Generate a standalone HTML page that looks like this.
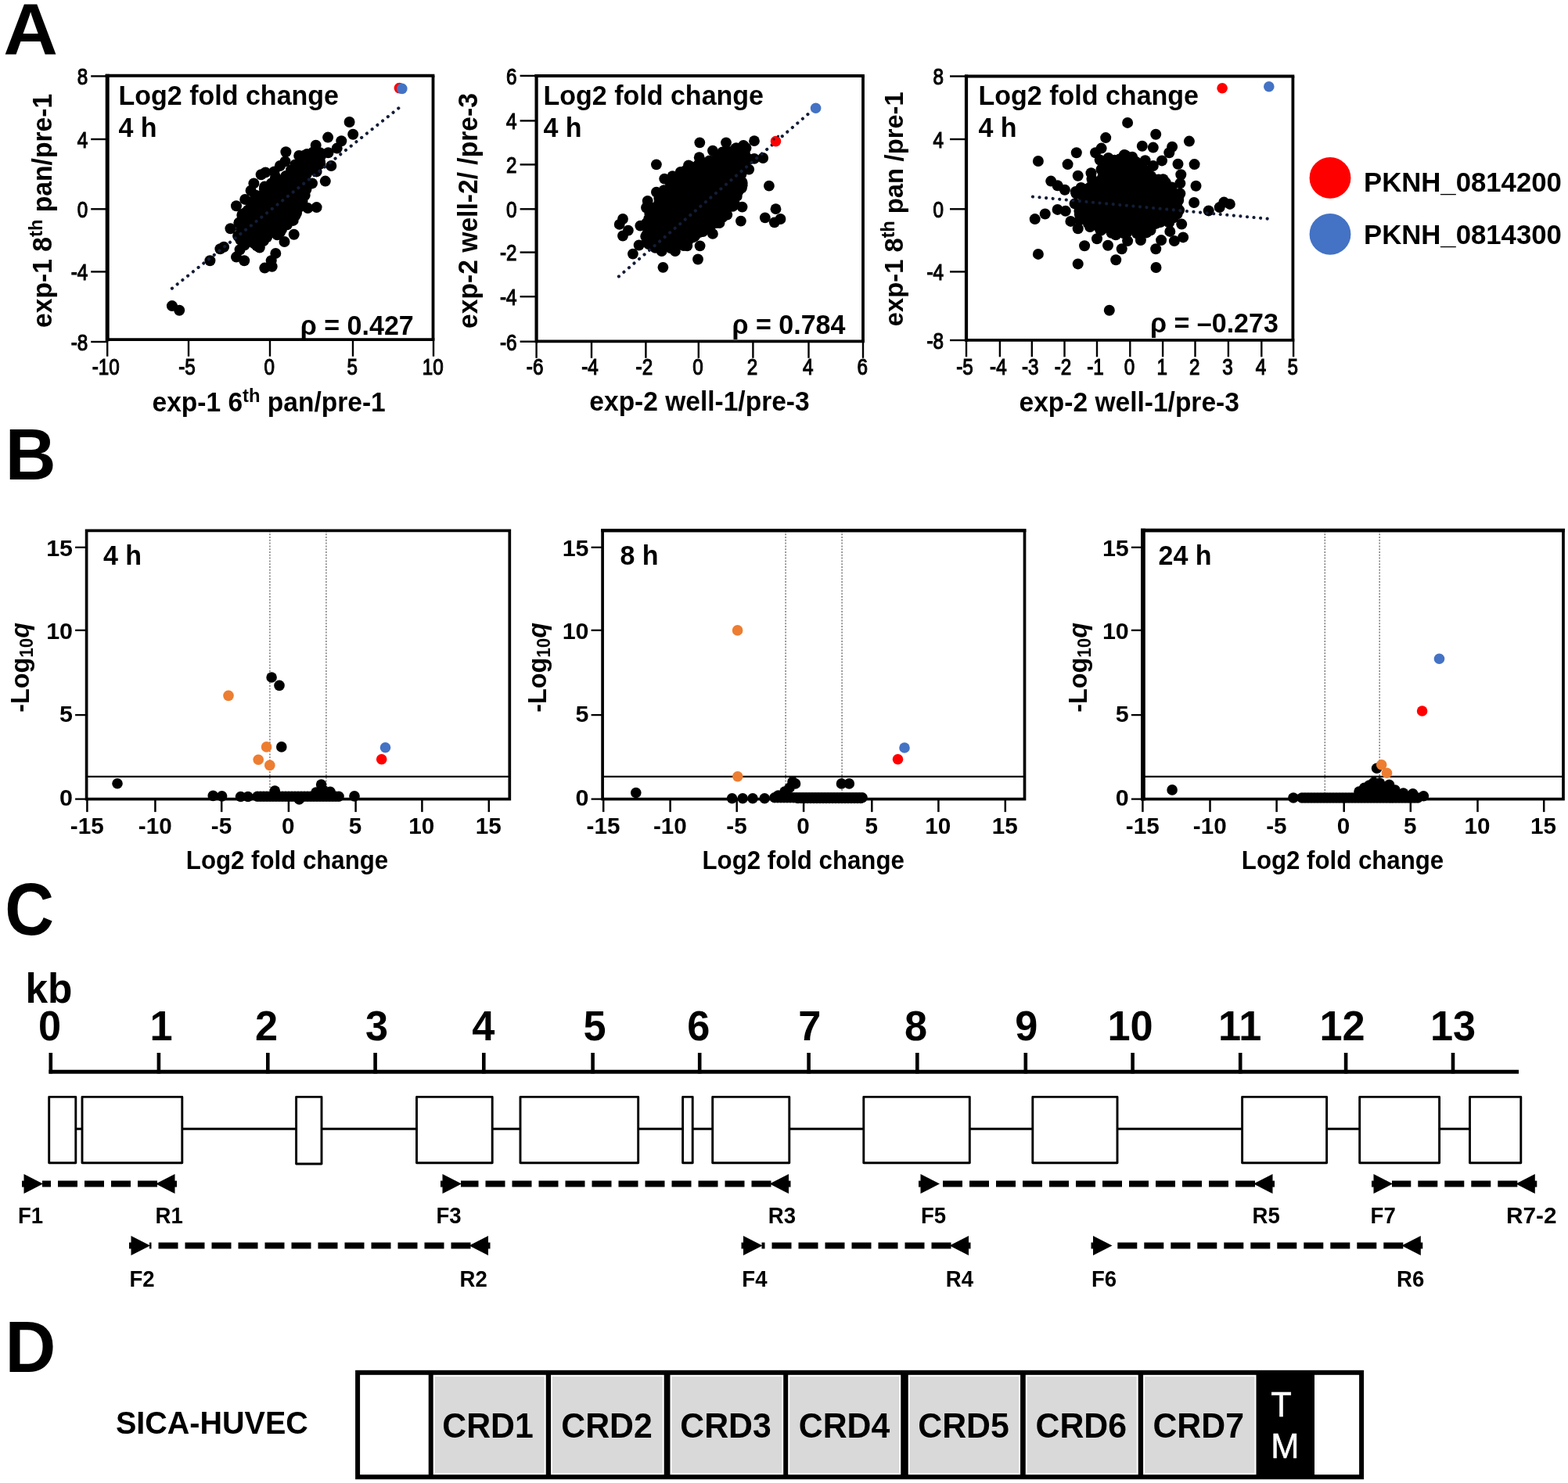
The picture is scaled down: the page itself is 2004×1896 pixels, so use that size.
<!DOCTYPE html>
<html lang="en"><head><meta charset="utf-8"><title>Figure</title>
<style>html,body{margin:0;padding:0;background:#fff}svg{display:block}text{font-family:'Liberation Sans', Arial, Helvetica, sans-serif}</style>
</head><body>
<svg width="2004" height="1896" viewBox="0 0 2004 1896">
<rect width="2004" height="1896" fill="#fff"/>
<text transform="translate(4.2 68.6) scale(1.0360 1)" font-size="93.2" font-weight="bold" text-anchor="start" fill="#000">A</text>
<text transform="translate(6.8 613) scale(0.9637 1)" font-size="93.2" font-weight="bold" text-anchor="start" fill="#000">B</text>
<text transform="translate(6.2 1195.2) scale(0.9203 1)" font-size="94.4" font-weight="bold" text-anchor="start" fill="#000">C</text>
<text transform="translate(6.4 1754.4) scale(0.9637 1)" font-size="93.2" font-weight="bold" text-anchor="start" fill="#000">D</text>
<line x1="137.2" y1="94.8" x2="137.2" y2="436.2" stroke="#000" stroke-width="5"/>
<line x1="134.7" y1="96.8" x2="555.4" y2="96.8" stroke="#000" stroke-width="4"/>
<line x1="553.5" y1="96.8" x2="553.5" y2="434.2" stroke="#000" stroke-width="3.8"/>
<line x1="137.2" y1="434.2" x2="555.4" y2="434.2" stroke="#000" stroke-width="3.8"/>
<line x1="116.2" y1="97.4" x2="137.2" y2="97.4" stroke="#000" stroke-width="2.4"/>
<text transform="translate(112.2 108.2) scale(0.8191 1)" font-size="29.6" font-weight="normal" text-anchor="end" fill="#000" stroke="#000" stroke-width="1.2">8</text>
<line x1="116.2" y1="178" x2="137.2" y2="178" stroke="#000" stroke-width="2.4"/>
<text transform="translate(112.2 188.8) scale(0.8191 1)" font-size="29.6" font-weight="normal" text-anchor="end" fill="#000" stroke="#000" stroke-width="1.2">4</text>
<line x1="116.2" y1="267.3" x2="137.2" y2="267.3" stroke="#000" stroke-width="2.4"/>
<text transform="translate(112.2 278.1) scale(0.8191 1)" font-size="29.6" font-weight="normal" text-anchor="end" fill="#000" stroke="#000" stroke-width="1.2">0</text>
<line x1="116.2" y1="347.4" x2="137.2" y2="347.4" stroke="#000" stroke-width="2.4"/>
<text transform="translate(112.2 358.2) scale(0.8191 1)" font-size="29.6" font-weight="normal" text-anchor="end" fill="#000" stroke="#000" stroke-width="1.2">-4</text>
<line x1="116.2" y1="437" x2="137.2" y2="437" stroke="#000" stroke-width="2.4"/>
<text transform="translate(112.2 447.8) scale(0.8191 1)" font-size="29.6" font-weight="normal" text-anchor="end" fill="#000" stroke="#000" stroke-width="1.2">-8</text>
<line x1="137.2" y1="434.2" x2="137.2" y2="455.7" stroke="#000" stroke-width="2.4"/>
<text transform="translate(135.2 478.6) scale(0.8191 1)" font-size="29.6" font-weight="normal" text-anchor="middle" fill="#000" stroke="#000" stroke-width="1.2">-10</text>
<line x1="241" y1="434.2" x2="241" y2="455.7" stroke="#000" stroke-width="2.4"/>
<text transform="translate(239 478.6) scale(0.8191 1)" font-size="29.6" font-weight="normal" text-anchor="middle" fill="#000" stroke="#000" stroke-width="1.2">-5</text>
<line x1="345" y1="434.2" x2="345" y2="455.7" stroke="#000" stroke-width="2.4"/>
<text transform="translate(344.2 478.6) scale(0.8191 1)" font-size="29.6" font-weight="normal" text-anchor="middle" fill="#000" stroke="#000" stroke-width="1.2">0</text>
<line x1="451" y1="434.2" x2="451" y2="455.7" stroke="#000" stroke-width="2.4"/>
<text transform="translate(450.2 478.6) scale(0.8191 1)" font-size="29.6" font-weight="normal" text-anchor="middle" fill="#000" stroke="#000" stroke-width="1.2">5</text>
<line x1="554" y1="434.2" x2="554" y2="455.7" stroke="#000" stroke-width="2.4"/>
<text transform="translate(553.2 478.6) scale(0.8191 1)" font-size="29.6" font-weight="normal" text-anchor="middle" fill="#000" stroke="#000" stroke-width="1.2">10</text>
<text transform="translate(65.7 269.4) rotate(-90) scale(0.9637 1)" font-size="34.9" font-weight="bold" text-anchor="middle" fill="#000">exp-1 8<tspan dy="-11.6" font-size="24.7">th</tspan><tspan dy="11.6" font-size="35.3">&#8203;</tspan> pan/pre-1</text>
<text transform="translate(343.6 525.5) scale(0.9637 1)" font-size="34.8" font-weight="bold" text-anchor="middle" fill="#000">exp-1 6<tspan dy="-11.6" font-size="24.7">th</tspan><tspan dy="11.6" font-size="35.3">&#8203;</tspan> pan/pre-1</text>
<text transform="translate(151.5 134.4) scale(0.9637 1)" font-size="35.3" font-weight="bold" text-anchor="start" fill="#000">Log2 fold change</text>
<text transform="translate(151.5 174.5) scale(0.9637 1)" font-size="35.3" font-weight="bold" text-anchor="start" fill="#000">4 h</text>
<text transform="translate(383.8 427.7) scale(0.9637 1)" font-size="35.3" font-weight="bold" text-anchor="start" fill="#000">&#961; = 0.427</text>
<g fill="#000">
<circle cx="446.6" cy="156" r="7"/><circle cx="451.2" cy="171.8" r="7"/><circle cx="419.1" cy="175.6" r="7"/><circle cx="436.3" cy="180.2" r="7"/><circle cx="403.7" cy="185.8" r="7"/><circle cx="430.7" cy="189.6" r="7"/><circle cx="365.4" cy="194.2" r="7"/><circle cx="419.5" cy="195.2" r="7"/><circle cx="382.2" cy="198.9" r="7"/><circle cx="364.5" cy="206.4" r="7"/><circle cx="423.3" cy="212" r="7"/><circle cx="339.3" cy="220.4" r="7"/><circle cx="333.7" cy="223.2" r="7"/><circle cx="415.8" cy="231.6" r="7"/><circle cx="320.6" cy="243.7" r="7"/><circle cx="302" cy="263.3" r="7"/><circle cx="404.6" cy="265.1" r="7"/><circle cx="393.4" cy="266.1" r="7"/><circle cx="294.5" cy="292.2" r="7"/><circle cx="305.7" cy="284.7" r="7"/><circle cx="374.7" cy="281.9" r="7"/><circle cx="375.7" cy="299.7" r="7"/><circle cx="363.5" cy="309" r="7"/><circle cx="306.6" cy="319.3" r="7"/><circle cx="302" cy="328.6" r="7"/><circle cx="312.2" cy="333.3" r="7"/><circle cx="281.4" cy="318.3" r="7"/><circle cx="268.4" cy="333.3" r="7"/><circle cx="352.3" cy="323.9" r="7"/><circle cx="346.7" cy="333.3" r="7"/><circle cx="338.3" cy="342.6" r="7"/><circle cx="347.7" cy="340.7" r="7"/><circle cx="219.9" cy="391.1" r="7"/><circle cx="229.2" cy="396.7" r="7"/><circle cx="286.1" cy="315.7" r="7"/><circle cx="395.3" cy="204.5" r="7"/><circle cx="404.6" cy="219.4" r="7"/><circle cx="385.9" cy="212" r="7"/><circle cx="376.6" cy="219.4" r="7"/><circle cx="316.9" cy="297.8" r="7"/><circle cx="324.4" cy="310.9" r="7"/><circle cx="331.8" cy="316.5" r="7"/><circle cx="357.9" cy="288.5" r="7"/><circle cx="367.3" cy="275.4" r="7"/><circle cx="384.1" cy="254.9" r="7"/><circle cx="391.5" cy="241.8" r="7"/><circle cx="399" cy="234.4" r="7"/><circle cx="313.2" cy="254.9" r="7"/><circle cx="309.4" cy="275.4" r="7"/><circle cx="324.4" cy="234.4" r="7"/><circle cx="350.5" cy="219.4" r="7"/><circle cx="357.9" cy="212" r="7"/><circle cx="348.8" cy="274.8" r="7"/><circle cx="342.1" cy="268" r="7"/><circle cx="331.4" cy="282.1" r="7"/><circle cx="370.7" cy="248.2" r="7"/><circle cx="367.9" cy="248.3" r="7"/><circle cx="356.8" cy="260" r="7"/><circle cx="328.5" cy="304.2" r="7"/><circle cx="361.3" cy="260.2" r="7"/><circle cx="305.4" cy="285" r="7"/><circle cx="329.8" cy="279.4" r="7"/><circle cx="353.3" cy="259.9" r="7"/><circle cx="351.6" cy="251.3" r="7"/><circle cx="357.2" cy="263.2" r="7"/><circle cx="352.7" cy="291.7" r="7"/><circle cx="368.3" cy="264.6" r="7"/><circle cx="331.9" cy="272.3" r="7"/><circle cx="342" cy="271.8" r="7"/><circle cx="361.2" cy="255.9" r="7"/><circle cx="332.9" cy="267.3" r="7"/><circle cx="350.7" cy="285.2" r="7"/><circle cx="337.4" cy="283.3" r="7"/><circle cx="342.7" cy="246.7" r="7"/><circle cx="360.8" cy="275.1" r="7"/><circle cx="312.5" cy="301.9" r="7"/><circle cx="339.7" cy="261.9" r="7"/><circle cx="356.3" cy="256.1" r="7"/><circle cx="331.6" cy="300.2" r="7"/><circle cx="367.9" cy="260.5" r="7"/><circle cx="375.6" cy="241.4" r="7"/><circle cx="339.2" cy="253.9" r="7"/><circle cx="353.4" cy="249.7" r="7"/><circle cx="330.1" cy="265.1" r="7"/><circle cx="328" cy="280.4" r="7"/><circle cx="352.2" cy="226.2" r="7"/><circle cx="326.6" cy="295.6" r="7"/><circle cx="377.5" cy="243" r="7"/><circle cx="348.1" cy="253.7" r="7"/><circle cx="338.6" cy="294.8" r="7"/><circle cx="368.2" cy="246.3" r="7"/><circle cx="356.5" cy="264.7" r="7"/><circle cx="380.4" cy="240.5" r="7"/><circle cx="362" cy="260.4" r="7"/><circle cx="333.9" cy="305.6" r="7"/><circle cx="369" cy="251.9" r="7"/><circle cx="310.5" cy="298.8" r="7"/><circle cx="346.7" cy="236.3" r="7"/><circle cx="354.5" cy="277.3" r="7"/><circle cx="341" cy="303.2" r="7"/><circle cx="356.4" cy="254.4" r="7"/><circle cx="359.7" cy="264.8" r="7"/><circle cx="360.6" cy="272.5" r="7"/><circle cx="334.1" cy="275.5" r="7"/><circle cx="366.1" cy="246.5" r="7"/><circle cx="342.3" cy="290" r="7"/><circle cx="368.9" cy="234.8" r="7"/><circle cx="324.6" cy="291.3" r="7"/><circle cx="343.5" cy="266.6" r="7"/><circle cx="362.9" cy="231.6" r="7"/><circle cx="358.4" cy="232.5" r="7"/><circle cx="341.1" cy="285.8" r="7"/><circle cx="374.8" cy="251.1" r="7"/><circle cx="355.6" cy="260.6" r="7"/><circle cx="356.2" cy="267.5" r="7"/><circle cx="348.1" cy="271.5" r="7"/><circle cx="358.1" cy="255.2" r="7"/><circle cx="366.2" cy="255.8" r="7"/><circle cx="384.7" cy="230.3" r="7"/><circle cx="338.3" cy="271.4" r="7"/><circle cx="356.5" cy="273.3" r="7"/><circle cx="346.4" cy="275.4" r="7"/><circle cx="332.2" cy="289.3" r="7"/><circle cx="357.3" cy="260.3" r="7"/><circle cx="347.2" cy="279.2" r="7"/><circle cx="348.7" cy="256.7" r="7"/><circle cx="391.9" cy="222.6" r="7"/><circle cx="338.6" cy="275.9" r="7"/><circle cx="344.3" cy="269.9" r="7"/><circle cx="355.1" cy="238" r="7"/><circle cx="355.8" cy="274.6" r="7"/><circle cx="375.8" cy="261.1" r="7"/><circle cx="317.4" cy="295.7" r="7"/><circle cx="348.4" cy="277.3" r="7"/><circle cx="354" cy="234.4" r="7"/><circle cx="346.9" cy="241.8" r="7"/><circle cx="361.9" cy="271.8" r="7"/><circle cx="347.8" cy="270.4" r="7"/><circle cx="363" cy="252" r="7"/><circle cx="360.5" cy="279.4" r="7"/><circle cx="363.4" cy="243.9" r="7"/><circle cx="361.4" cy="246.7" r="7"/><circle cx="357" cy="268.9" r="7"/><circle cx="357.9" cy="266.7" r="7"/><circle cx="310.2" cy="283.7" r="7"/><circle cx="350.4" cy="247.1" r="7"/><circle cx="318.8" cy="274.4" r="7"/><circle cx="376.1" cy="247.7" r="7"/><circle cx="364.8" cy="231" r="7"/><circle cx="338.7" cy="257.4" r="7"/><circle cx="375.1" cy="263.6" r="7"/><circle cx="347.5" cy="294.8" r="7"/><circle cx="363.4" cy="245.9" r="7"/><circle cx="328.3" cy="314.2" r="7"/><circle cx="341.8" cy="263.3" r="7"/><circle cx="358.8" cy="261.6" r="7"/><circle cx="364.5" cy="229.9" r="7"/><circle cx="380.4" cy="255.8" r="7"/><circle cx="371" cy="237.1" r="7"/><circle cx="345.2" cy="288" r="7"/><circle cx="351.6" cy="264.8" r="7"/><circle cx="369.8" cy="237" r="7"/><circle cx="307.3" cy="306.8" r="7"/><circle cx="325.1" cy="307.5" r="7"/><circle cx="348.5" cy="255.4" r="7"/><circle cx="355.7" cy="272.6" r="7"/><circle cx="361.5" cy="274.6" r="7"/><circle cx="356.7" cy="275.1" r="7"/><circle cx="387.3" cy="249.9" r="7"/><circle cx="345.2" cy="285.5" r="7"/><circle cx="308.1" cy="293.5" r="7"/><circle cx="325.5" cy="311.5" r="7"/><circle cx="328.1" cy="289.4" r="7"/><circle cx="345.2" cy="269.5" r="7"/><circle cx="340.9" cy="279.1" r="7"/><circle cx="378.6" cy="232.4" r="7"/><circle cx="366.1" cy="263.6" r="7"/><circle cx="334.3" cy="260.3" r="7"/><circle cx="348.8" cy="284.8" r="7"/><circle cx="316.2" cy="292.8" r="7"/><circle cx="372.2" cy="252.9" r="7"/><circle cx="355.8" cy="272" r="7"/><circle cx="341.1" cy="254" r="7"/><circle cx="317.2" cy="291" r="7"/><circle cx="358.9" cy="244.2" r="7"/><circle cx="327" cy="277.4" r="7"/><circle cx="322.3" cy="294.3" r="7"/><circle cx="332.3" cy="291.3" r="7"/><circle cx="312.5" cy="313.4" r="7"/><circle cx="321" cy="263.5" r="7"/><circle cx="358.2" cy="250.2" r="7"/><circle cx="304.1" cy="301.8" r="7"/><circle cx="349.4" cy="257.1" r="7"/><circle cx="368" cy="256.9" r="7"/><circle cx="362.5" cy="255.9" r="7"/><circle cx="376.4" cy="245.7" r="7"/><circle cx="337.9" cy="241.7" r="7"/><circle cx="374.9" cy="259" r="7"/><circle cx="339.6" cy="268.2" r="7"/><circle cx="377.5" cy="275.6" r="7"/><circle cx="339.3" cy="288.9" r="7"/><circle cx="378.7" cy="229.3" r="7"/><circle cx="365.8" cy="262.3" r="7"/><circle cx="332.9" cy="282.6" r="7"/><circle cx="360.7" cy="266.8" r="7"/><circle cx="346.3" cy="265.2" r="7"/><circle cx="328.7" cy="282.7" r="7"/><circle cx="364.2" cy="249.9" r="7"/><circle cx="327.2" cy="275.9" r="7"/><circle cx="363.1" cy="257.9" r="7"/><circle cx="380.2" cy="237.3" r="7"/><circle cx="352.1" cy="271.3" r="7"/><circle cx="325.5" cy="310.9" r="7"/><circle cx="347.9" cy="254.6" r="7"/><circle cx="386.3" cy="254.6" r="7"/><circle cx="319.6" cy="287.7" r="7"/><circle cx="355" cy="261.9" r="7"/><circle cx="333.5" cy="266.3" r="7"/><circle cx="392.7" cy="233.6" r="7"/><circle cx="317.1" cy="278.6" r="7"/><circle cx="385.4" cy="241.2" r="7"/><circle cx="385.8" cy="237.6" r="7"/><circle cx="336.5" cy="284.6" r="7"/><circle cx="306.4" cy="301.5" r="7"/><circle cx="352.2" cy="271.2" r="7"/><circle cx="335.5" cy="279" r="7"/><circle cx="359.5" cy="260.2" r="7"/><circle cx="361" cy="255.5" r="7"/><circle cx="350.1" cy="278.2" r="7"/><circle cx="342.2" cy="258.9" r="7"/><circle cx="338.3" cy="278" r="7"/><circle cx="348.2" cy="269.4" r="7"/><circle cx="350.1" cy="267.4" r="7"/><circle cx="335.4" cy="259.1" r="7"/><circle cx="364.8" cy="266.1" r="7"/><circle cx="354.1" cy="256.4" r="7"/><circle cx="347.6" cy="250.3" r="7"/><circle cx="317.8" cy="302.6" r="7"/><circle cx="339.7" cy="289.4" r="7"/><circle cx="345.2" cy="297.8" r="7"/><circle cx="330.3" cy="262.9" r="7"/><circle cx="340.5" cy="284.5" r="7"/><circle cx="358.4" cy="258" r="7"/><circle cx="379.3" cy="243.2" r="7"/><circle cx="353.5" cy="271" r="7"/><circle cx="384.4" cy="242" r="7"/><circle cx="356.1" cy="238.4" r="7"/><circle cx="352.5" cy="274.4" r="7"/><circle cx="353" cy="279.8" r="7"/><circle cx="366.4" cy="261.6" r="7"/><circle cx="367.2" cy="240.9" r="7"/><circle cx="350.6" cy="279.2" r="7"/><circle cx="364.9" cy="247.5" r="7"/><circle cx="331" cy="289.7" r="7"/><circle cx="364.4" cy="267.8" r="7"/><circle cx="361.8" cy="251.4" r="7"/><circle cx="367.4" cy="253.9" r="7"/><circle cx="352.5" cy="262.6" r="7"/><circle cx="350.6" cy="275.9" r="7"/><circle cx="325.7" cy="281.3" r="7"/><circle cx="335.9" cy="254.9" r="7"/><circle cx="323.9" cy="259.1" r="7"/><circle cx="342.3" cy="283.4" r="7"/><circle cx="357.5" cy="254.9" r="7"/><circle cx="332.4" cy="259.7" r="7"/><circle cx="383.3" cy="235.2" r="7"/><circle cx="359" cy="238.6" r="7"/><circle cx="329.7" cy="255.8" r="7"/><circle cx="369.7" cy="258.3" r="7"/><circle cx="316.8" cy="301.8" r="7"/><circle cx="343.6" cy="240.7" r="7"/><circle cx="309.1" cy="292.7" r="7"/><circle cx="326" cy="267.4" r="7"/><circle cx="351.3" cy="267.4" r="7"/><circle cx="365.2" cy="259.4" r="7"/><circle cx="383.6" cy="246.3" r="7"/><circle cx="322.5" cy="287.2" r="7"/><circle cx="321.7" cy="278.1" r="7"/><circle cx="347.3" cy="267.7" r="7"/><circle cx="342.9" cy="244.7" r="7"/><circle cx="328" cy="289.4" r="7"/><circle cx="342.6" cy="267.5" r="7"/><circle cx="340.9" cy="261.5" r="7"/><circle cx="363.3" cy="255.4" r="7"/><circle cx="341.3" cy="262.6" r="7"/><circle cx="332.7" cy="285" r="7"/><circle cx="325.5" cy="296.2" r="7"/><circle cx="339" cy="252.8" r="7"/><circle cx="341.7" cy="268.5" r="7"/><circle cx="361.6" cy="262" r="7"/><circle cx="340.6" cy="260.3" r="7"/><circle cx="345.7" cy="268.3" r="7"/><circle cx="363.3" cy="254.3" r="7"/><circle cx="324.8" cy="269.5" r="7"/><circle cx="336" cy="267.5" r="7"/><circle cx="329.2" cy="286.3" r="7"/><circle cx="341.4" cy="276.2" r="7"/><circle cx="353.7" cy="253" r="7"/><circle cx="384.2" cy="219.4" r="7"/><circle cx="367.9" cy="246.1" r="7"/><circle cx="338.3" cy="282.2" r="7"/><circle cx="379" cy="272.4" r="7"/><circle cx="365.1" cy="269.7" r="7"/><circle cx="369.6" cy="258.7" r="7"/><circle cx="355.7" cy="255.2" r="7"/><circle cx="347.6" cy="248.2" r="7"/><circle cx="359.3" cy="235.9" r="7"/><circle cx="371.2" cy="277.4" r="7"/><circle cx="345.1" cy="270.5" r="7"/><circle cx="368.1" cy="244.2" r="7"/><circle cx="337.5" cy="283.4" r="7"/><circle cx="364.4" cy="260.4" r="7"/><circle cx="351.1" cy="294.1" r="7"/><circle cx="376.3" cy="234.5" r="7"/><circle cx="349.3" cy="257.7" r="7"/><circle cx="365.8" cy="233.8" r="7"/><circle cx="355.6" cy="249.6" r="7"/><circle cx="343.4" cy="284.7" r="7"/><circle cx="370.6" cy="240.6" r="7"/><circle cx="344.5" cy="285.1" r="7"/><circle cx="350.5" cy="269.4" r="7"/><circle cx="383.7" cy="245.7" r="7"/><circle cx="360" cy="293.3" r="7"/><circle cx="355.5" cy="272" r="7"/><circle cx="337.5" cy="278" r="7"/><circle cx="360.6" cy="230.9" r="7"/><circle cx="309.6" cy="282.4" r="7"/><circle cx="364" cy="240.2" r="7"/><circle cx="344.9" cy="264.9" r="7"/><circle cx="337.1" cy="260.1" r="7"/><circle cx="336.5" cy="254.7" r="7"/><circle cx="350.1" cy="269.8" r="7"/><circle cx="354.3" cy="255.4" r="7"/><circle cx="335.1" cy="284.5" r="7"/><circle cx="354.3" cy="287.2" r="7"/><circle cx="360.3" cy="250.6" r="7"/><circle cx="334.7" cy="269.7" r="7"/><circle cx="330" cy="281.2" r="7"/><circle cx="358" cy="264.4" r="7"/><circle cx="376.3" cy="271.2" r="7"/><circle cx="337.1" cy="279.6" r="7"/><circle cx="341.5" cy="277.3" r="7"/><circle cx="354.7" cy="266.2" r="7"/><circle cx="347.9" cy="273.4" r="7"/><circle cx="356.2" cy="270.9" r="7"/><circle cx="309.6" cy="295.3" r="7"/><circle cx="339.6" cy="258.3" r="7"/><circle cx="336.8" cy="290.7" r="7"/><circle cx="343.4" cy="283.3" r="7"/><circle cx="363.6" cy="254.2" r="7"/><circle cx="356.1" cy="255.6" r="7"/><circle cx="325.1" cy="292.6" r="7"/><circle cx="351.5" cy="253.4" r="7"/><circle cx="353.5" cy="273.7" r="7"/><circle cx="339.7" cy="287.6" r="7"/><circle cx="374.6" cy="226.5" r="7"/><circle cx="349.7" cy="262.1" r="7"/><circle cx="376.8" cy="239.2" r="7"/><circle cx="357.4" cy="243.8" r="7"/><circle cx="348.3" cy="266.3" r="7"/><circle cx="331.8" cy="310.8" r="7"/><circle cx="348.2" cy="235.7" r="7"/><circle cx="359.8" cy="250.9" r="7"/><circle cx="359.2" cy="260.3" r="7"/><circle cx="322" cy="293" r="7"/><circle cx="368.3" cy="233.3" r="7"/><circle cx="319.8" cy="275.2" r="7"/><circle cx="331.4" cy="291.8" r="7"/><circle cx="380.3" cy="237.2" r="7"/><circle cx="372.2" cy="278.4" r="7"/><circle cx="334.1" cy="270.8" r="7"/><circle cx="362.1" cy="260.2" r="7"/><circle cx="321.6" cy="276.5" r="7"/><circle cx="355.6" cy="262.4" r="7"/><circle cx="325.2" cy="289.4" r="7"/><circle cx="343.7" cy="279.9" r="7"/><circle cx="345.9" cy="267.6" r="7"/><circle cx="352" cy="280.8" r="7"/><circle cx="368.4" cy="236.8" r="7"/><circle cx="356" cy="244.2" r="7"/><circle cx="356.3" cy="270.4" r="7"/><circle cx="370.3" cy="234.4" r="7"/><circle cx="349.1" cy="269" r="7"/><circle cx="324" cy="294.7" r="7"/><circle cx="340.7" cy="281.7" r="7"/><circle cx="312.7" cy="272.6" r="7"/><circle cx="351.5" cy="267.3" r="7"/><circle cx="347.3" cy="283.3" r="7"/><circle cx="338.8" cy="266.7" r="7"/><circle cx="342.8" cy="245.1" r="7"/><circle cx="337.2" cy="278.8" r="7"/><circle cx="361.2" cy="248.7" r="7"/><circle cx="348" cy="255.2" r="7"/><circle cx="368.1" cy="273" r="7"/><circle cx="357.9" cy="297.1" r="7"/><circle cx="338.1" cy="278.4" r="7"/><circle cx="360.4" cy="270.6" r="7"/><circle cx="309.8" cy="273.7" r="7"/><circle cx="365.6" cy="260.6" r="7"/><circle cx="354.2" cy="264.1" r="7"/><circle cx="367.2" cy="251.2" r="7"/><circle cx="365.3" cy="225" r="7"/><circle cx="358.8" cy="247.8" r="7"/><circle cx="382.7" cy="264.9" r="7"/><circle cx="346.3" cy="264.3" r="7"/><circle cx="333" cy="269.2" r="7"/><circle cx="343.8" cy="282.9" r="7"/><circle cx="349.8" cy="265.9" r="7"/><circle cx="353.7" cy="276.3" r="7"/><circle cx="355.5" cy="255.6" r="7"/><circle cx="358.3" cy="252.3" r="7"/><circle cx="342.3" cy="299" r="7"/><circle cx="347.9" cy="250" r="7"/><circle cx="369.5" cy="248.2" r="7"/><circle cx="336.8" cy="308" r="7"/><circle cx="361.9" cy="266.5" r="7"/><circle cx="350.6" cy="261.2" r="7"/><circle cx="331.5" cy="302.9" r="7"/><circle cx="346.6" cy="263.3" r="7"/><circle cx="355.1" cy="260" r="7"/><circle cx="356.5" cy="250.4" r="7"/><circle cx="329.3" cy="250.5" r="7"/><circle cx="347.5" cy="279.3" r="7"/><circle cx="367.5" cy="237.9" r="7"/><circle cx="360.4" cy="280.4" r="7"/><circle cx="349.6" cy="277.8" r="7"/><circle cx="376.7" cy="234.5" r="7"/><circle cx="362.7" cy="237.4" r="7"/><circle cx="351.4" cy="261.5" r="7"/><circle cx="360.4" cy="272.5" r="7"/><circle cx="382.3" cy="215.6" r="7"/><circle cx="343.4" cy="280.8" r="7"/><circle cx="335.5" cy="289.9" r="7"/><circle cx="355.6" cy="253.1" r="7"/><circle cx="343.9" cy="244.2" r="7"/><circle cx="347.7" cy="239.9" r="7"/><circle cx="332.2" cy="275.1" r="7"/><circle cx="349.5" cy="280.2" r="7"/><circle cx="346.5" cy="261.5" r="7"/><circle cx="371.4" cy="267.7" r="7"/><circle cx="351.9" cy="268.7" r="7"/><circle cx="371.4" cy="244.5" r="7"/><circle cx="351.6" cy="270" r="7"/><circle cx="370.4" cy="252.8" r="7"/><circle cx="334.9" cy="263.3" r="7"/><circle cx="359.3" cy="272" r="7"/><circle cx="321.6" cy="279" r="7"/><circle cx="331.3" cy="251.8" r="7"/><circle cx="340.5" cy="267.7" r="7"/><circle cx="349.9" cy="252.2" r="7"/><circle cx="330.6" cy="279.9" r="7"/><circle cx="342" cy="262" r="7"/><circle cx="355.4" cy="271.5" r="7"/><circle cx="383.1" cy="256.5" r="7"/><circle cx="332" cy="277.8" r="7"/><circle cx="336.3" cy="279.6" r="7"/><circle cx="345.4" cy="245.8" r="7"/><circle cx="356" cy="257.1" r="7"/><circle cx="321" cy="303" r="7"/><circle cx="352" cy="229.2" r="7"/><circle cx="363.8" cy="252.3" r="7"/><circle cx="360.3" cy="260.4" r="7"/><circle cx="368.2" cy="239.6" r="7"/><circle cx="359.5" cy="246.4" r="7"/><circle cx="353.5" cy="246.1" r="7"/><circle cx="361.9" cy="281.3" r="7"/><circle cx="354.6" cy="256.4" r="7"/><circle cx="322.8" cy="281.8" r="7"/><circle cx="360" cy="269.5" r="7"/><circle cx="360.2" cy="262" r="7"/><circle cx="359.7" cy="277.1" r="7"/><circle cx="337.4" cy="269.3" r="7"/><circle cx="363.8" cy="249.7" r="7"/><circle cx="339" cy="267" r="7"/><circle cx="349.8" cy="275.7" r="7"/><circle cx="343.9" cy="250.2" r="7"/><circle cx="357.2" cy="259.3" r="7"/><circle cx="338.8" cy="291" r="7"/><circle cx="341" cy="268.9" r="7"/><circle cx="373.3" cy="261" r="7"/><circle cx="341.1" cy="282.5" r="7"/><circle cx="354.3" cy="300.3" r="7"/><circle cx="350.9" cy="284.5" r="7"/><circle cx="345" cy="284.5" r="7"/><circle cx="345.8" cy="278.1" r="7"/><circle cx="341.2" cy="262.8" r="7"/><circle cx="384.9" cy="225.8" r="7"/><circle cx="328.9" cy="303.8" r="7"/><circle cx="330.2" cy="307.5" r="7"/><circle cx="340.3" cy="278.2" r="7"/><circle cx="370.5" cy="243" r="7"/><circle cx="310.8" cy="279.7" r="7"/><circle cx="374.6" cy="249.2" r="7"/><circle cx="342.6" cy="288.1" r="7"/><circle cx="362.5" cy="261.5" r="7"/><circle cx="308.6" cy="306.7" r="7"/><circle cx="369.9" cy="254.5" r="7"/><circle cx="355.7" cy="266.6" r="7"/><circle cx="343.5" cy="272.6" r="7"/><circle cx="359.4" cy="245.9" r="7"/><circle cx="360.7" cy="238.3" r="7"/><circle cx="348.4" cy="257" r="7"/><circle cx="345.2" cy="257.8" r="7"/><circle cx="331.8" cy="304.7" r="7"/><circle cx="348.7" cy="256.1" r="7"/><circle cx="360.6" cy="269.8" r="7"/><circle cx="331.5" cy="283.8" r="7"/><circle cx="362.1" cy="259.8" r="7"/><circle cx="324.7" cy="256.5" r="7"/><circle cx="372" cy="244.9" r="7"/><circle cx="346.4" cy="263.7" r="7"/><circle cx="349.2" cy="257.8" r="7"/><circle cx="325.2" cy="279.9" r="7"/><circle cx="333.4" cy="272.8" r="7"/><circle cx="335" cy="292.9" r="7"/><circle cx="332.7" cy="296" r="7"/><circle cx="334.9" cy="288" r="7"/><circle cx="373.1" cy="241.5" r="7"/><circle cx="337" cy="280.3" r="7"/><circle cx="335.9" cy="250.1" r="7"/><circle cx="340" cy="278.9" r="7"/><circle cx="341.6" cy="275.6" r="7"/><circle cx="367.4" cy="257.9" r="7"/><circle cx="368.7" cy="253.3" r="7"/><circle cx="343.7" cy="271.4" r="7"/><circle cx="341.4" cy="268.9" r="7"/><circle cx="330.6" cy="256.4" r="7"/><circle cx="342.9" cy="272.2" r="7"/><circle cx="332.3" cy="284.4" r="7"/><circle cx="355.7" cy="255" r="7"/><circle cx="329.3" cy="256.1" r="7"/><circle cx="354.6" cy="253.9" r="7"/><circle cx="338.1" cy="238.6" r="7"/><circle cx="365.9" cy="252.7" r="7"/><circle cx="343.9" cy="261.2" r="7"/><circle cx="354.9" cy="250.3" r="7"/><circle cx="347.8" cy="258" r="7"/><circle cx="311.2" cy="308.6" r="7"/><circle cx="358.5" cy="268" r="7"/><circle cx="333.8" cy="282.5" r="7"/><circle cx="360.1" cy="255.4" r="7"/><circle cx="386.5" cy="257.6" r="7"/><circle cx="316.8" cy="268.8" r="7"/><circle cx="376.1" cy="261.4" r="7"/><circle cx="371" cy="254.7" r="7"/><circle cx="332.2" cy="272.4" r="7"/><circle cx="355.3" cy="242.3" r="7"/><circle cx="309.9" cy="293" r="7"/><circle cx="330.9" cy="273.6" r="7"/><circle cx="345.9" cy="256" r="7"/><circle cx="369.6" cy="240.6" r="7"/><circle cx="342.1" cy="296.7" r="7"/><circle cx="340.9" cy="278.8" r="7"/><circle cx="345.7" cy="263.9" r="7"/><circle cx="347.9" cy="254.6" r="7"/><circle cx="321.1" cy="284.4" r="7"/><circle cx="348.7" cy="266.9" r="7"/><circle cx="358.8" cy="256.4" r="7"/><circle cx="329.3" cy="275.8" r="7"/><circle cx="312.1" cy="305.1" r="7"/><circle cx="361.2" cy="260.9" r="7"/><circle cx="345.1" cy="267.1" r="7"/><circle cx="364.2" cy="248.4" r="7"/><circle cx="365.9" cy="256.5" r="7"/><circle cx="363.5" cy="271.9" r="7"/><circle cx="336" cy="274.2" r="7"/><circle cx="328.3" cy="275.4" r="7"/><circle cx="389.7" cy="249.8" r="7"/><circle cx="354" cy="270" r="7"/><circle cx="375.1" cy="249.9" r="7"/><circle cx="357.5" cy="233.6" r="7"/><circle cx="342" cy="281.7" r="7"/><circle cx="373.2" cy="239.6" r="7"/><circle cx="331.3" cy="279.7" r="7"/><circle cx="330.2" cy="272.1" r="7"/><circle cx="368" cy="232.8" r="7"/><circle cx="367.8" cy="282.1" r="7"/><circle cx="371.1" cy="246.1" r="7"/><circle cx="342.1" cy="280.8" r="7"/><circle cx="380.9" cy="240" r="7"/><circle cx="370.3" cy="242.8" r="7"/><circle cx="355.4" cy="254.7" r="7"/><circle cx="367" cy="267.8" r="7"/><circle cx="324.4" cy="292.8" r="7"/><circle cx="347.6" cy="257.2" r="7"/><circle cx="350.4" cy="277.9" r="7"/><circle cx="387.2" cy="232.8" r="7"/><circle cx="340.5" cy="248.1" r="7"/><circle cx="381.1" cy="230" r="7"/><circle cx="338.3" cy="258.2" r="7"/><circle cx="338.1" cy="258.8" r="7"/><circle cx="353.9" cy="268.3" r="7"/><circle cx="351.6" cy="267.6" r="7"/><circle cx="347" cy="293.1" r="7"/><circle cx="321.9" cy="264.7" r="7"/><circle cx="338.8" cy="263.8" r="7"/><circle cx="328.8" cy="282.6" r="7"/><circle cx="343.1" cy="251.6" r="7"/><circle cx="358.8" cy="279.5" r="7"/><circle cx="358.6" cy="251.9" r="7"/><circle cx="349.7" cy="262.7" r="7"/><circle cx="354.2" cy="272.5" r="7"/><circle cx="326.1" cy="249.6" r="7"/><circle cx="340.5" cy="259.7" r="7"/><circle cx="354" cy="249.1" r="7"/><circle cx="370.1" cy="279.8" r="7"/><circle cx="321.5" cy="277.4" r="7"/><circle cx="320.7" cy="304.6" r="7"/><circle cx="321.8" cy="264" r="7"/><circle cx="329.5" cy="298.9" r="7"/><circle cx="332.6" cy="278" r="7"/><circle cx="365.9" cy="270.1" r="7"/><circle cx="389.7" cy="237" r="7"/><circle cx="352.6" cy="264.7" r="7"/><circle cx="390.9" cy="242.7" r="7"/><circle cx="347.5" cy="275.5" r="7"/><circle cx="353.8" cy="261" r="7"/><circle cx="328.8" cy="265.5" r="7"/><circle cx="326.3" cy="264.5" r="7"/><circle cx="373.5" cy="246.9" r="7"/><circle cx="340.9" cy="299.6" r="7"/><circle cx="346.7" cy="234.6" r="7"/><circle cx="386.1" cy="237.2" r="7"/><circle cx="372" cy="217.5" r="7"/><circle cx="361.1" cy="259.2" r="7"/><circle cx="353.4" cy="263.5" r="7"/><circle cx="353" cy="234.7" r="7"/><circle cx="315.9" cy="279.1" r="7"/><circle cx="334.1" cy="272.1" r="7"/><circle cx="357" cy="261.1" r="7"/><circle cx="343.2" cy="260.3" r="7"/><circle cx="349.6" cy="281.7" r="7"/><circle cx="362.1" cy="252.3" r="7"/><circle cx="356.8" cy="284" r="7"/><circle cx="344.5" cy="282.3" r="7"/><circle cx="365.4" cy="242.1" r="7"/><circle cx="352.5" cy="241.9" r="7"/><circle cx="367.1" cy="248.3" r="7"/><circle cx="328.2" cy="301.3" r="7"/><circle cx="345.1" cy="292.8" r="7"/><circle cx="336" cy="277.7" r="7"/><circle cx="350.4" cy="258.2" r="7"/><circle cx="348.1" cy="256.9" r="7"/><circle cx="359.8" cy="253.3" r="7"/><circle cx="368.1" cy="244.2" r="7"/><circle cx="320" cy="300.7" r="7"/><circle cx="365.7" cy="265.3" r="7"/><circle cx="344.2" cy="298.4" r="7"/><circle cx="366.9" cy="287.3" r="7"/><circle cx="352.1" cy="274" r="7"/><circle cx="332.8" cy="264.6" r="7"/><circle cx="374.6" cy="252.1" r="7"/><circle cx="381.5" cy="243.3" r="7"/><circle cx="324.6" cy="264.4" r="7"/><circle cx="332" cy="273.3" r="7"/><circle cx="340.2" cy="286" r="7"/><circle cx="351.7" cy="257.8" r="7"/><circle cx="350.2" cy="261.7" r="7"/><circle cx="358.7" cy="267.7" r="7"/><circle cx="358.5" cy="242.6" r="7"/><circle cx="336.2" cy="305.6" r="7"/><circle cx="360.2" cy="272.3" r="7"/><circle cx="318.6" cy="294.8" r="7"/><circle cx="336.5" cy="254.6" r="7"/><circle cx="346.4" cy="281.4" r="7"/><circle cx="380.4" cy="257.7" r="7"/><circle cx="322.1" cy="271.9" r="7"/><circle cx="365.4" cy="263.3" r="7"/><circle cx="340.4" cy="252.5" r="7"/><circle cx="368.5" cy="257.2" r="7"/><circle cx="353.5" cy="251.9" r="7"/><circle cx="360.5" cy="266.3" r="7"/><circle cx="323.3" cy="262.7" r="7"/><circle cx="358.2" cy="263.5" r="7"/><circle cx="356.6" cy="272.6" r="7"/><circle cx="338.2" cy="276.6" r="7"/><circle cx="348.6" cy="276.2" r="7"/><circle cx="372.8" cy="233.8" r="7"/><circle cx="366.8" cy="255.5" r="7"/><circle cx="376.3" cy="231" r="7"/><circle cx="337.5" cy="260.1" r="7"/><circle cx="368.2" cy="267.3" r="7"/><circle cx="361.1" cy="259.2" r="7"/><circle cx="346.8" cy="271.2" r="7"/><circle cx="334.2" cy="301.1" r="7"/><circle cx="332.2" cy="265.5" r="7"/><circle cx="329" cy="274.1" r="7"/><circle cx="372" cy="257.8" r="7"/><circle cx="334.3" cy="298.9" r="7"/><circle cx="358.2" cy="244.8" r="7"/><circle cx="317.5" cy="288.7" r="7"/><circle cx="341.1" cy="280.7" r="7"/><circle cx="325" cy="257.5" r="7"/><circle cx="339.1" cy="250" r="7"/><circle cx="353" cy="239.7" r="7"/><circle cx="329.7" cy="272.8" r="7"/><circle cx="351" cy="286.2" r="7"/><circle cx="367.9" cy="254.4" r="7"/><circle cx="340.4" cy="248.3" r="7"/><circle cx="335.2" cy="271.8" r="7"/><circle cx="336.9" cy="288.5" r="7"/><circle cx="330.2" cy="274.8" r="7"/><circle cx="403.7" cy="211" r="7"/><circle cx="390.7" cy="204.6" r="7"/><circle cx="404.3" cy="201.7" r="7"/><circle cx="407" cy="209" r="7"/><circle cx="400.5" cy="199.3" r="7"/><circle cx="405" cy="205" r="7"/><circle cx="379.5" cy="220.6" r="7"/><circle cx="381.7" cy="220.9" r="7"/><circle cx="393.5" cy="201" r="7"/><circle cx="402.6" cy="213.3" r="7"/><circle cx="387.4" cy="225.1" r="7"/><circle cx="392.9" cy="212.9" r="7"/><circle cx="396.4" cy="215.5" r="7"/><circle cx="402" cy="202.2" r="7"/><circle cx="385.8" cy="224" r="7"/><circle cx="392.3" cy="216.5" r="7"/><circle cx="402.3" cy="214.9" r="7"/><circle cx="400.5" cy="199.2" r="7"/><circle cx="403.6" cy="214.8" r="7"/><circle cx="391" cy="216.2" r="7"/><circle cx="408.1" cy="206" r="7"/><circle cx="391.9" cy="200.4" r="7"/><circle cx="384.5" cy="221.1" r="7"/><circle cx="391.4" cy="221.7" r="7"/><circle cx="392.4" cy="196.9" r="7"/><circle cx="387.6" cy="217.3" r="7"/><circle cx="388.8" cy="213.4" r="7"/><circle cx="393.7" cy="203" r="7"/><circle cx="394.4" cy="203.7" r="7"/><circle cx="391.4" cy="216.7" r="7"/><circle cx="390.1" cy="215.8" r="7"/><circle cx="406.2" cy="197.5" r="7"/><circle cx="395.3" cy="214.4" r="7"/><circle cx="395.1" cy="217.6" r="7"/><circle cx="385.9" cy="222.9" r="7"/><circle cx="386" cy="210.8" r="7"/><circle cx="403.8" cy="192.5" r="7"/><circle cx="410.1" cy="199" r="7"/><circle cx="400.8" cy="194.5" r="7"/><circle cx="409" cy="206.8" r="7"/><circle cx="391.9" cy="210.5" r="7"/><circle cx="387.4" cy="210.8" r="7"/><circle cx="398.3" cy="208" r="7"/><circle cx="402.1" cy="216" r="7"/><circle cx="392.8" cy="214.7" r="7"/><circle cx="400.7" cy="194.3" r="7"/><circle cx="409.4" cy="209.6" r="7"/><circle cx="378" cy="216.2" r="7"/><circle cx="377.4" cy="210.5" r="7"/><circle cx="389.1" cy="198.7" r="7"/><circle cx="403.5" cy="212.3" r="7"/><circle cx="379.3" cy="221.5" r="7"/><circle cx="381.5" cy="228.6" r="7"/><circle cx="386.4" cy="214.8" r="7"/><circle cx="396.1" cy="212" r="7"/><circle cx="390.7" cy="212.9" r="7"/><circle cx="389.6" cy="214.9" r="7"/><circle cx="384.4" cy="219.6" r="7"/><circle cx="376" cy="223.3" r="7"/><circle cx="408.9" cy="195.3" r="7"/>
</g>
<g fill="#ff0000">
<circle cx="510.4" cy="112.6" r="6.8"/>
</g>
<g fill="#4472c4">
<circle cx="513.8" cy="113.4" r="6.8"/>
</g>
<line x1="219.9" y1="368.7" x2="513.8" y2="134.8" stroke="#131d36" stroke-width="4.1" stroke-dasharray="0.1 8.5" stroke-linecap="round"/>
<line x1="685.6" y1="94.9" x2="685.6" y2="438.3" stroke="#000" stroke-width="4.2"/>
<line x1="683.5" y1="96.9" x2="1104.9" y2="96.9" stroke="#000" stroke-width="4"/>
<line x1="1103" y1="96.9" x2="1103" y2="436.3" stroke="#000" stroke-width="3.8"/>
<line x1="685.6" y1="436.3" x2="1104.9" y2="436.3" stroke="#000" stroke-width="3.8"/>
<line x1="664.6" y1="96.9" x2="685.6" y2="96.9" stroke="#000" stroke-width="2.4"/>
<text transform="translate(660.6 107.7) scale(0.8191 1)" font-size="29.6" font-weight="normal" text-anchor="end" fill="#000" stroke="#000" stroke-width="1.2">6</text>
<line x1="664.6" y1="154.4" x2="685.6" y2="154.4" stroke="#000" stroke-width="2.4"/>
<text transform="translate(660.6 165.2) scale(0.8191 1)" font-size="29.6" font-weight="normal" text-anchor="end" fill="#000" stroke="#000" stroke-width="1.2">4</text>
<line x1="664.6" y1="210.4" x2="685.6" y2="210.4" stroke="#000" stroke-width="2.4"/>
<text transform="translate(660.6 221.2) scale(0.8191 1)" font-size="29.6" font-weight="normal" text-anchor="end" fill="#000" stroke="#000" stroke-width="1.2">2</text>
<line x1="664.6" y1="267.3" x2="685.6" y2="267.3" stroke="#000" stroke-width="2.4"/>
<text transform="translate(660.6 278.1) scale(0.8191 1)" font-size="29.6" font-weight="normal" text-anchor="end" fill="#000" stroke="#000" stroke-width="1.2">0</text>
<line x1="664.6" y1="322.6" x2="685.6" y2="322.6" stroke="#000" stroke-width="2.4"/>
<text transform="translate(660.6 333.4) scale(0.8191 1)" font-size="29.6" font-weight="normal" text-anchor="end" fill="#000" stroke="#000" stroke-width="1.2">-2</text>
<line x1="664.6" y1="379.2" x2="685.6" y2="379.2" stroke="#000" stroke-width="2.4"/>
<text transform="translate(660.6 390) scale(0.8191 1)" font-size="29.6" font-weight="normal" text-anchor="end" fill="#000" stroke="#000" stroke-width="1.2">-4</text>
<line x1="664.6" y1="436.7" x2="685.6" y2="436.7" stroke="#000" stroke-width="2.4"/>
<text transform="translate(660.6 447.5) scale(0.8191 1)" font-size="29.6" font-weight="normal" text-anchor="end" fill="#000" stroke="#000" stroke-width="1.2">-6</text>
<line x1="685.6" y1="436.3" x2="685.6" y2="457.8" stroke="#000" stroke-width="2.4"/>
<text transform="translate(683.6 478.6) scale(0.8191 1)" font-size="29.6" font-weight="normal" text-anchor="middle" fill="#000" stroke="#000" stroke-width="1.2">-6</text>
<line x1="756" y1="436.3" x2="756" y2="457.8" stroke="#000" stroke-width="2.4"/>
<text transform="translate(754 478.6) scale(0.8191 1)" font-size="29.6" font-weight="normal" text-anchor="middle" fill="#000" stroke="#000" stroke-width="1.2">-4</text>
<line x1="825.4" y1="436.3" x2="825.4" y2="457.8" stroke="#000" stroke-width="2.4"/>
<text transform="translate(823.4 478.6) scale(0.8191 1)" font-size="29.6" font-weight="normal" text-anchor="middle" fill="#000" stroke="#000" stroke-width="1.2">-2</text>
<line x1="892.8" y1="436.3" x2="892.8" y2="457.8" stroke="#000" stroke-width="2.4"/>
<text transform="translate(892 478.6) scale(0.8191 1)" font-size="29.6" font-weight="normal" text-anchor="middle" fill="#000" stroke="#000" stroke-width="1.2">0</text>
<line x1="962.4" y1="436.3" x2="962.4" y2="457.8" stroke="#000" stroke-width="2.4"/>
<text transform="translate(961.6 478.6) scale(0.8191 1)" font-size="29.6" font-weight="normal" text-anchor="middle" fill="#000" stroke="#000" stroke-width="1.2">2</text>
<line x1="1033.5" y1="436.3" x2="1033.5" y2="457.8" stroke="#000" stroke-width="2.4"/>
<text transform="translate(1032.7 478.6) scale(0.8191 1)" font-size="29.6" font-weight="normal" text-anchor="middle" fill="#000" stroke="#000" stroke-width="1.2">4</text>
<line x1="1103" y1="436.3" x2="1103" y2="457.8" stroke="#000" stroke-width="2.4"/>
<text transform="translate(1102.2 478.6) scale(0.8191 1)" font-size="29.6" font-weight="normal" text-anchor="middle" fill="#000" stroke="#000" stroke-width="1.2">6</text>
<text transform="translate(610.2 269.5) rotate(-90) scale(0.9637 1)" font-size="34.9" font-weight="bold" text-anchor="middle" fill="#000">exp-2 well-2/ /pre-3</text>
<text transform="translate(894 525.4) scale(0.9637 1)" font-size="34.8" font-weight="bold" text-anchor="middle" fill="#000">exp-2 well-1/pre-3</text>
<text transform="translate(694.5 134.4) scale(0.9637 1)" font-size="35.3" font-weight="bold" text-anchor="start" fill="#000">Log2 fold change</text>
<text transform="translate(694.5 174.5) scale(0.9637 1)" font-size="35.3" font-weight="bold" text-anchor="start" fill="#000">4 h</text>
<text transform="translate(935.5 427) scale(0.9637 1)" font-size="35.3" font-weight="bold" text-anchor="start" fill="#000">&#961; = 0.784</text>
<g fill="#000">
<circle cx="894.3" cy="182.3" r="6.9"/><circle cx="928" cy="182.3" r="6.9"/><circle cx="964" cy="180.2" r="6.9"/><circle cx="940.9" cy="189.2" r="6.9"/><circle cx="838.9" cy="210.3" r="6.9"/><circle cx="975.2" cy="202" r="6.9"/><circle cx="964" cy="202.9" r="6.9"/><circle cx="982.9" cy="237.7" r="6.9"/><circle cx="948.6" cy="264.6" r="6.9"/><circle cx="946.9" cy="282.6" r="6.9"/><circle cx="991.5" cy="267.2" r="6.9"/><circle cx="977.8" cy="278.3" r="6.9"/><circle cx="997.5" cy="280" r="6.9"/><circle cx="989.8" cy="284.3" r="6.9"/><circle cx="796" cy="280" r="6.9"/><circle cx="791.7" cy="286.9" r="6.9"/><circle cx="802.9" cy="294.6" r="6.9"/><circle cx="796" cy="301.5" r="6.9"/><circle cx="838.9" cy="245.7" r="6.9"/><circle cx="827.7" cy="256.9" r="6.9"/><circle cx="826" cy="265.5" r="6.9"/><circle cx="816.6" cy="313.5" r="6.9"/><circle cx="808.9" cy="324.6" r="6.9"/><circle cx="847.4" cy="341.8" r="6.9"/><circle cx="892" cy="331.5" r="6.9"/><circle cx="894.6" cy="314.3" r="6.9"/><circle cx="910.9" cy="298.9" r="6.9"/><circle cx="948.6" cy="237.2" r="6.9"/><circle cx="957.2" cy="216.6" r="6.9"/><circle cx="952" cy="196" r="6.9"/><circle cx="910.9" cy="192.6" r="6.9"/><circle cx="893.7" cy="201.2" r="6.9"/><circle cx="849.2" cy="228.6" r="6.9"/><circle cx="859.5" cy="225.2" r="6.9"/><circle cx="818.3" cy="288.6" r="6.9"/><circle cx="825.2" cy="302.3" r="6.9"/><circle cx="845.7" cy="321.2" r="6.9"/><circle cx="862.9" cy="321.2" r="6.9"/><circle cx="878.3" cy="314.3" r="6.9"/><circle cx="919.5" cy="285.2" r="6.9"/><circle cx="921.2" cy="273.2" r="6.9"/><circle cx="931.5" cy="264.6" r="6.9"/><circle cx="941.8" cy="250.9" r="6.9"/><circle cx="880" cy="211.5" r="6.9"/><circle cx="869.7" cy="220" r="6.9"/><circle cx="860" cy="289.2" r="6.9"/><circle cx="846.7" cy="259.6" r="6.9"/><circle cx="878" cy="283.9" r="6.9"/><circle cx="896.7" cy="249.7" r="6.9"/><circle cx="853.9" cy="265.7" r="6.9"/><circle cx="924.1" cy="233.3" r="6.9"/><circle cx="842.3" cy="253.5" r="6.9"/><circle cx="859.2" cy="282.7" r="6.9"/><circle cx="891.7" cy="252.7" r="6.9"/><circle cx="866.7" cy="248.2" r="6.9"/><circle cx="880.5" cy="302.3" r="6.9"/><circle cx="878.7" cy="285.7" r="6.9"/><circle cx="843.7" cy="292" r="6.9"/><circle cx="905.8" cy="266.3" r="6.9"/><circle cx="867" cy="290.4" r="6.9"/><circle cx="889.9" cy="241.8" r="6.9"/><circle cx="890.4" cy="237.9" r="6.9"/><circle cx="868.5" cy="275.9" r="6.9"/><circle cx="848" cy="262.5" r="6.9"/><circle cx="886" cy="277.6" r="6.9"/><circle cx="891.8" cy="283.3" r="6.9"/><circle cx="845.7" cy="267.8" r="6.9"/><circle cx="930.7" cy="230.9" r="6.9"/><circle cx="902.7" cy="228.8" r="6.9"/><circle cx="910.8" cy="245.1" r="6.9"/><circle cx="904.5" cy="245.6" r="6.9"/><circle cx="911" cy="225.4" r="6.9"/><circle cx="848.8" cy="261.6" r="6.9"/><circle cx="908.9" cy="225.2" r="6.9"/><circle cx="852.6" cy="269.9" r="6.9"/><circle cx="863.7" cy="253" r="6.9"/><circle cx="874.4" cy="257.6" r="6.9"/><circle cx="864.4" cy="259.1" r="6.9"/><circle cx="884.2" cy="252.7" r="6.9"/><circle cx="893.7" cy="259.7" r="6.9"/><circle cx="873.2" cy="224.9" r="6.9"/><circle cx="866.6" cy="260.8" r="6.9"/><circle cx="890.4" cy="223.2" r="6.9"/><circle cx="867.6" cy="270.8" r="6.9"/><circle cx="890.6" cy="278.5" r="6.9"/><circle cx="887.7" cy="280.4" r="6.9"/><circle cx="832.9" cy="268.2" r="6.9"/><circle cx="922.9" cy="238.4" r="6.9"/><circle cx="901.6" cy="250.2" r="6.9"/><circle cx="887.2" cy="233.8" r="6.9"/><circle cx="905.9" cy="232.3" r="6.9"/><circle cx="913.4" cy="239.1" r="6.9"/><circle cx="826" cy="285.5" r="6.9"/><circle cx="914.5" cy="233.3" r="6.9"/><circle cx="881.1" cy="270.6" r="6.9"/><circle cx="872" cy="261.5" r="6.9"/><circle cx="892.3" cy="258.7" r="6.9"/><circle cx="926" cy="227.3" r="6.9"/><circle cx="941.8" cy="235.5" r="6.9"/><circle cx="892.9" cy="258" r="6.9"/><circle cx="876.9" cy="253.2" r="6.9"/><circle cx="879.8" cy="252.7" r="6.9"/><circle cx="934.3" cy="230.6" r="6.9"/><circle cx="856.8" cy="245.1" r="6.9"/><circle cx="882.5" cy="255.1" r="6.9"/><circle cx="849.4" cy="268.4" r="6.9"/><circle cx="839" cy="314.2" r="6.9"/><circle cx="885.9" cy="258" r="6.9"/><circle cx="925.2" cy="229.9" r="6.9"/><circle cx="888.4" cy="251" r="6.9"/><circle cx="889.4" cy="290.5" r="6.9"/><circle cx="931.2" cy="258.8" r="6.9"/><circle cx="880" cy="267" r="6.9"/><circle cx="876.9" cy="289.8" r="6.9"/><circle cx="860" cy="295.8" r="6.9"/><circle cx="930.3" cy="253" r="6.9"/><circle cx="876.8" cy="292.6" r="6.9"/><circle cx="862.6" cy="265.1" r="6.9"/><circle cx="868.1" cy="301.6" r="6.9"/><circle cx="922.4" cy="216.6" r="6.9"/><circle cx="866" cy="271.2" r="6.9"/><circle cx="855.7" cy="248.7" r="6.9"/><circle cx="884.4" cy="288.1" r="6.9"/><circle cx="931.3" cy="215.9" r="6.9"/><circle cx="865.8" cy="267.6" r="6.9"/><circle cx="851.6" cy="310.6" r="6.9"/><circle cx="872.9" cy="295.4" r="6.9"/><circle cx="832.7" cy="280" r="6.9"/><circle cx="887.2" cy="243.6" r="6.9"/><circle cx="907.6" cy="242.5" r="6.9"/><circle cx="866" cy="291.9" r="6.9"/><circle cx="888.5" cy="217.6" r="6.9"/><circle cx="938.5" cy="226.2" r="6.9"/><circle cx="887.1" cy="220" r="6.9"/><circle cx="866.8" cy="270.2" r="6.9"/><circle cx="899.1" cy="218.2" r="6.9"/><circle cx="844.8" cy="253.1" r="6.9"/><circle cx="886" cy="268.5" r="6.9"/><circle cx="840.5" cy="287.9" r="6.9"/><circle cx="917.8" cy="267.7" r="6.9"/><circle cx="901.3" cy="241.2" r="6.9"/><circle cx="849.3" cy="272.8" r="6.9"/><circle cx="873.5" cy="275.1" r="6.9"/><circle cx="904.9" cy="280.7" r="6.9"/><circle cx="883.9" cy="239.8" r="6.9"/><circle cx="936.4" cy="237.8" r="6.9"/><circle cx="883" cy="248.1" r="6.9"/><circle cx="831.3" cy="286.5" r="6.9"/><circle cx="902.1" cy="229.8" r="6.9"/><circle cx="857.9" cy="289.7" r="6.9"/><circle cx="900.7" cy="261.4" r="6.9"/><circle cx="919.4" cy="262.4" r="6.9"/><circle cx="878.1" cy="289.1" r="6.9"/><circle cx="871.4" cy="288.8" r="6.9"/><circle cx="895.3" cy="258.3" r="6.9"/><circle cx="911.9" cy="238.2" r="6.9"/><circle cx="925" cy="246.1" r="6.9"/><circle cx="885.5" cy="249.3" r="6.9"/><circle cx="864.1" cy="268.7" r="6.9"/><circle cx="883" cy="263.1" r="6.9"/><circle cx="898" cy="232.1" r="6.9"/><circle cx="867.4" cy="270.4" r="6.9"/><circle cx="881.9" cy="242.3" r="6.9"/><circle cx="921.9" cy="217.7" r="6.9"/><circle cx="891.1" cy="262.7" r="6.9"/><circle cx="899.4" cy="262.4" r="6.9"/><circle cx="896.9" cy="255.1" r="6.9"/><circle cx="834.1" cy="290.8" r="6.9"/><circle cx="837.4" cy="316.9" r="6.9"/><circle cx="893.7" cy="250.1" r="6.9"/><circle cx="861.8" cy="269.5" r="6.9"/><circle cx="900.6" cy="276.2" r="6.9"/><circle cx="867" cy="258.7" r="6.9"/><circle cx="876.5" cy="273.4" r="6.9"/><circle cx="892.4" cy="261.5" r="6.9"/><circle cx="897.4" cy="271.3" r="6.9"/><circle cx="918.6" cy="205.9" r="6.9"/><circle cx="889.4" cy="252.4" r="6.9"/><circle cx="880.6" cy="232.7" r="6.9"/><circle cx="903.2" cy="250.3" r="6.9"/><circle cx="864.8" cy="228.5" r="6.9"/><circle cx="871" cy="257.8" r="6.9"/><circle cx="843.7" cy="278.1" r="6.9"/><circle cx="911.2" cy="250.9" r="6.9"/><circle cx="893.2" cy="265.9" r="6.9"/><circle cx="874.2" cy="272.9" r="6.9"/><circle cx="895.2" cy="265.1" r="6.9"/><circle cx="885" cy="258.9" r="6.9"/><circle cx="878.1" cy="254.1" r="6.9"/><circle cx="948.7" cy="217.7" r="6.9"/><circle cx="923.3" cy="278.1" r="6.9"/><circle cx="906.1" cy="210" r="6.9"/><circle cx="914.3" cy="254.6" r="6.9"/><circle cx="948.7" cy="235" r="6.9"/><circle cx="894.6" cy="228.2" r="6.9"/><circle cx="869.7" cy="281" r="6.9"/><circle cx="889.8" cy="235.8" r="6.9"/><circle cx="874.5" cy="262.4" r="6.9"/><circle cx="893.3" cy="262" r="6.9"/><circle cx="868" cy="250" r="6.9"/><circle cx="935.9" cy="252.2" r="6.9"/><circle cx="896.6" cy="274" r="6.9"/><circle cx="906.2" cy="257.7" r="6.9"/><circle cx="891.9" cy="239.4" r="6.9"/><circle cx="913.2" cy="259.3" r="6.9"/><circle cx="887.2" cy="302.5" r="6.9"/><circle cx="945.1" cy="225.7" r="6.9"/><circle cx="873.5" cy="259" r="6.9"/><circle cx="869.5" cy="277.9" r="6.9"/><circle cx="894.6" cy="268.1" r="6.9"/><circle cx="943.9" cy="210.1" r="6.9"/><circle cx="910" cy="250.5" r="6.9"/><circle cx="892.7" cy="250.7" r="6.9"/><circle cx="876.4" cy="251.6" r="6.9"/><circle cx="892.4" cy="255" r="6.9"/><circle cx="887" cy="241.8" r="6.9"/><circle cx="889.7" cy="258.9" r="6.9"/><circle cx="891.8" cy="233.1" r="6.9"/><circle cx="909.1" cy="262.2" r="6.9"/><circle cx="899" cy="241.8" r="6.9"/><circle cx="873.7" cy="266.7" r="6.9"/><circle cx="922.8" cy="262.6" r="6.9"/><circle cx="877.5" cy="254.6" r="6.9"/><circle cx="899.7" cy="253.6" r="6.9"/><circle cx="858.1" cy="269.5" r="6.9"/><circle cx="892.9" cy="269.6" r="6.9"/><circle cx="848" cy="272.1" r="6.9"/><circle cx="887.4" cy="233.4" r="6.9"/><circle cx="894.7" cy="261.1" r="6.9"/><circle cx="874.6" cy="249" r="6.9"/><circle cx="883.2" cy="256.3" r="6.9"/><circle cx="887.6" cy="241.6" r="6.9"/><circle cx="897.2" cy="215.2" r="6.9"/><circle cx="884" cy="263" r="6.9"/><circle cx="905.4" cy="231.1" r="6.9"/><circle cx="895.6" cy="240.5" r="6.9"/><circle cx="925" cy="264.7" r="6.9"/><circle cx="883.1" cy="273.1" r="6.9"/><circle cx="875.9" cy="290.9" r="6.9"/><circle cx="918.4" cy="233.7" r="6.9"/><circle cx="864.7" cy="288.3" r="6.9"/><circle cx="928.2" cy="248" r="6.9"/><circle cx="888.7" cy="219.2" r="6.9"/><circle cx="886.7" cy="291.1" r="6.9"/><circle cx="870.2" cy="299.2" r="6.9"/><circle cx="942.7" cy="228.3" r="6.9"/><circle cx="912.2" cy="231.1" r="6.9"/><circle cx="857" cy="284.1" r="6.9"/><circle cx="882.9" cy="262.8" r="6.9"/><circle cx="903.8" cy="242.5" r="6.9"/><circle cx="897.5" cy="260.2" r="6.9"/><circle cx="907.8" cy="281.9" r="6.9"/><circle cx="900" cy="250.7" r="6.9"/><circle cx="876.5" cy="255.9" r="6.9"/><circle cx="922.9" cy="232.2" r="6.9"/><circle cx="855.7" cy="275.3" r="6.9"/><circle cx="880.1" cy="256.6" r="6.9"/><circle cx="902.5" cy="221.7" r="6.9"/><circle cx="901.9" cy="250.4" r="6.9"/><circle cx="859.8" cy="284.9" r="6.9"/><circle cx="891.3" cy="267.3" r="6.9"/><circle cx="880.4" cy="272.5" r="6.9"/><circle cx="835.7" cy="281.4" r="6.9"/><circle cx="918.7" cy="255.2" r="6.9"/><circle cx="881.5" cy="252" r="6.9"/><circle cx="892.5" cy="210.3" r="6.9"/><circle cx="875.8" cy="284.5" r="6.9"/><circle cx="893.3" cy="232.5" r="6.9"/><circle cx="857.4" cy="317.3" r="6.9"/><circle cx="882.4" cy="244.8" r="6.9"/><circle cx="899.2" cy="269" r="6.9"/><circle cx="884.2" cy="217.7" r="6.9"/><circle cx="888.2" cy="220.8" r="6.9"/><circle cx="920.5" cy="239.7" r="6.9"/><circle cx="937.1" cy="203.5" r="6.9"/><circle cx="899.6" cy="271.9" r="6.9"/><circle cx="865" cy="264.1" r="6.9"/><circle cx="878.3" cy="266.2" r="6.9"/><circle cx="866.8" cy="288.2" r="6.9"/><circle cx="902.4" cy="248.4" r="6.9"/><circle cx="926.6" cy="218.8" r="6.9"/><circle cx="914.5" cy="224.5" r="6.9"/><circle cx="886.2" cy="219.2" r="6.9"/><circle cx="891.3" cy="252.7" r="6.9"/><circle cx="869.6" cy="262.2" r="6.9"/><circle cx="872" cy="257.7" r="6.9"/><circle cx="828" cy="298.7" r="6.9"/><circle cx="869.1" cy="264.4" r="6.9"/><circle cx="860.8" cy="280.1" r="6.9"/><circle cx="904.9" cy="239.3" r="6.9"/><circle cx="890.7" cy="286.3" r="6.9"/><circle cx="922.1" cy="249.6" r="6.9"/><circle cx="913.2" cy="230.4" r="6.9"/><circle cx="897" cy="275.6" r="6.9"/><circle cx="873.4" cy="269.5" r="6.9"/><circle cx="901.5" cy="255.6" r="6.9"/><circle cx="892" cy="277.1" r="6.9"/><circle cx="891.6" cy="271.8" r="6.9"/><circle cx="921.6" cy="244.3" r="6.9"/><circle cx="893.9" cy="229.2" r="6.9"/><circle cx="849.4" cy="279.5" r="6.9"/><circle cx="916" cy="267.4" r="6.9"/><circle cx="861.5" cy="289" r="6.9"/><circle cx="859.4" cy="268.4" r="6.9"/><circle cx="888.9" cy="273.5" r="6.9"/><circle cx="906.1" cy="269.1" r="6.9"/><circle cx="873.5" cy="291.1" r="6.9"/><circle cx="911.9" cy="240.1" r="6.9"/><circle cx="894" cy="242" r="6.9"/><circle cx="857.1" cy="277.4" r="6.9"/><circle cx="894" cy="289.8" r="6.9"/><circle cx="896.6" cy="258.6" r="6.9"/><circle cx="898.2" cy="233.7" r="6.9"/><circle cx="914.8" cy="244.2" r="6.9"/><circle cx="857.4" cy="298.9" r="6.9"/><circle cx="906.7" cy="252.9" r="6.9"/><circle cx="922.8" cy="220.2" r="6.9"/><circle cx="908.8" cy="257.4" r="6.9"/><circle cx="878.9" cy="293.1" r="6.9"/><circle cx="838.7" cy="274.1" r="6.9"/><circle cx="889.5" cy="234.6" r="6.9"/><circle cx="867.8" cy="241.4" r="6.9"/><circle cx="877.8" cy="243.7" r="6.9"/><circle cx="880.3" cy="233" r="6.9"/><circle cx="896.4" cy="246.3" r="6.9"/><circle cx="889.1" cy="256.9" r="6.9"/><circle cx="877.3" cy="240.1" r="6.9"/><circle cx="860.4" cy="273.5" r="6.9"/><circle cx="877.5" cy="225.6" r="6.9"/><circle cx="863" cy="267.9" r="6.9"/><circle cx="865.8" cy="285.7" r="6.9"/><circle cx="876" cy="252" r="6.9"/><circle cx="872.7" cy="290.1" r="6.9"/><circle cx="878.3" cy="280.4" r="6.9"/><circle cx="879.1" cy="226.2" r="6.9"/><circle cx="861.6" cy="282.3" r="6.9"/><circle cx="905" cy="261.4" r="6.9"/><circle cx="919" cy="254.7" r="6.9"/><circle cx="876.8" cy="264.5" r="6.9"/><circle cx="902.8" cy="237.3" r="6.9"/><circle cx="897.3" cy="217" r="6.9"/><circle cx="902.5" cy="243" r="6.9"/><circle cx="850.4" cy="313.2" r="6.9"/><circle cx="896.1" cy="252.7" r="6.9"/><circle cx="856.8" cy="276.4" r="6.9"/><circle cx="916.6" cy="216.6" r="6.9"/><circle cx="857.4" cy="283.1" r="6.9"/><circle cx="868.8" cy="256.3" r="6.9"/><circle cx="878.8" cy="290" r="6.9"/><circle cx="873.7" cy="314" r="6.9"/><circle cx="863.2" cy="257.3" r="6.9"/><circle cx="913.6" cy="249.2" r="6.9"/><circle cx="870.6" cy="290.6" r="6.9"/><circle cx="833.2" cy="287.1" r="6.9"/><circle cx="913.2" cy="231.9" r="6.9"/><circle cx="861.7" cy="293.3" r="6.9"/><circle cx="910.6" cy="239.3" r="6.9"/><circle cx="840.1" cy="293.5" r="6.9"/><circle cx="906.8" cy="259.6" r="6.9"/><circle cx="931.1" cy="216.4" r="6.9"/><circle cx="876" cy="269" r="6.9"/><circle cx="907.9" cy="221.8" r="6.9"/><circle cx="900.6" cy="233.8" r="6.9"/><circle cx="906.9" cy="257.8" r="6.9"/><circle cx="858.3" cy="283.3" r="6.9"/><circle cx="900.5" cy="261.2" r="6.9"/><circle cx="854.8" cy="266.8" r="6.9"/><circle cx="881.2" cy="260.5" r="6.9"/><circle cx="861.4" cy="302.5" r="6.9"/><circle cx="890.5" cy="288.2" r="6.9"/><circle cx="909.4" cy="241.2" r="6.9"/><circle cx="894.2" cy="229.9" r="6.9"/><circle cx="874.1" cy="259" r="6.9"/><circle cx="857.2" cy="286.5" r="6.9"/><circle cx="900" cy="279.9" r="6.9"/><circle cx="860.7" cy="273" r="6.9"/><circle cx="902.9" cy="255.1" r="6.9"/><circle cx="883.9" cy="252.7" r="6.9"/><circle cx="904.3" cy="253" r="6.9"/><circle cx="840.1" cy="295.3" r="6.9"/><circle cx="841.8" cy="274" r="6.9"/><circle cx="892.5" cy="256.7" r="6.9"/><circle cx="881.7" cy="245.9" r="6.9"/><circle cx="873.6" cy="252.2" r="6.9"/><circle cx="905" cy="259.4" r="6.9"/><circle cx="944.9" cy="237.2" r="6.9"/><circle cx="863.6" cy="270.7" r="6.9"/><circle cx="868.5" cy="282.9" r="6.9"/><circle cx="944.5" cy="225.5" r="6.9"/><circle cx="862" cy="293.1" r="6.9"/><circle cx="891.5" cy="262.8" r="6.9"/><circle cx="923.2" cy="210.9" r="6.9"/><circle cx="888.4" cy="301.4" r="6.9"/><circle cx="888.4" cy="242.2" r="6.9"/><circle cx="828.9" cy="312.2" r="6.9"/><circle cx="900" cy="270.4" r="6.9"/><circle cx="877.4" cy="253.6" r="6.9"/><circle cx="890.4" cy="298.3" r="6.9"/><circle cx="846.7" cy="299" r="6.9"/><circle cx="895.5" cy="266.2" r="6.9"/><circle cx="883.6" cy="273.9" r="6.9"/><circle cx="906.7" cy="239.9" r="6.9"/><circle cx="875" cy="266.6" r="6.9"/><circle cx="862.3" cy="277.2" r="6.9"/><circle cx="883.1" cy="268.2" r="6.9"/><circle cx="935.1" cy="246.6" r="6.9"/><circle cx="883.8" cy="276.1" r="6.9"/><circle cx="903.6" cy="262.2" r="6.9"/><circle cx="891.6" cy="261.9" r="6.9"/><circle cx="868.3" cy="259.5" r="6.9"/><circle cx="923.6" cy="256.5" r="6.9"/><circle cx="909.2" cy="250.3" r="6.9"/><circle cx="890" cy="247.9" r="6.9"/><circle cx="851.5" cy="305.4" r="6.9"/><circle cx="887.2" cy="248" r="6.9"/><circle cx="878.2" cy="295.5" r="6.9"/><circle cx="929.3" cy="274.6" r="6.9"/><circle cx="870.4" cy="274.2" r="6.9"/><circle cx="877.5" cy="271.9" r="6.9"/><circle cx="875.1" cy="254.4" r="6.9"/><circle cx="906.3" cy="226.5" r="6.9"/><circle cx="881.7" cy="276.8" r="6.9"/><circle cx="870.4" cy="265.3" r="6.9"/><circle cx="893.1" cy="247" r="6.9"/><circle cx="856.5" cy="284.5" r="6.9"/><circle cx="901.1" cy="284.8" r="6.9"/><circle cx="871.6" cy="294.5" r="6.9"/><circle cx="865.1" cy="271.5" r="6.9"/><circle cx="883.1" cy="269.4" r="6.9"/><circle cx="928.2" cy="262.2" r="6.9"/><circle cx="886.8" cy="289.1" r="6.9"/><circle cx="921.4" cy="247.8" r="6.9"/><circle cx="879.2" cy="286.4" r="6.9"/><circle cx="889.4" cy="265.8" r="6.9"/><circle cx="888.7" cy="273" r="6.9"/><circle cx="927.8" cy="249.2" r="6.9"/><circle cx="893.8" cy="275.7" r="6.9"/><circle cx="914" cy="216.6" r="6.9"/><circle cx="910.2" cy="211.2" r="6.9"/><circle cx="908" cy="254.8" r="6.9"/><circle cx="927.7" cy="230.9" r="6.9"/><circle cx="867.9" cy="259.6" r="6.9"/><circle cx="865.7" cy="295.3" r="6.9"/><circle cx="874.8" cy="255.4" r="6.9"/><circle cx="893.2" cy="238.3" r="6.9"/><circle cx="872.6" cy="262.8" r="6.9"/><circle cx="944.6" cy="241.7" r="6.9"/><circle cx="867.6" cy="243.2" r="6.9"/><circle cx="895.8" cy="254.1" r="6.9"/><circle cx="902.9" cy="258.6" r="6.9"/><circle cx="890.3" cy="277.3" r="6.9"/><circle cx="911.1" cy="243.8" r="6.9"/><circle cx="873.1" cy="261.9" r="6.9"/><circle cx="893.5" cy="230.8" r="6.9"/><circle cx="876.3" cy="253.3" r="6.9"/><circle cx="860.4" cy="296.3" r="6.9"/><circle cx="888" cy="260.1" r="6.9"/><circle cx="893.8" cy="222.1" r="6.9"/><circle cx="889.7" cy="264.1" r="6.9"/><circle cx="897.1" cy="228" r="6.9"/><circle cx="908.2" cy="246.5" r="6.9"/><circle cx="933.8" cy="244.1" r="6.9"/><circle cx="924.7" cy="273.8" r="6.9"/><circle cx="883.7" cy="253.9" r="6.9"/><circle cx="869.8" cy="254.8" r="6.9"/><circle cx="867.5" cy="236.6" r="6.9"/><circle cx="890.7" cy="266.2" r="6.9"/><circle cx="908.9" cy="233.7" r="6.9"/><circle cx="915.4" cy="221.4" r="6.9"/><circle cx="864.9" cy="238.9" r="6.9"/><circle cx="861.1" cy="265.7" r="6.9"/><circle cx="929.7" cy="234.3" r="6.9"/><circle cx="867.3" cy="288.6" r="6.9"/><circle cx="897.4" cy="246.3" r="6.9"/><circle cx="885.6" cy="255" r="6.9"/><circle cx="856.7" cy="249.2" r="6.9"/><circle cx="899.5" cy="276.4" r="6.9"/><circle cx="919.7" cy="225.9" r="6.9"/><circle cx="868.1" cy="272.2" r="6.9"/><circle cx="913.5" cy="244.6" r="6.9"/><circle cx="878" cy="275.7" r="6.9"/><circle cx="888.7" cy="269.6" r="6.9"/><circle cx="863.1" cy="250" r="6.9"/><circle cx="897.6" cy="267" r="6.9"/><circle cx="860.6" cy="280.9" r="6.9"/><circle cx="905.4" cy="236.3" r="6.9"/><circle cx="893.8" cy="297" r="6.9"/><circle cx="918.8" cy="254.1" r="6.9"/><circle cx="882.6" cy="298.4" r="6.9"/><circle cx="843.2" cy="287.4" r="6.9"/><circle cx="919.8" cy="259.6" r="6.9"/><circle cx="859.1" cy="270.5" r="6.9"/><circle cx="872.9" cy="232" r="6.9"/><circle cx="909.4" cy="252.5" r="6.9"/><circle cx="883.1" cy="274.8" r="6.9"/><circle cx="910" cy="246.7" r="6.9"/><circle cx="916.4" cy="266.4" r="6.9"/><circle cx="878.5" cy="271" r="6.9"/><circle cx="886.5" cy="282.3" r="6.9"/><circle cx="883.5" cy="273.2" r="6.9"/><circle cx="892.2" cy="257.1" r="6.9"/><circle cx="928.3" cy="222.5" r="6.9"/><circle cx="930.6" cy="239.6" r="6.9"/><circle cx="918" cy="229.8" r="6.9"/><circle cx="918.2" cy="248.9" r="6.9"/><circle cx="876.4" cy="275" r="6.9"/><circle cx="884.8" cy="261.4" r="6.9"/><circle cx="911.8" cy="223.7" r="6.9"/><circle cx="830.3" cy="273.2" r="6.9"/><circle cx="870.9" cy="260.8" r="6.9"/><circle cx="894.4" cy="265.5" r="6.9"/><circle cx="933.2" cy="226.5" r="6.9"/><circle cx="891.7" cy="240.8" r="6.9"/><circle cx="916" cy="263.3" r="6.9"/><circle cx="899.9" cy="208.3" r="6.9"/><circle cx="925.7" cy="259.5" r="6.9"/><circle cx="892.5" cy="224.4" r="6.9"/><circle cx="887" cy="272.4" r="6.9"/><circle cx="889.7" cy="241" r="6.9"/><circle cx="877.1" cy="288.9" r="6.9"/><circle cx="871.4" cy="303.6" r="6.9"/><circle cx="891.8" cy="262.3" r="6.9"/><circle cx="850.5" cy="279.5" r="6.9"/><circle cx="889.4" cy="227.5" r="6.9"/><circle cx="922.8" cy="199.9" r="6.9"/><circle cx="859.8" cy="284.8" r="6.9"/><circle cx="907.2" cy="257.9" r="6.9"/><circle cx="877.3" cy="264.3" r="6.9"/><circle cx="876.8" cy="257.2" r="6.9"/><circle cx="895.8" cy="255.8" r="6.9"/><circle cx="876" cy="275" r="6.9"/><circle cx="887.2" cy="258.5" r="6.9"/><circle cx="896.7" cy="216.1" r="6.9"/><circle cx="883.3" cy="241.4" r="6.9"/><circle cx="896.1" cy="283.4" r="6.9"/><circle cx="861.6" cy="280.2" r="6.9"/><circle cx="884" cy="282.5" r="6.9"/><circle cx="847.8" cy="259.4" r="6.9"/><circle cx="896.8" cy="244.4" r="6.9"/><circle cx="891.8" cy="278.4" r="6.9"/><circle cx="863.5" cy="272.9" r="6.9"/><circle cx="896" cy="261" r="6.9"/><circle cx="886.7" cy="281.9" r="6.9"/><circle cx="937" cy="208.3" r="6.9"/><circle cx="917.9" cy="226.2" r="6.9"/><circle cx="888" cy="252.3" r="6.9"/><circle cx="860.1" cy="257.1" r="6.9"/><circle cx="892.2" cy="282.5" r="6.9"/><circle cx="911.6" cy="231.6" r="6.9"/><circle cx="868.6" cy="261.7" r="6.9"/><circle cx="878.4" cy="305" r="6.9"/><circle cx="905.1" cy="246.9" r="6.9"/><circle cx="866.2" cy="257.1" r="6.9"/><circle cx="927.4" cy="241.3" r="6.9"/><circle cx="875.9" cy="290.3" r="6.9"/><circle cx="868.7" cy="289.4" r="6.9"/><circle cx="861.3" cy="273.9" r="6.9"/><circle cx="904.4" cy="254.1" r="6.9"/><circle cx="903.5" cy="228.5" r="6.9"/><circle cx="939.3" cy="242.6" r="6.9"/><circle cx="892.8" cy="264.8" r="6.9"/><circle cx="868.3" cy="273.3" r="6.9"/><circle cx="858" cy="287.3" r="6.9"/><circle cx="906.7" cy="270.9" r="6.9"/><circle cx="919" cy="249.3" r="6.9"/><circle cx="877.4" cy="263.9" r="6.9"/><circle cx="882.5" cy="268.7" r="6.9"/><circle cx="850.6" cy="307.8" r="6.9"/><circle cx="846" cy="285.2" r="6.9"/><circle cx="883.5" cy="252.6" r="6.9"/><circle cx="926.5" cy="223.8" r="6.9"/><circle cx="937.4" cy="240.7" r="6.9"/><circle cx="880.6" cy="274" r="6.9"/><circle cx="915.5" cy="228.6" r="6.9"/><circle cx="884.6" cy="250.7" r="6.9"/><circle cx="886" cy="253.7" r="6.9"/><circle cx="900.5" cy="269.3" r="6.9"/><circle cx="922.5" cy="232.1" r="6.9"/><circle cx="901.8" cy="265.1" r="6.9"/><circle cx="870.6" cy="252.6" r="6.9"/><circle cx="904.9" cy="225.3" r="6.9"/><circle cx="900.3" cy="228.6" r="6.9"/><circle cx="920.8" cy="209.2" r="6.9"/><circle cx="923.7" cy="259.4" r="6.9"/><circle cx="880.8" cy="296.4" r="6.9"/><circle cx="850.7" cy="255.2" r="6.9"/><circle cx="912.5" cy="252.6" r="6.9"/><circle cx="857.6" cy="233.5" r="6.9"/><circle cx="883.8" cy="256.6" r="6.9"/><circle cx="876.3" cy="263.5" r="6.9"/><circle cx="840.2" cy="289.2" r="6.9"/><circle cx="946.6" cy="240.4" r="6.9"/><circle cx="872.4" cy="258.1" r="6.9"/><circle cx="908.5" cy="263.5" r="6.9"/><circle cx="893.3" cy="230.5" r="6.9"/><circle cx="893.5" cy="257.5" r="6.9"/><circle cx="934.5" cy="243.7" r="6.9"/><circle cx="913.1" cy="262.7" r="6.9"/><circle cx="894.7" cy="285.4" r="6.9"/><circle cx="882.3" cy="272.5" r="6.9"/><circle cx="900.6" cy="229.5" r="6.9"/><circle cx="853.6" cy="252.8" r="6.9"/><circle cx="891.6" cy="255.1" r="6.9"/><circle cx="885.7" cy="271.7" r="6.9"/><circle cx="838.1" cy="302.3" r="6.9"/><circle cx="887.6" cy="254.2" r="6.9"/><circle cx="925" cy="263.5" r="6.9"/><circle cx="868.1" cy="257.2" r="6.9"/><circle cx="874.9" cy="272.6" r="6.9"/><circle cx="893.3" cy="236.9" r="6.9"/><circle cx="901.3" cy="226.5" r="6.9"/><circle cx="912.2" cy="247.2" r="6.9"/><circle cx="921.3" cy="275.1" r="6.9"/><circle cx="880.3" cy="262.6" r="6.9"/><circle cx="908.4" cy="259.5" r="6.9"/><circle cx="859.5" cy="289.8" r="6.9"/><circle cx="877.2" cy="281.8" r="6.9"/><circle cx="921.1" cy="231.6" r="6.9"/><circle cx="887.6" cy="263.5" r="6.9"/><circle cx="903.2" cy="249.5" r="6.9"/><circle cx="871.4" cy="258.6" r="6.9"/><circle cx="896.5" cy="277.1" r="6.9"/><circle cx="899.7" cy="277.1" r="6.9"/><circle cx="894.6" cy="253.3" r="6.9"/><circle cx="842.3" cy="285.3" r="6.9"/><circle cx="904.5" cy="218.2" r="6.9"/><circle cx="853.6" cy="266.5" r="6.9"/><circle cx="881.8" cy="278" r="6.9"/><circle cx="881.5" cy="223" r="6.9"/><circle cx="916.6" cy="222.2" r="6.9"/><circle cx="891.5" cy="290.9" r="6.9"/><circle cx="873.6" cy="246.2" r="6.9"/><circle cx="865.7" cy="263.7" r="6.9"/><circle cx="861" cy="275.9" r="6.9"/><circle cx="912.6" cy="245.3" r="6.9"/><circle cx="866.1" cy="280.8" r="6.9"/><circle cx="896.8" cy="267.5" r="6.9"/><circle cx="885.2" cy="271.2" r="6.9"/><circle cx="938.9" cy="217" r="6.9"/><circle cx="866.1" cy="285.2" r="6.9"/><circle cx="865.5" cy="271.2" r="6.9"/><circle cx="896.2" cy="259.2" r="6.9"/><circle cx="890.2" cy="275" r="6.9"/><circle cx="870.3" cy="247.7" r="6.9"/><circle cx="905.2" cy="236.8" r="6.9"/><circle cx="910.2" cy="226.5" r="6.9"/><circle cx="905" cy="251.1" r="6.9"/><circle cx="876.3" cy="298.7" r="6.9"/><circle cx="853.1" cy="308.6" r="6.9"/><circle cx="919.1" cy="242.6" r="6.9"/><circle cx="899.1" cy="239.4" r="6.9"/><circle cx="890.3" cy="262" r="6.9"/><circle cx="905.4" cy="258.8" r="6.9"/><circle cx="876.2" cy="255.1" r="6.9"/><circle cx="879.2" cy="275.5" r="6.9"/><circle cx="836.2" cy="278.4" r="6.9"/><circle cx="872.9" cy="261" r="6.9"/><circle cx="877.6" cy="263.2" r="6.9"/><circle cx="886.3" cy="219.8" r="6.9"/><circle cx="885.9" cy="271" r="6.9"/><circle cx="912.1" cy="263.2" r="6.9"/><circle cx="902.4" cy="225.1" r="6.9"/><circle cx="899.8" cy="242.1" r="6.9"/><circle cx="885" cy="293.7" r="6.9"/><circle cx="864.6" cy="262" r="6.9"/><circle cx="869.9" cy="257.4" r="6.9"/><circle cx="916" cy="242.9" r="6.9"/><circle cx="925.6" cy="235.2" r="6.9"/><circle cx="884.5" cy="284.1" r="6.9"/><circle cx="868" cy="267.1" r="6.9"/><circle cx="884.7" cy="263" r="6.9"/><circle cx="910.3" cy="227.4" r="6.9"/><circle cx="896.3" cy="251.6" r="6.9"/><circle cx="847.2" cy="272" r="6.9"/><circle cx="887.2" cy="268.4" r="6.9"/><circle cx="900.8" cy="258.2" r="6.9"/><circle cx="884.8" cy="252.8" r="6.9"/><circle cx="888" cy="238.5" r="6.9"/><circle cx="853" cy="282.8" r="6.9"/><circle cx="849.1" cy="282.5" r="6.9"/><circle cx="864.8" cy="267.9" r="6.9"/><circle cx="879" cy="250.6" r="6.9"/><circle cx="860.6" cy="247.6" r="6.9"/><circle cx="882.6" cy="245.7" r="6.9"/><circle cx="871.8" cy="278.5" r="6.9"/><circle cx="826.7" cy="305.1" r="6.9"/><circle cx="891.6" cy="258.4" r="6.9"/><circle cx="855.2" cy="292.7" r="6.9"/><circle cx="881.8" cy="244.5" r="6.9"/><circle cx="905.4" cy="243.2" r="6.9"/><circle cx="884.1" cy="253.4" r="6.9"/><circle cx="902.3" cy="249" r="6.9"/><circle cx="919.9" cy="241" r="6.9"/><circle cx="871.3" cy="269.2" r="6.9"/><circle cx="906.3" cy="235.8" r="6.9"/><circle cx="902.7" cy="257.4" r="6.9"/><circle cx="860" cy="235.2" r="6.9"/><circle cx="893.6" cy="258.9" r="6.9"/><circle cx="883.6" cy="247.3" r="6.9"/><circle cx="915.6" cy="232.5" r="6.9"/><circle cx="866" cy="263.5" r="6.9"/><circle cx="885.5" cy="238.7" r="6.9"/><circle cx="885.1" cy="303.6" r="6.9"/><circle cx="930.3" cy="244.6" r="6.9"/><circle cx="926.9" cy="238" r="6.9"/><circle cx="860.5" cy="308.2" r="6.9"/><circle cx="922.8" cy="239.3" r="6.9"/><circle cx="854.6" cy="314.4" r="6.9"/><circle cx="915.7" cy="225" r="6.9"/><circle cx="899.3" cy="265.7" r="6.9"/><circle cx="897.6" cy="274" r="6.9"/><circle cx="897.3" cy="265.7" r="6.9"/><circle cx="875" cy="239.7" r="6.9"/><circle cx="908.5" cy="269" r="6.9"/><circle cx="933.1" cy="256" r="6.9"/><circle cx="895.3" cy="240.5" r="6.9"/><circle cx="868.8" cy="235.9" r="6.9"/><circle cx="893.2" cy="273.8" r="6.9"/><circle cx="838.7" cy="306.3" r="6.9"/><circle cx="921.7" cy="257.9" r="6.9"/><circle cx="859.4" cy="270.6" r="6.9"/><circle cx="833" cy="285.9" r="6.9"/><circle cx="922.5" cy="272.7" r="6.9"/><circle cx="875.2" cy="299.3" r="6.9"/><circle cx="893.3" cy="244.4" r="6.9"/><circle cx="888.9" cy="263.1" r="6.9"/><circle cx="943.7" cy="213.7" r="6.9"/><circle cx="925.8" cy="255.1" r="6.9"/><circle cx="904.2" cy="252.8" r="6.9"/><circle cx="879.6" cy="258.1" r="6.9"/><circle cx="879.1" cy="307.9" r="6.9"/><circle cx="856" cy="243.5" r="6.9"/><circle cx="894.2" cy="253.2" r="6.9"/><circle cx="911.3" cy="277.2" r="6.9"/><circle cx="883" cy="258.2" r="6.9"/><circle cx="870.2" cy="274.4" r="6.9"/><circle cx="879.9" cy="270.7" r="6.9"/><circle cx="887.8" cy="300" r="6.9"/><circle cx="917.4" cy="250.9" r="6.9"/><circle cx="913.9" cy="254.1" r="6.9"/><circle cx="919.1" cy="262" r="6.9"/><circle cx="926.4" cy="254.3" r="6.9"/><circle cx="876.2" cy="269.5" r="6.9"/><circle cx="880.8" cy="285.7" r="6.9"/><circle cx="903.3" cy="236.3" r="6.9"/><circle cx="906.2" cy="220" r="6.9"/><circle cx="892.7" cy="268.6" r="6.9"/><circle cx="891.4" cy="264.5" r="6.9"/><circle cx="919.9" cy="238.5" r="6.9"/><circle cx="869.4" cy="290.5" r="6.9"/><circle cx="887.1" cy="262.5" r="6.9"/><circle cx="860.3" cy="254.4" r="6.9"/><circle cx="854.7" cy="280.8" r="6.9"/><circle cx="903.7" cy="221.3" r="6.9"/><circle cx="876.4" cy="280.6" r="6.9"/><circle cx="876.7" cy="283" r="6.9"/><circle cx="879.9" cy="272.8" r="6.9"/><circle cx="890.8" cy="256.9" r="6.9"/><circle cx="829.2" cy="279.6" r="6.9"/><circle cx="901.9" cy="276.9" r="6.9"/><circle cx="880.7" cy="276.8" r="6.9"/><circle cx="897.2" cy="261.5" r="6.9"/><circle cx="896.4" cy="220.5" r="6.9"/><circle cx="893" cy="251.3" r="6.9"/><circle cx="871.9" cy="255.4" r="6.9"/><circle cx="858.7" cy="263.2" r="6.9"/><circle cx="929.1" cy="223.8" r="6.9"/><circle cx="895.9" cy="232" r="6.9"/><circle cx="906.6" cy="273.4" r="6.9"/><circle cx="876.8" cy="248" r="6.9"/><circle cx="872.1" cy="252.2" r="6.9"/><circle cx="852.4" cy="285.4" r="6.9"/><circle cx="870.2" cy="257.7" r="6.9"/><circle cx="857.4" cy="266.4" r="6.9"/><circle cx="908.4" cy="270.9" r="6.9"/><circle cx="906.5" cy="290.3" r="6.9"/><circle cx="852.3" cy="296.1" r="6.9"/><circle cx="858.9" cy="281.3" r="6.9"/><circle cx="896.5" cy="263.7" r="6.9"/><circle cx="909.5" cy="228.9" r="6.9"/><circle cx="856.5" cy="282.7" r="6.9"/><circle cx="888" cy="244.6" r="6.9"/><circle cx="927.2" cy="260.7" r="6.9"/><circle cx="857.9" cy="293.1" r="6.9"/><circle cx="892.6" cy="214.9" r="6.9"/><circle cx="890.8" cy="252.1" r="6.9"/><circle cx="867.8" cy="304.5" r="6.9"/><circle cx="888.5" cy="248.9" r="6.9"/><circle cx="905.6" cy="257.6" r="6.9"/><circle cx="912.7" cy="250" r="6.9"/><circle cx="885.8" cy="236.5" r="6.9"/><circle cx="879.5" cy="269.4" r="6.9"/><circle cx="868.2" cy="254.4" r="6.9"/><circle cx="847.3" cy="300" r="6.9"/><circle cx="883" cy="251.5" r="6.9"/><circle cx="869" cy="257.2" r="6.9"/><circle cx="869.3" cy="273.6" r="6.9"/><circle cx="879.9" cy="280.7" r="6.9"/><circle cx="886.2" cy="263.7" r="6.9"/><circle cx="911.2" cy="265.9" r="6.9"/><circle cx="905" cy="249.3" r="6.9"/><circle cx="876" cy="252.9" r="6.9"/><circle cx="887.2" cy="274.4" r="6.9"/><circle cx="889.6" cy="249.8" r="6.9"/><circle cx="840.4" cy="268.5" r="6.9"/><circle cx="906.7" cy="264.7" r="6.9"/><circle cx="882.9" cy="234.9" r="6.9"/><circle cx="885.5" cy="266.2" r="6.9"/><circle cx="869.9" cy="282.4" r="6.9"/><circle cx="874.8" cy="253.3" r="6.9"/><circle cx="866.9" cy="294.7" r="6.9"/><circle cx="887.6" cy="241.1" r="6.9"/><circle cx="873.2" cy="290.9" r="6.9"/><circle cx="899.4" cy="243.1" r="6.9"/><circle cx="923.4" cy="222.5" r="6.9"/><circle cx="874.3" cy="294.2" r="6.9"/><circle cx="887.3" cy="267.2" r="6.9"/><circle cx="878.7" cy="246.3" r="6.9"/><circle cx="857.8" cy="281.5" r="6.9"/><circle cx="911.5" cy="217.8" r="6.9"/><circle cx="923.1" cy="233.5" r="6.9"/><circle cx="864.4" cy="285.5" r="6.9"/><circle cx="892.5" cy="236.5" r="6.9"/><circle cx="841" cy="307.7" r="6.9"/><circle cx="866.3" cy="287.5" r="6.9"/><circle cx="841" cy="297.2" r="6.9"/><circle cx="853.5" cy="258.2" r="6.9"/><circle cx="884.3" cy="266.2" r="6.9"/><circle cx="862.6" cy="256.6" r="6.9"/><circle cx="875.2" cy="233.8" r="6.9"/><circle cx="906.2" cy="253.9" r="6.9"/><circle cx="937.6" cy="234.8" r="6.9"/><circle cx="899.5" cy="254.9" r="6.9"/><circle cx="875.1" cy="242.7" r="6.9"/><circle cx="928.7" cy="235" r="6.9"/><circle cx="869.5" cy="251.4" r="6.9"/><circle cx="929.3" cy="234.6" r="6.9"/><circle cx="866.9" cy="291.8" r="6.9"/><circle cx="933.3" cy="219.5" r="6.9"/><circle cx="893.5" cy="245.8" r="6.9"/><circle cx="884.4" cy="285" r="6.9"/><circle cx="893.5" cy="271.2" r="6.9"/><circle cx="888.5" cy="274.2" r="6.9"/><circle cx="897.5" cy="229.8" r="6.9"/><circle cx="861.9" cy="280.5" r="6.9"/><circle cx="911" cy="245.1" r="6.9"/><circle cx="903.6" cy="216.9" r="6.9"/><circle cx="893.6" cy="241.5" r="6.9"/><circle cx="894" cy="260.9" r="6.9"/><circle cx="862.7" cy="276.5" r="6.9"/><circle cx="863.2" cy="286.4" r="6.9"/><circle cx="862.8" cy="270.9" r="6.9"/><circle cx="886.7" cy="246.8" r="6.9"/><circle cx="909.1" cy="227.7" r="6.9"/><circle cx="911.5" cy="244.9" r="6.9"/><circle cx="861.3" cy="278" r="6.9"/><circle cx="864.6" cy="272.2" r="6.9"/><circle cx="900.6" cy="286.4" r="6.9"/><circle cx="894.5" cy="286.5" r="6.9"/><circle cx="885.4" cy="234.3" r="6.9"/><circle cx="840.1" cy="315.1" r="6.9"/><circle cx="848.3" cy="308.9" r="6.9"/><circle cx="916.8" cy="242.5" r="6.9"/><circle cx="880.7" cy="260.5" r="6.9"/><circle cx="891.3" cy="250.1" r="6.9"/><circle cx="871.7" cy="265.8" r="6.9"/><circle cx="909.7" cy="227.5" r="6.9"/><circle cx="885.4" cy="237.5" r="6.9"/><circle cx="857.1" cy="257.5" r="6.9"/><circle cx="890.6" cy="271.3" r="6.9"/><circle cx="890.4" cy="246.9" r="6.9"/><circle cx="899.2" cy="242.3" r="6.9"/><circle cx="900" cy="254.7" r="6.9"/><circle cx="875.5" cy="218.4" r="6.9"/><circle cx="865.3" cy="295.3" r="6.9"/><circle cx="908.9" cy="288" r="6.9"/><circle cx="877" cy="257.4" r="6.9"/><circle cx="929.6" cy="234.8" r="6.9"/><circle cx="938.7" cy="225.9" r="6.9"/><circle cx="890.9" cy="271.9" r="6.9"/><circle cx="864.9" cy="270.1" r="6.9"/><circle cx="872.8" cy="268" r="6.9"/><circle cx="901.8" cy="237.3" r="6.9"/><circle cx="890.8" cy="246.5" r="6.9"/><circle cx="885.1" cy="265.4" r="6.9"/><circle cx="873.1" cy="293.5" r="6.9"/><circle cx="906.6" cy="269.9" r="6.9"/><circle cx="917.7" cy="246.9" r="6.9"/><circle cx="873.5" cy="249.3" r="6.9"/><circle cx="878.3" cy="258.2" r="6.9"/><circle cx="889.4" cy="248.4" r="6.9"/><circle cx="911.3" cy="229.3" r="6.9"/><circle cx="892.1" cy="275.1" r="6.9"/><circle cx="875.8" cy="244.7" r="6.9"/><circle cx="896.1" cy="248.3" r="6.9"/><circle cx="841.4" cy="304" r="6.9"/><circle cx="855.5" cy="272.1" r="6.9"/><circle cx="902.8" cy="252.7" r="6.9"/><circle cx="903.8" cy="290.9" r="6.9"/><circle cx="891.9" cy="243.2" r="6.9"/><circle cx="892.6" cy="252.8" r="6.9"/><circle cx="876.6" cy="312.3" r="6.9"/><circle cx="881" cy="259.6" r="6.9"/><circle cx="885" cy="282.4" r="6.9"/><circle cx="906.5" cy="278.8" r="6.9"/><circle cx="923.9" cy="262.4" r="6.9"/><circle cx="889.3" cy="266" r="6.9"/><circle cx="876.2" cy="266" r="6.9"/><circle cx="841.2" cy="287.9" r="6.9"/><circle cx="859" cy="271" r="6.9"/><circle cx="919.8" cy="237.1" r="6.9"/><circle cx="926.2" cy="244" r="6.9"/><circle cx="920.4" cy="252.1" r="6.9"/><circle cx="882.2" cy="281.1" r="6.9"/><circle cx="875.2" cy="259.5" r="6.9"/><circle cx="938.9" cy="260.1" r="6.9"/><circle cx="883" cy="299.9" r="6.9"/><circle cx="899.2" cy="232" r="6.9"/><circle cx="898.6" cy="257.9" r="6.9"/><circle cx="893.5" cy="247.2" r="6.9"/><circle cx="858.1" cy="286" r="6.9"/><circle cx="916.8" cy="250.7" r="6.9"/><circle cx="915.3" cy="258.6" r="6.9"/><circle cx="864.3" cy="279" r="6.9"/><circle cx="906.6" cy="263.9" r="6.9"/><circle cx="897.3" cy="262" r="6.9"/><circle cx="913" cy="281.2" r="6.9"/><circle cx="836.3" cy="303.8" r="6.9"/><circle cx="949.3" cy="210.9" r="6.9"/><circle cx="846.2" cy="298.4" r="6.9"/><circle cx="847.3" cy="280.6" r="6.9"/><circle cx="911.2" cy="274.8" r="6.9"/><circle cx="906.1" cy="257.5" r="6.9"/><circle cx="914.4" cy="240.5" r="6.9"/><circle cx="867" cy="275.6" r="6.9"/><circle cx="893.4" cy="248.9" r="6.9"/><circle cx="868.8" cy="268.6" r="6.9"/><circle cx="842.2" cy="277.9" r="6.9"/><circle cx="882.4" cy="256.7" r="6.9"/><circle cx="903.6" cy="275" r="6.9"/><circle cx="895" cy="252.6" r="6.9"/><circle cx="849.4" cy="270.5" r="6.9"/><circle cx="888.2" cy="241.1" r="6.9"/><circle cx="887.4" cy="237.6" r="6.9"/><circle cx="890.7" cy="255.5" r="6.9"/><circle cx="907.8" cy="234" r="6.9"/><circle cx="882" cy="269.7" r="6.9"/><circle cx="906.9" cy="278" r="6.9"/><circle cx="876.6" cy="258.1" r="6.9"/><circle cx="885.6" cy="271.3" r="6.9"/><circle cx="900.9" cy="262.5" r="6.9"/><circle cx="931.5" cy="220.9" r="6.9"/><circle cx="861.2" cy="285.8" r="6.9"/><circle cx="875.1" cy="224.2" r="6.9"/><circle cx="873.4" cy="241.4" r="6.9"/><circle cx="913.3" cy="266" r="6.9"/><circle cx="897.2" cy="220" r="6.9"/><circle cx="930.3" cy="241.4" r="6.9"/><circle cx="884.9" cy="272.5" r="6.9"/><circle cx="920.7" cy="224" r="6.9"/><circle cx="882.1" cy="252.8" r="6.9"/><circle cx="893.5" cy="209.9" r="6.9"/><circle cx="911.9" cy="218.5" r="6.9"/><circle cx="893.5" cy="220.8" r="6.9"/><circle cx="860" cy="271.3" r="6.9"/><circle cx="891.2" cy="222.9" r="6.9"/><circle cx="896" cy="239.2" r="6.9"/><circle cx="914.4" cy="229.9" r="6.9"/><circle cx="898" cy="247.1" r="6.9"/><circle cx="927" cy="218" r="6.9"/><circle cx="908.1" cy="283.1" r="6.9"/><circle cx="897.1" cy="265.6" r="6.9"/><circle cx="872.9" cy="276.6" r="6.9"/><circle cx="835.7" cy="307" r="6.9"/><circle cx="857.5" cy="254.6" r="6.9"/><circle cx="866.5" cy="301.8" r="6.9"/><circle cx="882.8" cy="232.4" r="6.9"/><circle cx="924" cy="213.6" r="6.9"/><circle cx="882.1" cy="269.6" r="6.9"/><circle cx="844.7" cy="263.4" r="6.9"/><circle cx="882.8" cy="288.4" r="6.9"/><circle cx="894.5" cy="220.9" r="6.9"/><circle cx="917.1" cy="234.8" r="6.9"/><circle cx="900.6" cy="249.4" r="6.9"/><circle cx="887.8" cy="238.8" r="6.9"/><circle cx="859.5" cy="269.5" r="6.9"/><circle cx="885.9" cy="274" r="6.9"/><circle cx="875.9" cy="303" r="6.9"/><circle cx="867.2" cy="265.2" r="6.9"/><circle cx="909.4" cy="249.8" r="6.9"/><circle cx="869.2" cy="253.4" r="6.9"/><circle cx="848.2" cy="260.8" r="6.9"/><circle cx="926.5" cy="248.4" r="6.9"/><circle cx="937.6" cy="226.6" r="6.9"/><circle cx="903.9" cy="261.2" r="6.9"/><circle cx="908.1" cy="236.5" r="6.9"/><circle cx="918.7" cy="277.4" r="6.9"/><circle cx="833.7" cy="277.3" r="6.9"/><circle cx="873.2" cy="287.8" r="6.9"/><circle cx="912.9" cy="230.7" r="6.9"/><circle cx="903.7" cy="244.7" r="6.9"/><circle cx="889.8" cy="246.6" r="6.9"/><circle cx="887.6" cy="259.6" r="6.9"/><circle cx="938" cy="262.3" r="6.9"/><circle cx="850.8" cy="302.8" r="6.9"/><circle cx="898.1" cy="270.7" r="6.9"/><circle cx="921.4" cy="246.5" r="6.9"/><circle cx="897.6" cy="231.2" r="6.9"/><circle cx="865.1" cy="314" r="6.9"/><circle cx="907.1" cy="223" r="6.9"/><circle cx="925.7" cy="240.5" r="6.9"/><circle cx="876.9" cy="293.2" r="6.9"/><circle cx="864.5" cy="264.3" r="6.9"/><circle cx="849.4" cy="288.4" r="6.9"/><circle cx="905.4" cy="230.2" r="6.9"/><circle cx="939.1" cy="229.3" r="6.9"/><circle cx="863.1" cy="255.8" r="6.9"/><circle cx="855.2" cy="299.5" r="6.9"/><circle cx="908.1" cy="219.8" r="6.9"/><circle cx="885.4" cy="255.8" r="6.9"/><circle cx="887.3" cy="270.3" r="6.9"/><circle cx="931.3" cy="208.5" r="6.9"/><circle cx="919.6" cy="254.5" r="6.9"/><circle cx="880" cy="263.2" r="6.9"/><circle cx="867.6" cy="299.5" r="6.9"/><circle cx="868.9" cy="262.3" r="6.9"/><circle cx="881" cy="247.6" r="6.9"/><circle cx="860.5" cy="277.1" r="6.9"/><circle cx="921.4" cy="226.1" r="6.9"/><circle cx="885.6" cy="230.9" r="6.9"/><circle cx="863" cy="249.1" r="6.9"/><circle cx="892" cy="268.5" r="6.9"/><circle cx="838.2" cy="284.3" r="6.9"/><circle cx="884.9" cy="242.8" r="6.9"/><circle cx="917.1" cy="254.1" r="6.9"/><circle cx="894.3" cy="244.9" r="6.9"/><circle cx="880.6" cy="252.6" r="6.9"/><circle cx="888.4" cy="265.6" r="6.9"/><circle cx="891.2" cy="276.9" r="6.9"/><circle cx="904.9" cy="261.8" r="6.9"/><circle cx="901.1" cy="243" r="6.9"/><circle cx="887.2" cy="280.9" r="6.9"/><circle cx="908.3" cy="252.2" r="6.9"/><circle cx="875.7" cy="283.2" r="6.9"/><circle cx="905.2" cy="240.5" r="6.9"/><circle cx="926" cy="271.6" r="6.9"/><circle cx="849.9" cy="305.1" r="6.9"/><circle cx="846.4" cy="267.1" r="6.9"/><circle cx="888.3" cy="270.5" r="6.9"/><circle cx="877.5" cy="244.2" r="6.9"/><circle cx="848.3" cy="282.2" r="6.9"/><circle cx="880" cy="249" r="6.9"/><circle cx="870.7" cy="311" r="6.9"/><circle cx="866.7" cy="274.6" r="6.9"/><circle cx="869.2" cy="263.5" r="6.9"/><circle cx="886.1" cy="254.8" r="6.9"/><circle cx="890.7" cy="232.2" r="6.9"/><circle cx="873.1" cy="313" r="6.9"/><circle cx="894.4" cy="269.8" r="6.9"/><circle cx="922.1" cy="241.3" r="6.9"/><circle cx="873" cy="239.9" r="6.9"/><circle cx="860.3" cy="303.9" r="6.9"/><circle cx="910.3" cy="251.9" r="6.9"/><circle cx="850.9" cy="266.9" r="6.9"/><circle cx="881.5" cy="243.7" r="6.9"/><circle cx="919.5" cy="218.9" r="6.9"/><circle cx="883.8" cy="281" r="6.9"/><circle cx="886.8" cy="241.6" r="6.9"/><circle cx="927.7" cy="265" r="6.9"/><circle cx="856.4" cy="281.6" r="6.9"/><circle cx="842.5" cy="258.3" r="6.9"/><circle cx="910.4" cy="254.5" r="6.9"/><circle cx="915.9" cy="244" r="6.9"/><circle cx="839.9" cy="300.6" r="6.9"/><circle cx="860.1" cy="258.9" r="6.9"/><circle cx="869.8" cy="291.2" r="6.9"/><circle cx="901.6" cy="288.7" r="6.9"/><circle cx="879.7" cy="226.6" r="6.9"/><circle cx="922.6" cy="255.5" r="6.9"/><circle cx="876.4" cy="244" r="6.9"/><circle cx="916.9" cy="206.7" r="6.9"/><circle cx="866.5" cy="238.1" r="6.9"/><circle cx="840.6" cy="264.9" r="6.9"/><circle cx="926.5" cy="250.6" r="6.9"/><circle cx="864.5" cy="251.3" r="6.9"/><circle cx="890.8" cy="264.9" r="6.9"/><circle cx="839.7" cy="277" r="6.9"/><circle cx="893.1" cy="269.7" r="6.9"/><circle cx="894.7" cy="263" r="6.9"/><circle cx="886.2" cy="241.6" r="6.9"/><circle cx="881.4" cy="257.2" r="6.9"/><circle cx="891.7" cy="239.9" r="6.9"/><circle cx="923.2" cy="229.4" r="6.9"/><circle cx="907.5" cy="255.6" r="6.9"/><circle cx="917.4" cy="242.3" r="6.9"/><circle cx="839.7" cy="288.1" r="6.9"/><circle cx="937.9" cy="226" r="6.9"/><circle cx="906.6" cy="253" r="6.9"/><circle cx="865.8" cy="264.4" r="6.9"/><circle cx="884.8" cy="286.5" r="6.9"/><circle cx="915.6" cy="272.9" r="6.9"/><circle cx="920" cy="271.4" r="6.9"/><circle cx="886.9" cy="235.3" r="6.9"/><circle cx="933.7" cy="226.8" r="6.9"/><circle cx="919.2" cy="236.8" r="6.9"/><circle cx="882.2" cy="268" r="6.9"/><circle cx="848.7" cy="268.2" r="6.9"/><circle cx="861.4" cy="271.4" r="6.9"/><circle cx="854.5" cy="286.3" r="6.9"/><circle cx="916.9" cy="277.2" r="6.9"/><circle cx="932.1" cy="219.9" r="6.9"/><circle cx="907.3" cy="237.9" r="6.9"/><circle cx="897.3" cy="250.5" r="6.9"/><circle cx="876" cy="271.4" r="6.9"/><circle cx="857.2" cy="295.5" r="6.9"/><circle cx="869.9" cy="252.1" r="6.9"/><circle cx="885.4" cy="273.4" r="6.9"/><circle cx="876.8" cy="279.1" r="6.9"/><circle cx="918.4" cy="266" r="6.9"/><circle cx="860.8" cy="280.6" r="6.9"/><circle cx="916.4" cy="266.5" r="6.9"/><circle cx="902.5" cy="262.7" r="6.9"/><circle cx="846.6" cy="282.9" r="6.9"/><circle cx="925.5" cy="220.7" r="6.9"/><circle cx="933" cy="204.8" r="6.9"/><circle cx="864.7" cy="245.7" r="6.9"/><circle cx="906.4" cy="248.9" r="6.9"/><circle cx="938.9" cy="218.6" r="6.9"/><circle cx="867.3" cy="247.3" r="6.9"/><circle cx="896.2" cy="272.3" r="6.9"/><circle cx="919.2" cy="258.4" r="6.9"/><circle cx="908.7" cy="240.3" r="6.9"/><circle cx="904.8" cy="248.5" r="6.9"/><circle cx="874" cy="308" r="6.9"/><circle cx="886.3" cy="238.5" r="6.9"/><circle cx="900.7" cy="254.5" r="6.9"/><circle cx="927.7" cy="255.6" r="6.9"/><circle cx="915.4" cy="215.3" r="6.9"/><circle cx="846" cy="301.8" r="6.9"/><circle cx="900.1" cy="256.3" r="6.9"/><circle cx="856.3" cy="276.9" r="6.9"/><circle cx="900.9" cy="264.1" r="6.9"/><circle cx="944.7" cy="216.3" r="6.9"/><circle cx="848.6" cy="243.2" r="6.9"/><circle cx="913" cy="234.8" r="6.9"/><circle cx="875.1" cy="249.4" r="6.9"/><circle cx="887.2" cy="221.7" r="6.9"/><circle cx="892.2" cy="258.3" r="6.9"/><circle cx="909.4" cy="268.7" r="6.9"/><circle cx="886.8" cy="262.4" r="6.9"/><circle cx="892.7" cy="222.1" r="6.9"/><circle cx="881.9" cy="266.1" r="6.9"/><circle cx="903.1" cy="229.1" r="6.9"/><circle cx="911.9" cy="246.8" r="6.9"/><circle cx="836.3" cy="272.6" r="6.9"/><circle cx="854.8" cy="291.2" r="6.9"/><circle cx="901" cy="263.6" r="6.9"/><circle cx="902.4" cy="235" r="6.9"/><circle cx="923.1" cy="246.4" r="6.9"/><circle cx="904.9" cy="255" r="6.9"/><circle cx="860.7" cy="290.8" r="6.9"/><circle cx="850.4" cy="266.5" r="6.9"/><circle cx="881.2" cy="268.3" r="6.9"/><circle cx="883.4" cy="256.2" r="6.9"/><circle cx="865.8" cy="282.6" r="6.9"/><circle cx="855.2" cy="257.7" r="6.9"/><circle cx="906" cy="274.9" r="6.9"/><circle cx="867.1" cy="254.7" r="6.9"/><circle cx="940.3" cy="250.6" r="6.9"/><circle cx="878.8" cy="262.8" r="6.9"/><circle cx="902.1" cy="268.4" r="6.9"/><circle cx="879.8" cy="227.4" r="6.9"/><circle cx="848.2" cy="267.5" r="6.9"/><circle cx="900" cy="251.2" r="6.9"/><circle cx="929.2" cy="217.7" r="6.9"/><circle cx="896.6" cy="253.5" r="6.9"/><circle cx="916.3" cy="284.5" r="6.9"/><circle cx="910.9" cy="271.1" r="6.9"/><circle cx="913.6" cy="224.1" r="6.9"/><circle cx="901" cy="239.9" r="6.9"/><circle cx="892.6" cy="258.7" r="6.9"/><circle cx="883.8" cy="252.9" r="6.9"/><circle cx="923.6" cy="222.7" r="6.9"/><circle cx="923.4" cy="264.7" r="6.9"/><circle cx="914.5" cy="258.4" r="6.9"/><circle cx="933.9" cy="242.9" r="6.9"/><circle cx="915.2" cy="205" r="6.9"/><circle cx="936.6" cy="217.7" r="6.9"/><circle cx="838.6" cy="288.5" r="6.9"/><circle cx="853.8" cy="288.6" r="6.9"/><circle cx="841" cy="278.5" r="6.9"/><circle cx="897.2" cy="254.7" r="6.9"/><circle cx="866.2" cy="273.3" r="6.9"/><circle cx="886.6" cy="262.2" r="6.9"/><circle cx="885.7" cy="256.6" r="6.9"/><circle cx="892.7" cy="220.7" r="6.9"/><circle cx="877.6" cy="271.3" r="6.9"/><circle cx="872.5" cy="260.9" r="6.9"/><circle cx="879.8" cy="271" r="6.9"/><circle cx="916.8" cy="230.3" r="6.9"/><circle cx="885.5" cy="269.2" r="6.9"/><circle cx="861.7" cy="240.5" r="6.9"/><circle cx="890.8" cy="248.8" r="6.9"/><circle cx="880.9" cy="279.1" r="6.9"/><circle cx="883.3" cy="251.2" r="6.9"/><circle cx="887.3" cy="257.4" r="6.9"/><circle cx="901.4" cy="252.5" r="6.9"/><circle cx="863" cy="253.8" r="6.9"/><circle cx="859.9" cy="280.8" r="6.9"/><circle cx="868.1" cy="292.9" r="6.9"/><circle cx="836.5" cy="265.4" r="6.9"/><circle cx="864.5" cy="241.5" r="6.9"/><circle cx="917.7" cy="212.2" r="6.9"/><circle cx="884.4" cy="257.2" r="6.9"/><circle cx="849.2" cy="254.9" r="6.9"/><circle cx="851.7" cy="309.5" r="6.9"/><circle cx="936.5" cy="263.9" r="6.9"/><circle cx="858.3" cy="297.3" r="6.9"/><circle cx="896.9" cy="269.8" r="6.9"/><circle cx="883.3" cy="279" r="6.9"/><circle cx="916.8" cy="247.4" r="6.9"/><circle cx="922" cy="226.1" r="6.9"/><circle cx="918.7" cy="217.5" r="6.9"/><circle cx="880" cy="249" r="6.9"/><circle cx="899.3" cy="271.8" r="6.9"/><circle cx="906.9" cy="244.9" r="6.9"/><circle cx="914.3" cy="204.6" r="6.9"/><circle cx="884.4" cy="295.1" r="6.9"/><circle cx="874.2" cy="226.6" r="6.9"/><circle cx="884" cy="237.3" r="6.9"/><circle cx="936.8" cy="241.6" r="6.9"/><circle cx="888.6" cy="286.7" r="6.9"/><circle cx="877.6" cy="288.2" r="6.9"/><circle cx="901.1" cy="245.2" r="6.9"/><circle cx="850.3" cy="286.1" r="6.9"/><circle cx="825.9" cy="301.1" r="6.9"/><circle cx="855.7" cy="313.6" r="6.9"/><circle cx="906.6" cy="251.2" r="6.9"/><circle cx="898.4" cy="296" r="6.9"/><circle cx="908" cy="243.4" r="6.9"/><circle cx="910.3" cy="260.7" r="6.9"/><circle cx="858.6" cy="254.4" r="6.9"/><circle cx="869.4" cy="239.5" r="6.9"/><circle cx="896.7" cy="268.4" r="6.9"/><circle cx="928.2" cy="230.1" r="6.9"/><circle cx="901.1" cy="264.1" r="6.9"/><circle cx="919.3" cy="225.3" r="6.9"/><circle cx="849.6" cy="275.6" r="6.9"/><circle cx="847.8" cy="275.1" r="6.9"/><circle cx="889" cy="265.9" r="6.9"/><circle cx="892.8" cy="256.6" r="6.9"/><circle cx="884" cy="272" r="6.9"/><circle cx="918.1" cy="249.5" r="6.9"/><circle cx="922" cy="223.5" r="6.9"/><circle cx="900.2" cy="285.3" r="6.9"/><circle cx="897.6" cy="259.9" r="6.9"/><circle cx="890.3" cy="278.2" r="6.9"/><circle cx="867.6" cy="255.3" r="6.9"/><circle cx="882" cy="255" r="6.9"/><circle cx="904.7" cy="236.7" r="6.9"/><circle cx="889" cy="253.8" r="6.9"/><circle cx="889.9" cy="244.1" r="6.9"/><circle cx="900.2" cy="218" r="6.9"/><circle cx="871.2" cy="258.6" r="6.9"/><circle cx="904.6" cy="245.8" r="6.9"/><circle cx="896.7" cy="244.7" r="6.9"/><circle cx="858.6" cy="260.7" r="6.9"/><circle cx="874.3" cy="259.7" r="6.9"/><circle cx="898.9" cy="257.5" r="6.9"/><circle cx="911.1" cy="236.9" r="6.9"/><circle cx="858.5" cy="262.1" r="6.9"/><circle cx="893.6" cy="262.3" r="6.9"/><circle cx="938.1" cy="219.7" r="6.9"/><circle cx="875.4" cy="296.4" r="6.9"/><circle cx="930.6" cy="251.4" r="6.9"/><circle cx="898.2" cy="271.1" r="6.9"/><circle cx="875.7" cy="268.5" r="6.9"/><circle cx="907.8" cy="280.6" r="6.9"/><circle cx="893.2" cy="275.5" r="6.9"/><circle cx="882.3" cy="249" r="6.9"/><circle cx="901.3" cy="262" r="6.9"/><circle cx="877.5" cy="282.1" r="6.9"/><circle cx="861.4" cy="263.6" r="6.9"/><circle cx="891.2" cy="251.5" r="6.9"/><circle cx="846.7" cy="260.1" r="6.9"/><circle cx="891.4" cy="261.6" r="6.9"/><circle cx="879" cy="271.2" r="6.9"/><circle cx="854.9" cy="296.6" r="6.9"/><circle cx="901.5" cy="253.6" r="6.9"/><circle cx="874" cy="273.2" r="6.9"/><circle cx="902.9" cy="269.5" r="6.9"/><circle cx="897.8" cy="256.3" r="6.9"/><circle cx="879.7" cy="285.2" r="6.9"/><circle cx="911.8" cy="228" r="6.9"/><circle cx="907.3" cy="249.3" r="6.9"/><circle cx="873.4" cy="244.3" r="6.9"/><circle cx="891.7" cy="248" r="6.9"/><circle cx="911.9" cy="229.5" r="6.9"/><circle cx="895.8" cy="265.8" r="6.9"/><circle cx="893.9" cy="243" r="6.9"/><circle cx="909.2" cy="249.4" r="6.9"/><circle cx="907.1" cy="231.7" r="6.9"/><circle cx="883" cy="255.3" r="6.9"/><circle cx="870.4" cy="280.1" r="6.9"/><circle cx="913.4" cy="267.8" r="6.9"/><circle cx="884.4" cy="270.8" r="6.9"/><circle cx="915.1" cy="233.3" r="6.9"/><circle cx="891.2" cy="259.4" r="6.9"/><circle cx="860.8" cy="261.7" r="6.9"/><circle cx="917.5" cy="237.4" r="6.9"/><circle cx="873.2" cy="245.5" r="6.9"/><circle cx="903.6" cy="271" r="6.9"/><circle cx="850.6" cy="272.7" r="6.9"/><circle cx="930.7" cy="253" r="6.9"/><circle cx="920.4" cy="219.3" r="6.9"/><circle cx="895" cy="237.1" r="6.9"/><circle cx="897.1" cy="243.6" r="6.9"/><circle cx="907.3" cy="271.4" r="6.9"/><circle cx="894" cy="249" r="6.9"/><circle cx="892.5" cy="261.2" r="6.9"/><circle cx="877.9" cy="272.6" r="6.9"/><circle cx="919.5" cy="265.4" r="6.9"/><circle cx="825.2" cy="288.4" r="6.9"/><circle cx="867.3" cy="296.1" r="6.9"/><circle cx="950" cy="209.6" r="6.9"/><circle cx="903.3" cy="270.5" r="6.9"/><circle cx="826.7" cy="308.8" r="6.9"/><circle cx="870.7" cy="264" r="6.9"/><circle cx="890.4" cy="244.8" r="6.9"/><circle cx="915.4" cy="235.5" r="6.9"/><circle cx="887.1" cy="280" r="6.9"/><circle cx="881.3" cy="291.9" r="6.9"/><circle cx="913.3" cy="240.4" r="6.9"/><circle cx="929.5" cy="257.7" r="6.9"/><circle cx="921.9" cy="229.9" r="6.9"/><circle cx="898.7" cy="273.8" r="6.9"/><circle cx="846" cy="283" r="6.9"/><circle cx="906.1" cy="255.8" r="6.9"/><circle cx="900.8" cy="257.6" r="6.9"/><circle cx="854.2" cy="284.8" r="6.9"/><circle cx="892.2" cy="250.8" r="6.9"/><circle cx="896.2" cy="265.3" r="6.9"/><circle cx="859.1" cy="272.4" r="6.9"/><circle cx="857.1" cy="310.7" r="6.9"/><circle cx="844.5" cy="260.7" r="6.9"/><circle cx="904.8" cy="240.2" r="6.9"/><circle cx="907.9" cy="234.2" r="6.9"/><circle cx="947.5" cy="222.8" r="6.9"/><circle cx="893.1" cy="257.3" r="6.9"/><circle cx="891.8" cy="273.3" r="6.9"/><circle cx="932.4" cy="211.7" r="6.9"/><circle cx="868.1" cy="289.4" r="6.9"/><circle cx="898.4" cy="218.4" r="6.9"/><circle cx="860.9" cy="261.6" r="6.9"/><circle cx="907.3" cy="253.4" r="6.9"/><circle cx="858.5" cy="260.9" r="6.9"/><circle cx="883.1" cy="219.7" r="6.9"/><circle cx="902.3" cy="243.6" r="6.9"/><circle cx="945.4" cy="230.7" r="6.9"/><circle cx="871.3" cy="268" r="6.9"/><circle cx="873.9" cy="256.1" r="6.9"/><circle cx="900.4" cy="269.1" r="6.9"/><circle cx="849.3" cy="288.1" r="6.9"/><circle cx="932.3" cy="236.6" r="6.9"/><circle cx="860" cy="266.5" r="6.9"/><circle cx="850.6" cy="257.7" r="6.9"/><circle cx="916.9" cy="235.7" r="6.9"/><circle cx="856.3" cy="256.4" r="6.9"/><circle cx="873.6" cy="261" r="6.9"/><circle cx="925.1" cy="217.3" r="6.9"/><circle cx="902.3" cy="269.7" r="6.9"/><circle cx="902.5" cy="242.9" r="6.9"/><circle cx="898.2" cy="241.3" r="6.9"/><circle cx="876.1" cy="249.4" r="6.9"/><circle cx="850.9" cy="260.1" r="6.9"/><circle cx="905.8" cy="254.8" r="6.9"/><circle cx="900.7" cy="264.9" r="6.9"/><circle cx="902.5" cy="249.3" r="6.9"/><circle cx="873.1" cy="284.8" r="6.9"/><circle cx="923.6" cy="241.8" r="6.9"/><circle cx="913.5" cy="227.2" r="6.9"/><circle cx="877.7" cy="294.8" r="6.9"/><circle cx="876.7" cy="274.3" r="6.9"/><circle cx="883.9" cy="263.4" r="6.9"/><circle cx="876.1" cy="258.3" r="6.9"/><circle cx="873" cy="231.6" r="6.9"/><circle cx="854.6" cy="264.6" r="6.9"/><circle cx="919.3" cy="266.8" r="6.9"/><circle cx="890.1" cy="273.3" r="6.9"/><circle cx="889.7" cy="231.5" r="6.9"/><circle cx="900" cy="213.3" r="6.9"/><circle cx="870.6" cy="266.8" r="6.9"/><circle cx="919.8" cy="234.2" r="6.9"/><circle cx="876.8" cy="252" r="6.9"/><circle cx="890.9" cy="257.7" r="6.9"/><circle cx="920.5" cy="260.6" r="6.9"/><circle cx="906.2" cy="243.9" r="6.9"/><circle cx="901.3" cy="281.6" r="6.9"/><circle cx="892.9" cy="254.7" r="6.9"/><circle cx="947.9" cy="240.4" r="6.9"/><circle cx="900.8" cy="245.9" r="6.9"/><circle cx="884.2" cy="285.2" r="6.9"/><circle cx="887.4" cy="280.2" r="6.9"/><circle cx="870.5" cy="276.8" r="6.9"/><circle cx="899.5" cy="252.4" r="6.9"/><circle cx="897.9" cy="258.8" r="6.9"/><circle cx="849.6" cy="269.3" r="6.9"/><circle cx="903.6" cy="283.9" r="6.9"/><circle cx="875.6" cy="250.6" r="6.9"/><circle cx="872.7" cy="273.3" r="6.9"/><circle cx="910.8" cy="227.6" r="6.9"/><circle cx="903.7" cy="249.6" r="6.9"/><circle cx="869.8" cy="255.2" r="6.9"/><circle cx="877.1" cy="253.6" r="6.9"/><circle cx="882.8" cy="226.7" r="6.9"/><circle cx="923.3" cy="244.7" r="6.9"/><circle cx="917.8" cy="265" r="6.9"/><circle cx="884.9" cy="226" r="6.9"/><circle cx="894.2" cy="263.4" r="6.9"/><circle cx="860" cy="259.8" r="6.9"/><circle cx="904" cy="256.2" r="6.9"/><circle cx="875.5" cy="265.1" r="6.9"/><circle cx="870.2" cy="262.9" r="6.9"/><circle cx="898.1" cy="273.2" r="6.9"/><circle cx="846.1" cy="288.6" r="6.9"/><circle cx="930.3" cy="229.3" r="6.9"/><circle cx="900.7" cy="265.9" r="6.9"/><circle cx="851.6" cy="265.5" r="6.9"/><circle cx="833.3" cy="276.2" r="6.9"/><circle cx="903.1" cy="264.1" r="6.9"/><circle cx="871.2" cy="259.7" r="6.9"/><circle cx="904.3" cy="258.1" r="6.9"/><circle cx="874.6" cy="231" r="6.9"/><circle cx="885.2" cy="243.9" r="6.9"/><circle cx="888.2" cy="290.8" r="6.9"/><circle cx="924.9" cy="237.4" r="6.9"/><circle cx="896.7" cy="255.4" r="6.9"/><circle cx="873.7" cy="270.7" r="6.9"/><circle cx="924.9" cy="208.8" r="6.9"/><circle cx="874.1" cy="274.8" r="6.9"/><circle cx="918.3" cy="250.5" r="6.9"/><circle cx="863.8" cy="277.7" r="6.9"/><circle cx="869.1" cy="249.9" r="6.9"/><circle cx="885.1" cy="251.8" r="6.9"/><circle cx="914.8" cy="245.2" r="6.9"/><circle cx="870.4" cy="276.3" r="6.9"/><circle cx="873.1" cy="258.9" r="6.9"/><circle cx="887.7" cy="282" r="6.9"/><circle cx="860.6" cy="247.2" r="6.9"/><circle cx="878.1" cy="284.9" r="6.9"/><circle cx="928.8" cy="201.8" r="6.9"/><circle cx="876.3" cy="262.6" r="6.9"/><circle cx="858.8" cy="293.2" r="6.9"/><circle cx="889.9" cy="263.5" r="6.9"/><circle cx="939" cy="209.4" r="6.9"/><circle cx="915.9" cy="252.6" r="6.9"/><circle cx="866.9" cy="265.3" r="6.9"/><circle cx="932.9" cy="235.3" r="6.9"/><circle cx="880.3" cy="243.1" r="6.9"/><circle cx="914.9" cy="247.1" r="6.9"/><circle cx="910.3" cy="245.6" r="6.9"/><circle cx="884" cy="251.2" r="6.9"/><circle cx="898.2" cy="255.6" r="6.9"/><circle cx="915.1" cy="258.6" r="6.9"/><circle cx="890.1" cy="246.1" r="6.9"/><circle cx="923.7" cy="260.9" r="6.9"/><circle cx="872.7" cy="281.5" r="6.9"/><circle cx="906.9" cy="254.1" r="6.9"/><circle cx="899.4" cy="247.5" r="6.9"/><circle cx="903.4" cy="281.4" r="6.9"/><circle cx="915.1" cy="206.4" r="6.9"/><circle cx="866.8" cy="267" r="6.9"/><circle cx="853.8" cy="296.5" r="6.9"/><circle cx="881.4" cy="253.8" r="6.9"/><circle cx="935.7" cy="242.5" r="6.9"/><circle cx="885.3" cy="275.5" r="6.9"/><circle cx="899.4" cy="273.7" r="6.9"/><circle cx="901.8" cy="246.6" r="6.9"/><circle cx="894" cy="239.1" r="6.9"/><circle cx="922.8" cy="260.6" r="6.9"/><circle cx="885.4" cy="273.3" r="6.9"/><circle cx="858.2" cy="304.9" r="6.9"/><circle cx="898.6" cy="228.7" r="6.9"/><circle cx="931.1" cy="224.3" r="6.9"/><circle cx="832.7" cy="278.7" r="6.9"/><circle cx="906.3" cy="237.7" r="6.9"/><circle cx="898.5" cy="217.7" r="6.9"/><circle cx="896.1" cy="272.8" r="6.9"/><circle cx="879.1" cy="281.3" r="6.9"/><circle cx="883.3" cy="270.7" r="6.9"/><circle cx="919.2" cy="279.1" r="6.9"/><circle cx="866.8" cy="294.1" r="6.9"/><circle cx="907.9" cy="218.4" r="6.9"/><circle cx="914.2" cy="285" r="6.9"/><circle cx="864.8" cy="243.6" r="6.9"/><circle cx="888" cy="244.2" r="6.9"/><circle cx="866.2" cy="260.8" r="6.9"/><circle cx="890.5" cy="247.4" r="6.9"/><circle cx="864.3" cy="275.2" r="6.9"/><circle cx="889.1" cy="240.5" r="6.9"/><circle cx="897.6" cy="216.2" r="6.9"/><circle cx="894" cy="246" r="6.9"/><circle cx="919.2" cy="218.8" r="6.9"/><circle cx="858.5" cy="256.9" r="6.9"/><circle cx="942.1" cy="225.3" r="6.9"/><circle cx="858.9" cy="277.6" r="6.9"/><circle cx="881.2" cy="297.2" r="6.9"/><circle cx="877.1" cy="226.1" r="6.9"/><circle cx="902.8" cy="265.7" r="6.9"/><circle cx="893.2" cy="264.7" r="6.9"/><circle cx="887.8" cy="263.9" r="6.9"/><circle cx="886" cy="246.2" r="6.9"/><circle cx="898.3" cy="253.9" r="6.9"/><circle cx="880.2" cy="251.8" r="6.9"/><circle cx="866.6" cy="283.1" r="6.9"/><circle cx="882.9" cy="213.1" r="6.9"/><circle cx="889.5" cy="286.4" r="6.9"/><circle cx="902.7" cy="231.6" r="6.9"/><circle cx="910.3" cy="219.2" r="6.9"/><circle cx="889.5" cy="298.7" r="6.9"/><circle cx="875.6" cy="265.6" r="6.9"/><circle cx="838.3" cy="281.3" r="6.9"/><circle cx="858.7" cy="281.9" r="6.9"/><circle cx="855.5" cy="309.9" r="6.9"/><circle cx="873.5" cy="259.3" r="6.9"/><circle cx="880.8" cy="281.2" r="6.9"/><circle cx="920.7" cy="222.4" r="6.9"/><circle cx="943.6" cy="244.8" r="6.9"/><circle cx="923.5" cy="234.8" r="6.9"/><circle cx="859.6" cy="298.1" r="6.9"/><circle cx="880.5" cy="269.9" r="6.9"/><circle cx="840.3" cy="294.9" r="6.9"/><circle cx="884.1" cy="243.1" r="6.9"/><circle cx="912.7" cy="273" r="6.9"/><circle cx="886.7" cy="246.1" r="6.9"/><circle cx="870.5" cy="283.1" r="6.9"/><circle cx="850.3" cy="244" r="6.9"/><circle cx="903.1" cy="263.7" r="6.9"/><circle cx="884.5" cy="293.2" r="6.9"/><circle cx="912.6" cy="263" r="6.9"/><circle cx="851.7" cy="290.8" r="6.9"/><circle cx="919.8" cy="231.7" r="6.9"/><circle cx="886.1" cy="247.8" r="6.9"/><circle cx="907.3" cy="227.9" r="6.9"/><circle cx="869.7" cy="231.8" r="6.9"/><circle cx="870.7" cy="311.8" r="6.9"/><circle cx="891.9" cy="260.5" r="6.9"/><circle cx="835.3" cy="304.5" r="6.9"/><circle cx="922.3" cy="198.1" r="6.9"/><circle cx="829.6" cy="306.7" r="6.9"/><circle cx="873.3" cy="267.7" r="6.9"/><circle cx="844" cy="269.1" r="6.9"/><circle cx="865.3" cy="292.6" r="6.9"/><circle cx="895.7" cy="270" r="6.9"/><circle cx="868.5" cy="288.7" r="6.9"/><circle cx="878.6" cy="269.4" r="6.9"/><circle cx="911" cy="240" r="6.9"/><circle cx="862.5" cy="246.5" r="6.9"/><circle cx="898" cy="267.2" r="6.9"/><circle cx="872.4" cy="271.5" r="6.9"/><circle cx="831.8" cy="280" r="6.9"/><circle cx="911.5" cy="266.3" r="6.9"/><circle cx="863.3" cy="245.5" r="6.9"/><circle cx="862.8" cy="248.3" r="6.9"/><circle cx="901.8" cy="288.1" r="6.9"/><circle cx="893.9" cy="251" r="6.9"/><circle cx="909.2" cy="232.9" r="6.9"/><circle cx="898.4" cy="254.6" r="6.9"/><circle cx="883.6" cy="232.1" r="6.9"/><circle cx="914.6" cy="254.9" r="6.9"/><circle cx="882.3" cy="295.9" r="6.9"/><circle cx="895.9" cy="266.9" r="6.9"/><circle cx="910.9" cy="258.2" r="6.9"/><circle cx="866.7" cy="265.4" r="6.9"/><circle cx="903.7" cy="258.6" r="6.9"/><circle cx="905.7" cy="251.2" r="6.9"/><circle cx="888.2" cy="282.6" r="6.9"/><circle cx="910.8" cy="262.1" r="6.9"/><circle cx="831.5" cy="312.9" r="6.9"/><circle cx="873.5" cy="274.5" r="6.9"/><circle cx="873.5" cy="265.4" r="6.9"/><circle cx="896.6" cy="259.3" r="6.9"/><circle cx="875.1" cy="282.1" r="6.9"/><circle cx="872.4" cy="282.1" r="6.9"/><circle cx="869.4" cy="255.5" r="6.9"/><circle cx="934" cy="254.6" r="6.9"/><circle cx="885.2" cy="260.7" r="6.9"/><circle cx="897.5" cy="222.8" r="6.9"/><circle cx="879" cy="291.2" r="6.9"/><circle cx="904.9" cy="234.1" r="6.9"/><circle cx="873.1" cy="279.8" r="6.9"/><circle cx="848.8" cy="282.8" r="6.9"/><circle cx="856.6" cy="234.1" r="6.9"/><circle cx="910.7" cy="255.9" r="6.9"/><circle cx="899" cy="219.1" r="6.9"/><circle cx="848.4" cy="276.4" r="6.9"/><circle cx="878.2" cy="311.7" r="6.9"/><circle cx="861.2" cy="276" r="6.9"/><circle cx="898.1" cy="260.3" r="6.9"/><circle cx="912" cy="215.2" r="6.9"/><circle cx="911.3" cy="242.3" r="6.9"/><circle cx="861.3" cy="285.8" r="6.9"/><circle cx="871.3" cy="308.6" r="6.9"/><circle cx="881.1" cy="286.8" r="6.9"/><circle cx="913.4" cy="224" r="6.9"/><circle cx="867.8" cy="279.7" r="6.9"/><circle cx="872.2" cy="292.3" r="6.9"/><circle cx="884.4" cy="246.1" r="6.9"/><circle cx="879.2" cy="282.5" r="6.9"/><circle cx="870.8" cy="310.5" r="6.9"/><circle cx="867" cy="273.4" r="6.9"/><circle cx="882.9" cy="298.6" r="6.9"/><circle cx="922.2" cy="257.5" r="6.9"/><circle cx="905.2" cy="246.3" r="6.9"/><circle cx="936.7" cy="231.2" r="6.9"/><circle cx="905.1" cy="256.9" r="6.9"/><circle cx="909.2" cy="246.9" r="6.9"/><circle cx="867.2" cy="243.2" r="6.9"/><circle cx="924.8" cy="199.4" r="6.9"/><circle cx="828" cy="296.2" r="6.9"/><circle cx="948.6" cy="232.9" r="6.9"/><circle cx="876.3" cy="275.2" r="6.9"/><circle cx="866.5" cy="235.3" r="6.9"/><circle cx="883.2" cy="269.8" r="6.9"/><circle cx="904.2" cy="219.4" r="6.9"/><circle cx="897.2" cy="253.1" r="6.9"/><circle cx="893.5" cy="257.8" r="6.9"/><circle cx="864.7" cy="250.2" r="6.9"/><circle cx="903.5" cy="254.2" r="6.9"/><circle cx="915.7" cy="262.1" r="6.9"/><circle cx="870.1" cy="283.5" r="6.9"/><circle cx="895.7" cy="268.4" r="6.9"/><circle cx="877.7" cy="255.4" r="6.9"/><circle cx="899.8" cy="260.3" r="6.9"/><circle cx="878.5" cy="296" r="6.9"/><circle cx="921.2" cy="240.1" r="6.9"/><circle cx="883" cy="258.6" r="6.9"/><circle cx="854.9" cy="302.3" r="6.9"/><circle cx="858.9" cy="273.8" r="6.9"/><circle cx="902.9" cy="226.5" r="6.9"/><circle cx="884.6" cy="280.8" r="6.9"/><circle cx="926.5" cy="211" r="6.9"/><circle cx="908.4" cy="227.5" r="6.9"/><circle cx="903" cy="256.8" r="6.9"/><circle cx="871.2" cy="296.1" r="6.9"/><circle cx="949.9" cy="194.6" r="6.9"/><circle cx="925.5" cy="200.5" r="6.9"/><circle cx="949.8" cy="194.8" r="6.9"/><circle cx="920.4" cy="229.1" r="6.9"/><circle cx="909.4" cy="220.5" r="6.9"/><circle cx="950.1" cy="185.8" r="6.9"/><circle cx="919" cy="213.6" r="6.9"/><circle cx="927" cy="220.8" r="6.9"/><circle cx="939.6" cy="190.3" r="6.9"/><circle cx="923.4" cy="194.4" r="6.9"/><circle cx="946" cy="196.3" r="6.9"/><circle cx="931.5" cy="229" r="6.9"/><circle cx="937.1" cy="222.2" r="6.9"/><circle cx="951.8" cy="213" r="6.9"/><circle cx="921.3" cy="219.5" r="6.9"/><circle cx="932.6" cy="206.6" r="6.9"/><circle cx="942.1" cy="191.8" r="6.9"/><circle cx="949.2" cy="211.6" r="6.9"/><circle cx="902.3" cy="223.2" r="6.9"/><circle cx="916.4" cy="216.2" r="6.9"/><circle cx="933" cy="206.5" r="6.9"/><circle cx="927.8" cy="207.4" r="6.9"/><circle cx="931.9" cy="215.7" r="6.9"/><circle cx="933.1" cy="198.8" r="6.9"/><circle cx="923.8" cy="207.1" r="6.9"/><circle cx="918.9" cy="202.9" r="6.9"/><circle cx="944.4" cy="207.1" r="6.9"/><circle cx="924.2" cy="207.8" r="6.9"/><circle cx="920.6" cy="211.1" r="6.9"/><circle cx="922.9" cy="237.8" r="6.9"/><circle cx="920.5" cy="226.7" r="6.9"/><circle cx="926.7" cy="194.5" r="6.9"/><circle cx="912" cy="233.7" r="6.9"/><circle cx="924.8" cy="216.8" r="6.9"/><circle cx="926.3" cy="207.5" r="6.9"/><circle cx="926.3" cy="210.7" r="6.9"/><circle cx="942.9" cy="198.9" r="6.9"/><circle cx="926.1" cy="208" r="6.9"/><circle cx="918.2" cy="212.3" r="6.9"/><circle cx="941.2" cy="224.4" r="6.9"/><circle cx="943.5" cy="202.5" r="6.9"/><circle cx="954.4" cy="202.7" r="6.9"/><circle cx="931" cy="208.3" r="6.9"/><circle cx="919.2" cy="223.7" r="6.9"/><circle cx="916.5" cy="203.2" r="6.9"/><circle cx="935.2" cy="212.9" r="6.9"/><circle cx="929.1" cy="206.2" r="6.9"/><circle cx="941.5" cy="214.8" r="6.9"/><circle cx="929.5" cy="218.1" r="6.9"/><circle cx="938" cy="198.2" r="6.9"/><circle cx="927" cy="204.6" r="6.9"/><circle cx="934.1" cy="203.1" r="6.9"/><circle cx="937.6" cy="195.1" r="6.9"/><circle cx="946.4" cy="193.1" r="6.9"/><circle cx="914.9" cy="213.1" r="6.9"/><circle cx="931.7" cy="199" r="6.9"/><circle cx="957.5" cy="203.3" r="6.9"/><circle cx="926.7" cy="196.4" r="6.9"/><circle cx="925" cy="206.5" r="6.9"/><circle cx="912.5" cy="231.8" r="6.9"/><circle cx="950.7" cy="186.6" r="6.9"/><circle cx="946.6" cy="212.9" r="6.9"/><circle cx="917.1" cy="218.2" r="6.9"/><circle cx="935.6" cy="212.2" r="6.9"/><circle cx="918.5" cy="223.9" r="6.9"/><circle cx="934.5" cy="219.3" r="6.9"/><circle cx="908.7" cy="222.7" r="6.9"/><circle cx="922.3" cy="214" r="6.9"/><circle cx="933.8" cy="200.1" r="6.9"/><circle cx="945.3" cy="210.7" r="6.9"/><circle cx="939.1" cy="200.8" r="6.9"/><circle cx="919" cy="217.6" r="6.9"/><circle cx="937.8" cy="206" r="6.9"/><circle cx="939.7" cy="210" r="6.9"/><circle cx="914.2" cy="213.3" r="6.9"/><circle cx="942.6" cy="194.2" r="6.9"/><circle cx="914.8" cy="212.8" r="6.9"/><circle cx="933.4" cy="194.1" r="6.9"/><circle cx="926.7" cy="227.2" r="6.9"/><circle cx="931.5" cy="210.6" r="6.9"/><circle cx="921.3" cy="216" r="6.9"/><circle cx="924.1" cy="216.1" r="6.9"/><circle cx="930.4" cy="195" r="6.9"/><circle cx="906.7" cy="205.3" r="6.9"/><circle cx="945.8" cy="196.5" r="6.9"/><circle cx="929.2" cy="211.2" r="6.9"/><circle cx="942.8" cy="204.1" r="6.9"/><circle cx="938.1" cy="202.1" r="6.9"/><circle cx="928.1" cy="212.2" r="6.9"/><circle cx="916" cy="237" r="6.9"/><circle cx="906.2" cy="219.5" r="6.9"/><circle cx="937.5" cy="205.4" r="6.9"/><circle cx="949.2" cy="215.8" r="6.9"/><circle cx="939.9" cy="228.2" r="6.9"/><circle cx="919.5" cy="219.3" r="6.9"/><circle cx="939.4" cy="200.4" r="6.9"/><circle cx="926.2" cy="210.1" r="6.9"/><circle cx="950.3" cy="206.8" r="6.9"/><circle cx="932.4" cy="216.1" r="6.9"/><circle cx="926" cy="228.6" r="6.9"/><circle cx="944.8" cy="197.7" r="6.9"/><circle cx="923" cy="211.2" r="6.9"/><circle cx="919.9" cy="204.4" r="6.9"/><circle cx="925.1" cy="236.3" r="6.9"/><circle cx="933" cy="215.6" r="6.9"/><circle cx="936.1" cy="211.9" r="6.9"/><circle cx="907.1" cy="219.3" r="6.9"/><circle cx="942.9" cy="212.5" r="6.9"/><circle cx="913.6" cy="218.3" r="6.9"/><circle cx="922" cy="226.3" r="6.9"/><circle cx="933.7" cy="208.4" r="6.9"/><circle cx="924.7" cy="220.1" r="6.9"/><circle cx="925.5" cy="205.9" r="6.9"/><circle cx="929.3" cy="203.5" r="6.9"/><circle cx="944.1" cy="206.8" r="6.9"/><circle cx="925.8" cy="222.2" r="6.9"/><circle cx="926.1" cy="205.8" r="6.9"/><circle cx="909.4" cy="208.4" r="6.9"/><circle cx="919.5" cy="224.7" r="6.9"/><circle cx="939.1" cy="195.4" r="6.9"/><circle cx="933.6" cy="212.4" r="6.9"/><circle cx="941.1" cy="207.1" r="6.9"/><circle cx="948" cy="205.2" r="6.9"/><circle cx="923.8" cy="221.6" r="6.9"/><circle cx="933.6" cy="215.4" r="6.9"/><circle cx="931.6" cy="220.3" r="6.9"/><circle cx="939.1" cy="192.8" r="6.9"/><circle cx="925.4" cy="218.5" r="6.9"/><circle cx="936" cy="207.8" r="6.9"/><circle cx="931.6" cy="195.1" r="6.9"/><circle cx="945.5" cy="212.3" r="6.9"/><circle cx="944.6" cy="203.9" r="6.9"/><circle cx="929.6" cy="216.6" r="6.9"/><circle cx="919.1" cy="200.9" r="6.9"/><circle cx="922.8" cy="217" r="6.9"/><circle cx="918.3" cy="209.7" r="6.9"/><circle cx="924.9" cy="211" r="6.9"/><circle cx="930.2" cy="210.4" r="6.9"/><circle cx="937.8" cy="216.9" r="6.9"/><circle cx="933.8" cy="213" r="6.9"/><circle cx="929.5" cy="220.1" r="6.9"/><circle cx="922.2" cy="210.3" r="6.9"/><circle cx="921.6" cy="229.7" r="6.9"/><circle cx="925.5" cy="218.2" r="6.9"/><circle cx="945.5" cy="204.5" r="6.9"/><circle cx="953.6" cy="189.1" r="6.9"/><circle cx="944.6" cy="207.2" r="6.9"/><circle cx="922.8" cy="218.1" r="6.9"/><circle cx="917.2" cy="209.6" r="6.9"/><circle cx="928.3" cy="203.1" r="6.9"/>
</g>
<line x1="790.9" y1="353.4" x2="1041.2" y2="138.6" stroke="#131d36" stroke-width="4.1" stroke-dasharray="0.1 8.5" stroke-linecap="round"/>
<g fill="#ff0000">
<circle cx="991.5" cy="180.6" r="6.8"/>
</g>
<g fill="#4472c4">
<circle cx="1042.6" cy="138.2" r="6.8"/>
</g>
<g fill="#10203a">
<circle cx="989" cy="178" r="1.6"/><circle cx="994.5" cy="174" r="1.6"/>
</g>
<line x1="1235" y1="95.5" x2="1235" y2="436.8" stroke="#000" stroke-width="4.2"/>
<line x1="1232.9" y1="97.5" x2="1654.3" y2="97.5" stroke="#000" stroke-width="4"/>
<line x1="1652.4" y1="97.5" x2="1652.4" y2="434.8" stroke="#000" stroke-width="3.8"/>
<line x1="1235" y1="434.8" x2="1654.3" y2="434.8" stroke="#000" stroke-width="3.8"/>
<line x1="1214" y1="97.5" x2="1235" y2="97.5" stroke="#000" stroke-width="2.4"/>
<text transform="translate(1206 108.3) scale(0.8191 1)" font-size="29.6" font-weight="normal" text-anchor="end" fill="#000" stroke="#000" stroke-width="1.2">8</text>
<line x1="1214" y1="178" x2="1235" y2="178" stroke="#000" stroke-width="2.4"/>
<text transform="translate(1206 188.8) scale(0.8191 1)" font-size="29.6" font-weight="normal" text-anchor="end" fill="#000" stroke="#000" stroke-width="1.2">4</text>
<line x1="1214" y1="267.3" x2="1235" y2="267.3" stroke="#000" stroke-width="2.4"/>
<text transform="translate(1206 278.1) scale(0.8191 1)" font-size="29.6" font-weight="normal" text-anchor="end" fill="#000" stroke="#000" stroke-width="1.2">0</text>
<line x1="1214" y1="347.4" x2="1235" y2="347.4" stroke="#000" stroke-width="2.4"/>
<text transform="translate(1206 358.2) scale(0.8191 1)" font-size="29.6" font-weight="normal" text-anchor="end" fill="#000" stroke="#000" stroke-width="1.2">-4</text>
<line x1="1214" y1="435" x2="1235" y2="435" stroke="#000" stroke-width="2.4"/>
<text transform="translate(1206 445.8) scale(0.8191 1)" font-size="29.6" font-weight="normal" text-anchor="end" fill="#000" stroke="#000" stroke-width="1.2">-8</text>
<line x1="1235" y1="434.8" x2="1235" y2="456.3" stroke="#000" stroke-width="2.4"/>
<text transform="translate(1233 478.6) scale(0.8191 1)" font-size="29.6" font-weight="normal" text-anchor="middle" fill="#000" stroke="#000" stroke-width="1.2">-5</text>
<line x1="1277.9" y1="434.8" x2="1277.9" y2="456.3" stroke="#000" stroke-width="2.4"/>
<text transform="translate(1275.9 478.6) scale(0.8191 1)" font-size="29.6" font-weight="normal" text-anchor="middle" fill="#000" stroke="#000" stroke-width="1.2">-4</text>
<line x1="1318.8" y1="434.8" x2="1318.8" y2="456.3" stroke="#000" stroke-width="2.4"/>
<text transform="translate(1316.8 478.6) scale(0.8191 1)" font-size="29.6" font-weight="normal" text-anchor="middle" fill="#000" stroke="#000" stroke-width="1.2">-3</text>
<line x1="1360.5" y1="434.8" x2="1360.5" y2="456.3" stroke="#000" stroke-width="2.4"/>
<text transform="translate(1358.5 478.6) scale(0.8191 1)" font-size="29.6" font-weight="normal" text-anchor="middle" fill="#000" stroke="#000" stroke-width="1.2">-2</text>
<line x1="1402" y1="434.8" x2="1402" y2="456.3" stroke="#000" stroke-width="2.4"/>
<text transform="translate(1400 478.6) scale(0.8191 1)" font-size="29.6" font-weight="normal" text-anchor="middle" fill="#000" stroke="#000" stroke-width="1.2">-1</text>
<line x1="1444.3" y1="434.8" x2="1444.3" y2="456.3" stroke="#000" stroke-width="2.4"/>
<text transform="translate(1443.5 478.6) scale(0.8191 1)" font-size="29.6" font-weight="normal" text-anchor="middle" fill="#000" stroke="#000" stroke-width="1.2">0</text>
<line x1="1486.1" y1="434.8" x2="1486.1" y2="456.3" stroke="#000" stroke-width="2.4"/>
<text transform="translate(1485.3 478.6) scale(0.8191 1)" font-size="29.6" font-weight="normal" text-anchor="middle" fill="#000" stroke="#000" stroke-width="1.2">1</text>
<line x1="1527.5" y1="434.8" x2="1527.5" y2="456.3" stroke="#000" stroke-width="2.4"/>
<text transform="translate(1526.7 478.6) scale(0.8191 1)" font-size="29.6" font-weight="normal" text-anchor="middle" fill="#000" stroke="#000" stroke-width="1.2">2</text>
<line x1="1569.9" y1="434.8" x2="1569.9" y2="456.3" stroke="#000" stroke-width="2.4"/>
<text transform="translate(1569.1 478.6) scale(0.8191 1)" font-size="29.6" font-weight="normal" text-anchor="middle" fill="#000" stroke="#000" stroke-width="1.2">3</text>
<line x1="1612.3" y1="434.8" x2="1612.3" y2="456.3" stroke="#000" stroke-width="2.4"/>
<text transform="translate(1611.5 478.6) scale(0.8191 1)" font-size="29.6" font-weight="normal" text-anchor="middle" fill="#000" stroke="#000" stroke-width="1.2">4</text>
<line x1="1653.1" y1="434.8" x2="1653.1" y2="456.3" stroke="#000" stroke-width="2.4"/>
<text transform="translate(1652.3 478.6) scale(0.8191 1)" font-size="29.6" font-weight="normal" text-anchor="middle" fill="#000" stroke="#000" stroke-width="1.2">5</text>
<text transform="translate(1154 267.2) rotate(-90) scale(0.9637 1)" font-size="34" font-weight="bold" text-anchor="middle" fill="#000">exp-1 8<tspan dy="-11.3" font-size="24">th</tspan><tspan dy="11.3" font-size="34.2">&#8203;</tspan> pan<tspan dx="9">/pre-1</tspan></text>
<text transform="translate(1443.2 525.5) scale(0.9637 1)" font-size="34.8" font-weight="bold" text-anchor="middle" fill="#000">exp-2 well-1/pre-3</text>
<text transform="translate(1250.5 134.4) scale(0.9637 1)" font-size="35.3" font-weight="bold" text-anchor="start" fill="#000">Log2 fold change</text>
<text transform="translate(1250.5 174.5) scale(0.9637 1)" font-size="35.3" font-weight="bold" text-anchor="start" fill="#000">4 h</text>
<text transform="translate(1470 425.2) scale(0.9637 1)" font-size="35.3" font-weight="bold" text-anchor="start" fill="#000">&#961; = &#8211;0.273</text>
<g fill="#000">
<circle cx="1441.1" cy="156.9" r="7"/><circle cx="1477.2" cy="171.8" r="7"/><circle cx="1413.2" cy="176.1" r="7"/><circle cx="1519.9" cy="180.6" r="7"/><circle cx="1459.8" cy="186.8" r="7"/><circle cx="1473.8" cy="188.6" r="7"/><circle cx="1498.1" cy="187.7" r="7"/><circle cx="1494.3" cy="195.2" r="7"/><circle cx="1407.6" cy="189.6" r="7"/><circle cx="1400.1" cy="195.2" r="7"/><circle cx="1375.8" cy="195.2" r="7"/><circle cx="1326.9" cy="206" r="7"/><circle cx="1364.6" cy="210.1" r="7"/><circle cx="1485" cy="205.4" r="7"/><circle cx="1505.5" cy="209.7" r="7"/><circle cx="1526.6" cy="210.1" r="7"/><circle cx="1473.8" cy="212" r="7"/><circle cx="1394.5" cy="221.3" r="7"/><circle cx="1377.7" cy="224.7" r="7"/><circle cx="1509.3" cy="223.2" r="7"/><circle cx="1343.2" cy="231.6" r="7"/><circle cx="1351.6" cy="237.2" r="7"/><circle cx="1360.9" cy="242.8" r="7"/><circle cx="1528.5" cy="237.7" r="7"/><circle cx="1508.3" cy="247.4" r="7"/><circle cx="1526.1" cy="259" r="7"/><circle cx="1564.3" cy="258.6" r="7"/><circle cx="1571.8" cy="260.9" r="7"/><circle cx="1558.7" cy="265.1" r="7"/><circle cx="1544.7" cy="269.4" r="7"/><circle cx="1351.6" cy="267.9" r="7"/><circle cx="1361.8" cy="269.8" r="7"/><circle cx="1335.7" cy="273.5" r="7"/><circle cx="1322.7" cy="280.1" r="7"/><circle cx="1510.2" cy="286.6" r="7"/><circle cx="1512.1" cy="303.4" r="7"/><circle cx="1500.9" cy="308.1" r="7"/><circle cx="1484.1" cy="307.1" r="7"/><circle cx="1457.9" cy="307.1" r="7"/><circle cx="1402" cy="305.3" r="7"/><circle cx="1386.1" cy="314.2" r="7"/><circle cx="1416" cy="313.7" r="7"/><circle cx="1433.7" cy="318.3" r="7"/><circle cx="1441.1" cy="308.1" r="7"/><circle cx="1477.2" cy="318.3" r="7"/><circle cx="1326.9" cy="324.9" r="7"/><circle cx="1426.2" cy="332.3" r="7"/><circle cx="1377.7" cy="337.4" r="7"/><circle cx="1477.5" cy="342" r="7"/><circle cx="1417.8" cy="396.7" r="7"/><circle cx="1405.7" cy="204.5" r="7"/><circle cx="1409.4" cy="213.8" r="7"/><circle cx="1508.3" cy="234.4" r="7"/><circle cx="1504.6" cy="273.5" r="7"/><circle cx="1368.4" cy="282.9" r="7"/><circle cx="1377.7" cy="292.2" r="7"/><circle cx="1420.6" cy="297.8" r="7"/><circle cx="1495.3" cy="295.9" r="7"/><circle cx="1486.3" cy="245.9" r="7"/><circle cx="1424" cy="260.2" r="7"/><circle cx="1424.8" cy="259.5" r="7"/><circle cx="1422.3" cy="234.2" r="7"/><circle cx="1481.9" cy="266.2" r="7"/><circle cx="1443.6" cy="250.6" r="7"/><circle cx="1435.2" cy="263.7" r="7"/><circle cx="1400.4" cy="244.9" r="7"/><circle cx="1414.4" cy="280.2" r="7"/><circle cx="1409.7" cy="278.7" r="7"/><circle cx="1437.1" cy="259.2" r="7"/><circle cx="1477.1" cy="273.6" r="7"/><circle cx="1465.6" cy="240.3" r="7"/><circle cx="1471.1" cy="287.5" r="7"/><circle cx="1436.4" cy="250.3" r="7"/><circle cx="1408.7" cy="276.1" r="7"/><circle cx="1447.5" cy="258.7" r="7"/><circle cx="1404.7" cy="286.4" r="7"/><circle cx="1463.8" cy="258.3" r="7"/><circle cx="1480.6" cy="242.3" r="7"/><circle cx="1464" cy="241.5" r="7"/><circle cx="1478.8" cy="253.9" r="7"/><circle cx="1473.5" cy="251.5" r="7"/><circle cx="1450.4" cy="278.2" r="7"/><circle cx="1414" cy="260.3" r="7"/><circle cx="1415.8" cy="273.2" r="7"/><circle cx="1422.4" cy="252.2" r="7"/><circle cx="1433.6" cy="278.6" r="7"/><circle cx="1410.1" cy="258.2" r="7"/><circle cx="1430.1" cy="249.2" r="7"/><circle cx="1417.2" cy="255.9" r="7"/><circle cx="1444.8" cy="232" r="7"/><circle cx="1445.8" cy="238.3" r="7"/><circle cx="1439.7" cy="297.7" r="7"/><circle cx="1412.2" cy="257.5" r="7"/><circle cx="1432.2" cy="275.5" r="7"/><circle cx="1426" cy="228" r="7"/><circle cx="1394.2" cy="261.7" r="7"/><circle cx="1446.4" cy="276.9" r="7"/><circle cx="1424.3" cy="270" r="7"/><circle cx="1409.5" cy="280.8" r="7"/><circle cx="1437.3" cy="247" r="7"/><circle cx="1444.3" cy="288.5" r="7"/><circle cx="1415.6" cy="237.3" r="7"/><circle cx="1410.9" cy="238.8" r="7"/><circle cx="1437.9" cy="264.6" r="7"/><circle cx="1434.7" cy="262" r="7"/><circle cx="1472.5" cy="253.7" r="7"/><circle cx="1446.1" cy="246.9" r="7"/><circle cx="1432.3" cy="265.6" r="7"/><circle cx="1452.2" cy="231.7" r="7"/><circle cx="1412.5" cy="259.9" r="7"/><circle cx="1435.3" cy="278.3" r="7"/><circle cx="1425.2" cy="223.2" r="7"/><circle cx="1472" cy="230.5" r="7"/><circle cx="1412.1" cy="265.3" r="7"/><circle cx="1446" cy="267.8" r="7"/><circle cx="1427.1" cy="296.7" r="7"/><circle cx="1454.4" cy="246.3" r="7"/><circle cx="1474.4" cy="229.6" r="7"/><circle cx="1422.9" cy="263.6" r="7"/><circle cx="1443.1" cy="242.1" r="7"/><circle cx="1483.5" cy="283.9" r="7"/><circle cx="1413.1" cy="265" r="7"/><circle cx="1421.5" cy="251.2" r="7"/><circle cx="1466.9" cy="260.8" r="7"/><circle cx="1436.2" cy="260.4" r="7"/><circle cx="1406.5" cy="279.6" r="7"/><circle cx="1418.3" cy="281.1" r="7"/><circle cx="1426.5" cy="250.8" r="7"/><circle cx="1480.9" cy="261.9" r="7"/><circle cx="1421.4" cy="249.4" r="7"/><circle cx="1456.2" cy="290.7" r="7"/><circle cx="1456.5" cy="251.9" r="7"/><circle cx="1407.9" cy="247.1" r="7"/><circle cx="1435.9" cy="262.8" r="7"/><circle cx="1420.9" cy="280.6" r="7"/><circle cx="1412.5" cy="246.4" r="7"/><circle cx="1453.2" cy="266.9" r="7"/><circle cx="1428.4" cy="275.1" r="7"/><circle cx="1399.9" cy="286.7" r="7"/><circle cx="1442.6" cy="292.4" r="7"/><circle cx="1440.8" cy="281.4" r="7"/><circle cx="1433.7" cy="261.9" r="7"/><circle cx="1454" cy="228.6" r="7"/><circle cx="1433.5" cy="288.1" r="7"/><circle cx="1465.1" cy="264.2" r="7"/><circle cx="1444.7" cy="282.4" r="7"/><circle cx="1448.7" cy="226.1" r="7"/><circle cx="1412.8" cy="253.5" r="7"/><circle cx="1443.3" cy="250.9" r="7"/><circle cx="1436.3" cy="287.3" r="7"/><circle cx="1465.5" cy="268.9" r="7"/><circle cx="1439.7" cy="259.7" r="7"/><circle cx="1449.5" cy="262.8" r="7"/><circle cx="1419" cy="272" r="7"/><circle cx="1416.2" cy="257.9" r="7"/><circle cx="1429.3" cy="238.9" r="7"/><circle cx="1456.2" cy="257.4" r="7"/><circle cx="1406.7" cy="257.3" r="7"/><circle cx="1400.7" cy="283.2" r="7"/><circle cx="1453.7" cy="292.7" r="7"/><circle cx="1423.4" cy="270.7" r="7"/><circle cx="1412.2" cy="244" r="7"/><circle cx="1436.8" cy="265.7" r="7"/><circle cx="1465.1" cy="254" r="7"/><circle cx="1470.1" cy="275.1" r="7"/><circle cx="1414.8" cy="255.6" r="7"/><circle cx="1413.7" cy="287.8" r="7"/><circle cx="1423.9" cy="273.8" r="7"/><circle cx="1464.8" cy="254.3" r="7"/><circle cx="1425.7" cy="264.5" r="7"/><circle cx="1417.7" cy="237" r="7"/><circle cx="1412.3" cy="264.4" r="7"/><circle cx="1444.6" cy="288.8" r="7"/><circle cx="1388.3" cy="267.2" r="7"/><circle cx="1407.1" cy="278.4" r="7"/><circle cx="1458.7" cy="260.8" r="7"/><circle cx="1480.4" cy="252.2" r="7"/><circle cx="1424.5" cy="240.6" r="7"/><circle cx="1421" cy="260.6" r="7"/><circle cx="1458" cy="280.5" r="7"/><circle cx="1431.8" cy="246.1" r="7"/><circle cx="1430" cy="251.3" r="7"/><circle cx="1426.3" cy="251.7" r="7"/><circle cx="1415" cy="257.7" r="7"/><circle cx="1425" cy="255.7" r="7"/><circle cx="1400.7" cy="261.1" r="7"/><circle cx="1455.2" cy="269.7" r="7"/><circle cx="1424" cy="239.2" r="7"/><circle cx="1403.1" cy="238.6" r="7"/><circle cx="1421.4" cy="253.3" r="7"/><circle cx="1390" cy="270" r="7"/><circle cx="1396.5" cy="246.9" r="7"/><circle cx="1419.2" cy="272.7" r="7"/><circle cx="1490.4" cy="252.6" r="7"/><circle cx="1431.7" cy="251.9" r="7"/><circle cx="1433.7" cy="255.7" r="7"/><circle cx="1436.3" cy="245.2" r="7"/><circle cx="1449.2" cy="249.8" r="7"/><circle cx="1455.2" cy="240.2" r="7"/><circle cx="1497.8" cy="262.2" r="7"/><circle cx="1390.3" cy="270.5" r="7"/><circle cx="1426.3" cy="239" r="7"/><circle cx="1451.5" cy="249.8" r="7"/><circle cx="1459.7" cy="249.3" r="7"/><circle cx="1464.3" cy="261.1" r="7"/><circle cx="1449.2" cy="261.3" r="7"/><circle cx="1429.2" cy="252.5" r="7"/><circle cx="1451.8" cy="270.7" r="7"/><circle cx="1428" cy="296.6" r="7"/><circle cx="1486.1" cy="239.2" r="7"/><circle cx="1469.4" cy="257.4" r="7"/><circle cx="1445.7" cy="245.2" r="7"/><circle cx="1485" cy="244.7" r="7"/><circle cx="1437" cy="246.3" r="7"/><circle cx="1492.8" cy="279.9" r="7"/><circle cx="1402.8" cy="251" r="7"/><circle cx="1449.4" cy="251.3" r="7"/><circle cx="1429.5" cy="240.4" r="7"/><circle cx="1446.2" cy="240.2" r="7"/><circle cx="1430.3" cy="286.4" r="7"/><circle cx="1449.6" cy="247.3" r="7"/><circle cx="1429.8" cy="242.4" r="7"/><circle cx="1442.5" cy="270.5" r="7"/><circle cx="1465" cy="253.9" r="7"/><circle cx="1406.3" cy="257.4" r="7"/><circle cx="1485.5" cy="263.4" r="7"/><circle cx="1437.5" cy="223.6" r="7"/><circle cx="1427.3" cy="267.8" r="7"/><circle cx="1413.2" cy="281.4" r="7"/><circle cx="1423.7" cy="243.9" r="7"/><circle cx="1423.3" cy="257.1" r="7"/><circle cx="1466.9" cy="249.1" r="7"/><circle cx="1390.1" cy="257.3" r="7"/><circle cx="1453.7" cy="284.6" r="7"/><circle cx="1408.3" cy="283.6" r="7"/><circle cx="1457.9" cy="266.3" r="7"/><circle cx="1418.1" cy="243.8" r="7"/><circle cx="1413" cy="274.4" r="7"/><circle cx="1445.3" cy="276.6" r="7"/><circle cx="1489.4" cy="259" r="7"/><circle cx="1438" cy="291" r="7"/><circle cx="1403.3" cy="251.1" r="7"/><circle cx="1429.1" cy="252.3" r="7"/><circle cx="1443.2" cy="244.6" r="7"/><circle cx="1471.3" cy="235.7" r="7"/><circle cx="1416.8" cy="230.2" r="7"/><circle cx="1400.7" cy="268.6" r="7"/><circle cx="1456.6" cy="255.4" r="7"/><circle cx="1462.5" cy="269.1" r="7"/><circle cx="1423.4" cy="258" r="7"/><circle cx="1449.4" cy="292.5" r="7"/><circle cx="1427.2" cy="264.9" r="7"/><circle cx="1454.3" cy="279.2" r="7"/><circle cx="1451" cy="276.7" r="7"/><circle cx="1410" cy="254.3" r="7"/><circle cx="1386" cy="257.9" r="7"/><circle cx="1503.5" cy="262.8" r="7"/><circle cx="1441.7" cy="263.2" r="7"/><circle cx="1443.3" cy="236.4" r="7"/><circle cx="1420.2" cy="255.8" r="7"/><circle cx="1443.9" cy="244.2" r="7"/><circle cx="1436.4" cy="246.4" r="7"/><circle cx="1403" cy="247.6" r="7"/><circle cx="1417.1" cy="272.8" r="7"/><circle cx="1476.1" cy="268.4" r="7"/><circle cx="1433.5" cy="249.4" r="7"/><circle cx="1396.1" cy="249.9" r="7"/><circle cx="1482.3" cy="278.1" r="7"/><circle cx="1445.5" cy="254.6" r="7"/><circle cx="1439.4" cy="265.8" r="7"/><circle cx="1439.1" cy="265.9" r="7"/><circle cx="1418.1" cy="259.5" r="7"/><circle cx="1429.6" cy="276.8" r="7"/><circle cx="1405.2" cy="280.5" r="7"/><circle cx="1436.9" cy="250.3" r="7"/><circle cx="1439.9" cy="260.8" r="7"/><circle cx="1432.9" cy="265.8" r="7"/><circle cx="1423.4" cy="230.4" r="7"/><circle cx="1458.4" cy="258.3" r="7"/><circle cx="1485.1" cy="265.2" r="7"/><circle cx="1384.2" cy="279.5" r="7"/><circle cx="1420.4" cy="267.9" r="7"/><circle cx="1500.3" cy="277" r="7"/><circle cx="1409.2" cy="257.2" r="7"/><circle cx="1395.1" cy="269.9" r="7"/><circle cx="1454.8" cy="241.6" r="7"/><circle cx="1451.7" cy="274.4" r="7"/><circle cx="1461.5" cy="247.5" r="7"/><circle cx="1420.2" cy="240" r="7"/><circle cx="1403.7" cy="264" r="7"/><circle cx="1440.4" cy="280.5" r="7"/><circle cx="1446.8" cy="253.4" r="7"/><circle cx="1400.1" cy="284.6" r="7"/><circle cx="1443.8" cy="258.2" r="7"/><circle cx="1411.7" cy="241.2" r="7"/><circle cx="1456.7" cy="242.5" r="7"/><circle cx="1455.4" cy="269.2" r="7"/><circle cx="1428.8" cy="231.7" r="7"/><circle cx="1450.6" cy="282.2" r="7"/><circle cx="1416.6" cy="237.7" r="7"/><circle cx="1469.2" cy="261.2" r="7"/><circle cx="1422.1" cy="279.2" r="7"/><circle cx="1431.7" cy="266.3" r="7"/><circle cx="1428.2" cy="246.2" r="7"/><circle cx="1445.3" cy="244.4" r="7"/><circle cx="1390.5" cy="249.8" r="7"/><circle cx="1473.2" cy="277.1" r="7"/><circle cx="1499" cy="275.3" r="7"/><circle cx="1483.6" cy="262.9" r="7"/><circle cx="1427.3" cy="266.5" r="7"/><circle cx="1413.2" cy="271" r="7"/><circle cx="1427" cy="263.1" r="7"/><circle cx="1415.9" cy="256.5" r="7"/><circle cx="1466.2" cy="255.2" r="7"/><circle cx="1420.8" cy="263.5" r="7"/><circle cx="1463.5" cy="255.7" r="7"/><circle cx="1407.2" cy="232.8" r="7"/><circle cx="1402.5" cy="276.5" r="7"/><circle cx="1436.9" cy="266.7" r="7"/><circle cx="1468.8" cy="263.5" r="7"/><circle cx="1452.5" cy="250.4" r="7"/><circle cx="1395.1" cy="269.3" r="7"/><circle cx="1436.6" cy="268.4" r="7"/><circle cx="1410" cy="256.4" r="7"/><circle cx="1494.6" cy="244.8" r="7"/><circle cx="1442" cy="280.6" r="7"/><circle cx="1432.9" cy="260.9" r="7"/><circle cx="1380.8" cy="271.7" r="7"/><circle cx="1427.2" cy="280.2" r="7"/><circle cx="1436.8" cy="252.6" r="7"/><circle cx="1451.2" cy="254.8" r="7"/><circle cx="1425.2" cy="284.4" r="7"/><circle cx="1466.2" cy="260.6" r="7"/><circle cx="1461.5" cy="272.5" r="7"/><circle cx="1455.2" cy="259.6" r="7"/><circle cx="1441.3" cy="265.6" r="7"/><circle cx="1454.8" cy="264.7" r="7"/><circle cx="1424.2" cy="257.6" r="7"/><circle cx="1451.8" cy="242.5" r="7"/><circle cx="1439" cy="271.4" r="7"/><circle cx="1443.9" cy="254.1" r="7"/><circle cx="1438.7" cy="250.8" r="7"/><circle cx="1466.2" cy="252.6" r="7"/><circle cx="1393.6" cy="238.9" r="7"/><circle cx="1447.5" cy="262.3" r="7"/><circle cx="1426.3" cy="237.2" r="7"/><circle cx="1435.2" cy="245" r="7"/><circle cx="1421.3" cy="258.8" r="7"/><circle cx="1418.3" cy="264" r="7"/><circle cx="1419" cy="251.2" r="7"/><circle cx="1433" cy="282.9" r="7"/><circle cx="1482.5" cy="274.4" r="7"/><circle cx="1419.1" cy="258.9" r="7"/><circle cx="1464.3" cy="272.1" r="7"/><circle cx="1394.7" cy="257.9" r="7"/><circle cx="1419" cy="271.2" r="7"/><circle cx="1456.8" cy="250" r="7"/><circle cx="1498" cy="254.3" r="7"/><circle cx="1506.2" cy="256.1" r="7"/><circle cx="1437" cy="290.1" r="7"/><circle cx="1424.9" cy="251.1" r="7"/><circle cx="1479.7" cy="258.2" r="7"/><circle cx="1452.4" cy="238.2" r="7"/><circle cx="1488.3" cy="275" r="7"/><circle cx="1449.1" cy="270.5" r="7"/><circle cx="1425.6" cy="251.1" r="7"/><circle cx="1396.2" cy="264.9" r="7"/><circle cx="1473.2" cy="272.9" r="7"/><circle cx="1464.5" cy="270.5" r="7"/><circle cx="1414.1" cy="237.5" r="7"/><circle cx="1456.8" cy="261.6" r="7"/><circle cx="1466.3" cy="254.4" r="7"/><circle cx="1415.1" cy="266.2" r="7"/><circle cx="1424" cy="232" r="7"/><circle cx="1422.6" cy="244.5" r="7"/><circle cx="1408.8" cy="249.9" r="7"/><circle cx="1465.3" cy="297.4" r="7"/><circle cx="1486.6" cy="252.1" r="7"/><circle cx="1470.6" cy="257.7" r="7"/><circle cx="1450.3" cy="247.8" r="7"/><circle cx="1437.3" cy="231.4" r="7"/><circle cx="1488.4" cy="246.4" r="7"/><circle cx="1455.3" cy="249.3" r="7"/><circle cx="1446.7" cy="239.7" r="7"/><circle cx="1429" cy="273.8" r="7"/><circle cx="1455.6" cy="227.1" r="7"/><circle cx="1462.6" cy="237.5" r="7"/><circle cx="1447.1" cy="267.4" r="7"/><circle cx="1421.7" cy="253.7" r="7"/><circle cx="1432.5" cy="265.4" r="7"/><circle cx="1464.3" cy="281.2" r="7"/><circle cx="1448.2" cy="291.5" r="7"/><circle cx="1413.3" cy="287.9" r="7"/><circle cx="1432.1" cy="271.4" r="7"/><circle cx="1435.8" cy="260.3" r="7"/><circle cx="1414.1" cy="265.2" r="7"/><circle cx="1494.8" cy="261.3" r="7"/><circle cx="1438.7" cy="259" r="7"/><circle cx="1458.8" cy="255.6" r="7"/><circle cx="1439.2" cy="262.4" r="7"/><circle cx="1475" cy="274.4" r="7"/><circle cx="1410.4" cy="248.6" r="7"/><circle cx="1439.8" cy="272.7" r="7"/><circle cx="1465.8" cy="255.5" r="7"/><circle cx="1497.6" cy="256.2" r="7"/><circle cx="1477.8" cy="282.1" r="7"/><circle cx="1483" cy="262.2" r="7"/><circle cx="1455.1" cy="234" r="7"/><circle cx="1390.5" cy="248.9" r="7"/><circle cx="1459" cy="276.3" r="7"/><circle cx="1436.5" cy="275.9" r="7"/><circle cx="1455.1" cy="283.7" r="7"/><circle cx="1395.7" cy="245.4" r="7"/><circle cx="1413.1" cy="241.9" r="7"/><circle cx="1484.5" cy="243.8" r="7"/><circle cx="1416.6" cy="252.4" r="7"/><circle cx="1463.5" cy="251.4" r="7"/><circle cx="1459.5" cy="267.9" r="7"/><circle cx="1421.7" cy="220.4" r="7"/><circle cx="1414.1" cy="238.6" r="7"/><circle cx="1484.1" cy="247.2" r="7"/><circle cx="1409.9" cy="265" r="7"/><circle cx="1440.8" cy="243.6" r="7"/><circle cx="1469.3" cy="273.8" r="7"/><circle cx="1446.9" cy="246.5" r="7"/><circle cx="1415.4" cy="225.5" r="7"/><circle cx="1449.8" cy="265.3" r="7"/><circle cx="1414.1" cy="259.3" r="7"/><circle cx="1392.5" cy="268.8" r="7"/><circle cx="1427.6" cy="250.8" r="7"/><circle cx="1456.3" cy="256.7" r="7"/><circle cx="1466.6" cy="267.3" r="7"/><circle cx="1471.1" cy="260.8" r="7"/><circle cx="1380.1" cy="281" r="7"/><circle cx="1392.6" cy="275.9" r="7"/><circle cx="1446.2" cy="236.2" r="7"/><circle cx="1441.1" cy="273.2" r="7"/><circle cx="1411.3" cy="259.5" r="7"/><circle cx="1419" cy="242.5" r="7"/><circle cx="1422.3" cy="279.6" r="7"/><circle cx="1458.1" cy="258.4" r="7"/><circle cx="1437" cy="260.9" r="7"/><circle cx="1447.1" cy="261.8" r="7"/><circle cx="1392.1" cy="273.8" r="7"/><circle cx="1458.6" cy="239.1" r="7"/><circle cx="1435.4" cy="257.3" r="7"/><circle cx="1423.1" cy="267.5" r="7"/><circle cx="1431.8" cy="254.3" r="7"/><circle cx="1413.1" cy="254.2" r="7"/><circle cx="1410.8" cy="259.5" r="7"/><circle cx="1475.6" cy="275.3" r="7"/><circle cx="1451" cy="236.6" r="7"/><circle cx="1467.5" cy="274" r="7"/><circle cx="1439.7" cy="253.4" r="7"/><circle cx="1469.2" cy="241.1" r="7"/><circle cx="1428.8" cy="296.7" r="7"/><circle cx="1466.6" cy="226.2" r="7"/><circle cx="1439.9" cy="281.1" r="7"/><circle cx="1422.3" cy="268.5" r="7"/><circle cx="1442" cy="234.9" r="7"/><circle cx="1422.1" cy="277.3" r="7"/><circle cx="1471.9" cy="248.9" r="7"/><circle cx="1470.2" cy="247.1" r="7"/><circle cx="1446.1" cy="258.4" r="7"/><circle cx="1404.9" cy="264" r="7"/><circle cx="1416.5" cy="244.9" r="7"/><circle cx="1416.3" cy="242.8" r="7"/><circle cx="1420.3" cy="218.7" r="7"/><circle cx="1463.8" cy="259.9" r="7"/><circle cx="1446.3" cy="254.4" r="7"/><circle cx="1441" cy="254.4" r="7"/><circle cx="1409.3" cy="233.9" r="7"/><circle cx="1441.3" cy="275.4" r="7"/><circle cx="1445.7" cy="285.1" r="7"/><circle cx="1401.7" cy="254.4" r="7"/><circle cx="1422.3" cy="278.9" r="7"/><circle cx="1486" cy="250.2" r="7"/><circle cx="1459.4" cy="254.7" r="7"/><circle cx="1411.8" cy="256.9" r="7"/><circle cx="1410.6" cy="284.1" r="7"/><circle cx="1455.5" cy="278.2" r="7"/><circle cx="1449.2" cy="218.9" r="7"/><circle cx="1461.4" cy="260.2" r="7"/><circle cx="1373.6" cy="260.4" r="7"/><circle cx="1467.1" cy="286.7" r="7"/><circle cx="1411.1" cy="271.6" r="7"/><circle cx="1448.5" cy="255.9" r="7"/><circle cx="1431.5" cy="267.4" r="7"/><circle cx="1455.2" cy="269.5" r="7"/><circle cx="1428" cy="237.1" r="7"/><circle cx="1475.6" cy="280" r="7"/><circle cx="1423.7" cy="258.2" r="7"/><circle cx="1461.5" cy="229.8" r="7"/><circle cx="1453" cy="298.4" r="7"/><circle cx="1446.8" cy="247.1" r="7"/><circle cx="1495.5" cy="258.8" r="7"/><circle cx="1445.1" cy="251.7" r="7"/><circle cx="1444.3" cy="229.2" r="7"/><circle cx="1404" cy="234.4" r="7"/><circle cx="1464.1" cy="257.2" r="7"/><circle cx="1471" cy="225.2" r="7"/><circle cx="1422.8" cy="282.6" r="7"/><circle cx="1417.5" cy="228" r="7"/><circle cx="1418.8" cy="253" r="7"/><circle cx="1438.9" cy="280.1" r="7"/><circle cx="1475.9" cy="284.2" r="7"/><circle cx="1455.3" cy="250.4" r="7"/><circle cx="1425.7" cy="234.3" r="7"/><circle cx="1474.3" cy="279.3" r="7"/><circle cx="1441.7" cy="244" r="7"/><circle cx="1457.9" cy="266.7" r="7"/><circle cx="1443.5" cy="239.5" r="7"/><circle cx="1445.9" cy="249.3" r="7"/><circle cx="1459.6" cy="268.5" r="7"/><circle cx="1451.4" cy="251.6" r="7"/><circle cx="1481.2" cy="271.4" r="7"/><circle cx="1474.2" cy="272.4" r="7"/><circle cx="1457.5" cy="265.1" r="7"/><circle cx="1409.9" cy="228.7" r="7"/><circle cx="1413.5" cy="268.7" r="7"/><circle cx="1464.3" cy="261.7" r="7"/><circle cx="1441.7" cy="288.8" r="7"/><circle cx="1428.4" cy="229.3" r="7"/><circle cx="1396.7" cy="253.3" r="7"/><circle cx="1458.5" cy="270.7" r="7"/><circle cx="1433.2" cy="272.1" r="7"/><circle cx="1438" cy="246.7" r="7"/><circle cx="1428.9" cy="271.1" r="7"/><circle cx="1465.5" cy="240.1" r="7"/><circle cx="1412.1" cy="260.6" r="7"/><circle cx="1497.7" cy="239.4" r="7"/><circle cx="1404.9" cy="265.5" r="7"/><circle cx="1453.3" cy="248.6" r="7"/><circle cx="1438.6" cy="266.6" r="7"/><circle cx="1391.4" cy="258.2" r="7"/><circle cx="1455.8" cy="273.8" r="7"/><circle cx="1471.3" cy="257.5" r="7"/><circle cx="1399.7" cy="280.7" r="7"/><circle cx="1460.5" cy="248.2" r="7"/><circle cx="1467.7" cy="275.7" r="7"/><circle cx="1435.5" cy="219.8" r="7"/><circle cx="1426.4" cy="246.2" r="7"/><circle cx="1416.3" cy="257.3" r="7"/><circle cx="1409.6" cy="265" r="7"/><circle cx="1491.1" cy="239.1" r="7"/><circle cx="1467.8" cy="249.9" r="7"/><circle cx="1454.2" cy="256.5" r="7"/><circle cx="1474.5" cy="246.9" r="7"/><circle cx="1459.4" cy="245.9" r="7"/><circle cx="1445.6" cy="258.4" r="7"/><circle cx="1469.2" cy="232.7" r="7"/><circle cx="1402.3" cy="281.5" r="7"/><circle cx="1449.9" cy="286.6" r="7"/><circle cx="1411" cy="262.1" r="7"/><circle cx="1455.8" cy="287.7" r="7"/><circle cx="1437.8" cy="251.3" r="7"/><circle cx="1458.9" cy="256.9" r="7"/><circle cx="1418.8" cy="271.2" r="7"/><circle cx="1387.1" cy="241.9" r="7"/><circle cx="1476.6" cy="250.4" r="7"/><circle cx="1430.4" cy="264.7" r="7"/><circle cx="1470" cy="267.3" r="7"/><circle cx="1412.9" cy="249.3" r="7"/><circle cx="1468" cy="256.7" r="7"/><circle cx="1422" cy="273" r="7"/><circle cx="1470.5" cy="294.4" r="7"/><circle cx="1409.8" cy="247" r="7"/><circle cx="1420.3" cy="264.5" r="7"/><circle cx="1426.2" cy="277" r="7"/><circle cx="1421.7" cy="254.1" r="7"/><circle cx="1454.8" cy="262" r="7"/><circle cx="1411.6" cy="283.3" r="7"/><circle cx="1455.1" cy="250.5" r="7"/><circle cx="1445" cy="240.4" r="7"/><circle cx="1405.7" cy="253.7" r="7"/><circle cx="1449.3" cy="260.3" r="7"/><circle cx="1418.1" cy="235.8" r="7"/><circle cx="1393.4" cy="284.9" r="7"/><circle cx="1449.4" cy="245.4" r="7"/><circle cx="1471.7" cy="267.5" r="7"/><circle cx="1428" cy="248.5" r="7"/><circle cx="1470.4" cy="264" r="7"/><circle cx="1484" cy="264.6" r="7"/><circle cx="1423.3" cy="248.8" r="7"/><circle cx="1420.1" cy="262.8" r="7"/><circle cx="1446.2" cy="268.6" r="7"/><circle cx="1451.6" cy="241.3" r="7"/><circle cx="1433.7" cy="243.1" r="7"/><circle cx="1452.5" cy="237" r="7"/><circle cx="1423.4" cy="244.5" r="7"/><circle cx="1422.4" cy="254.4" r="7"/><circle cx="1480.5" cy="254.4" r="7"/><circle cx="1400.2" cy="253.6" r="7"/><circle cx="1459.7" cy="267.7" r="7"/><circle cx="1445.8" cy="291.4" r="7"/><circle cx="1469.5" cy="260.1" r="7"/><circle cx="1472.4" cy="236.6" r="7"/><circle cx="1434.7" cy="244.3" r="7"/><circle cx="1444.1" cy="285.2" r="7"/><circle cx="1425.8" cy="284.8" r="7"/><circle cx="1411.5" cy="282.1" r="7"/><circle cx="1393.1" cy="244.6" r="7"/><circle cx="1466.5" cy="257.1" r="7"/><circle cx="1443.2" cy="258.4" r="7"/><circle cx="1444.2" cy="255.7" r="7"/><circle cx="1412.6" cy="253.8" r="7"/><circle cx="1442.3" cy="243.8" r="7"/><circle cx="1452" cy="287.6" r="7"/><circle cx="1394.6" cy="249.6" r="7"/><circle cx="1431.7" cy="258.9" r="7"/><circle cx="1441.9" cy="246.7" r="7"/><circle cx="1438.4" cy="258.7" r="7"/><circle cx="1436.9" cy="284" r="7"/><circle cx="1442.8" cy="234.3" r="7"/><circle cx="1396.7" cy="268.4" r="7"/><circle cx="1430" cy="248.4" r="7"/><circle cx="1402.4" cy="253.5" r="7"/><circle cx="1436.8" cy="247.3" r="7"/><circle cx="1429.7" cy="273.2" r="7"/><circle cx="1460.6" cy="267.6" r="7"/><circle cx="1434.6" cy="236.3" r="7"/><circle cx="1460.4" cy="283.3" r="7"/><circle cx="1474" cy="277.8" r="7"/><circle cx="1446.8" cy="264.8" r="7"/><circle cx="1438.9" cy="279.3" r="7"/><circle cx="1432" cy="294" r="7"/><circle cx="1460.4" cy="253.3" r="7"/><circle cx="1439.3" cy="232.1" r="7"/><circle cx="1419.4" cy="253.7" r="7"/><circle cx="1464.3" cy="259.9" r="7"/><circle cx="1431.2" cy="268.9" r="7"/><circle cx="1385.1" cy="274.2" r="7"/><circle cx="1491.9" cy="263.5" r="7"/><circle cx="1437.6" cy="261.3" r="7"/><circle cx="1457.3" cy="250.5" r="7"/><circle cx="1442.6" cy="266.9" r="7"/><circle cx="1429.8" cy="265" r="7"/><circle cx="1448.4" cy="270.4" r="7"/><circle cx="1412.5" cy="249.8" r="7"/><circle cx="1427.7" cy="278.3" r="7"/><circle cx="1446.1" cy="231.4" r="7"/><circle cx="1404.6" cy="290.6" r="7"/><circle cx="1448.5" cy="237.3" r="7"/><circle cx="1414.5" cy="261" r="7"/><circle cx="1478.1" cy="285.3" r="7"/><circle cx="1429.4" cy="253.7" r="7"/><circle cx="1491.5" cy="242.4" r="7"/><circle cx="1481.8" cy="264.2" r="7"/><circle cx="1441.8" cy="279.8" r="7"/><circle cx="1452.4" cy="244.8" r="7"/><circle cx="1397.9" cy="258.9" r="7"/><circle cx="1453.2" cy="281.1" r="7"/><circle cx="1456.1" cy="283.6" r="7"/><circle cx="1460.9" cy="262.1" r="7"/><circle cx="1451" cy="265.2" r="7"/><circle cx="1422.2" cy="256.7" r="7"/><circle cx="1442.8" cy="251.2" r="7"/><circle cx="1399.5" cy="234.8" r="7"/><circle cx="1453" cy="267.2" r="7"/><circle cx="1442.2" cy="239.3" r="7"/><circle cx="1462.4" cy="252.2" r="7"/><circle cx="1453.8" cy="251.4" r="7"/><circle cx="1375.4" cy="247" r="7"/><circle cx="1479.6" cy="281" r="7"/><circle cx="1446.3" cy="230.4" r="7"/><circle cx="1428.9" cy="253.9" r="7"/><circle cx="1451.8" cy="256.5" r="7"/><circle cx="1448.7" cy="231.7" r="7"/><circle cx="1421.8" cy="282.4" r="7"/><circle cx="1399.8" cy="273.9" r="7"/><circle cx="1502" cy="269.4" r="7"/><circle cx="1401.5" cy="279.2" r="7"/><circle cx="1388.9" cy="264.2" r="7"/><circle cx="1428.2" cy="279.1" r="7"/><circle cx="1471.3" cy="261.8" r="7"/><circle cx="1488" cy="274.8" r="7"/><circle cx="1426.3" cy="242.4" r="7"/><circle cx="1506.2" cy="251.9" r="7"/><circle cx="1450.5" cy="256.7" r="7"/><circle cx="1426.4" cy="232.1" r="7"/><circle cx="1435.4" cy="256.7" r="7"/><circle cx="1466" cy="250.1" r="7"/><circle cx="1396.8" cy="240.9" r="7"/><circle cx="1438.2" cy="262.7" r="7"/><circle cx="1459" cy="252.3" r="7"/><circle cx="1454" cy="261" r="7"/><circle cx="1485.2" cy="257.7" r="7"/><circle cx="1443.2" cy="268" r="7"/><circle cx="1472.4" cy="243.4" r="7"/><circle cx="1426.4" cy="254.1" r="7"/><circle cx="1381.3" cy="280.1" r="7"/><circle cx="1468.5" cy="259" r="7"/><circle cx="1494.3" cy="284.6" r="7"/><circle cx="1463.9" cy="235.2" r="7"/><circle cx="1480.9" cy="265.6" r="7"/><circle cx="1406.8" cy="259.5" r="7"/><circle cx="1459.8" cy="274.9" r="7"/><circle cx="1444.1" cy="250" r="7"/><circle cx="1460.1" cy="246" r="7"/><circle cx="1437.2" cy="271.2" r="7"/><circle cx="1400.1" cy="264.8" r="7"/><circle cx="1386" cy="243.3" r="7"/><circle cx="1405.8" cy="257.1" r="7"/><circle cx="1458.7" cy="257.8" r="7"/><circle cx="1464.1" cy="260.2" r="7"/><circle cx="1433.7" cy="266.8" r="7"/><circle cx="1432.8" cy="260.9" r="7"/><circle cx="1467.6" cy="249.2" r="7"/><circle cx="1470.6" cy="240.3" r="7"/><circle cx="1433.3" cy="229.9" r="7"/><circle cx="1424.9" cy="284.9" r="7"/><circle cx="1449" cy="279.6" r="7"/><circle cx="1399.3" cy="241.9" r="7"/><circle cx="1452" cy="272.3" r="7"/><circle cx="1462" cy="230.9" r="7"/><circle cx="1453.2" cy="257.4" r="7"/><circle cx="1442.6" cy="266.5" r="7"/><circle cx="1431.7" cy="230.6" r="7"/><circle cx="1410.2" cy="234.7" r="7"/><circle cx="1403.5" cy="256.4" r="7"/><circle cx="1474.9" cy="246.8" r="7"/><circle cx="1418.5" cy="239.6" r="7"/><circle cx="1392.2" cy="259.7" r="7"/><circle cx="1426.1" cy="254.6" r="7"/><circle cx="1413.1" cy="266.7" r="7"/><circle cx="1406.6" cy="267.7" r="7"/><circle cx="1421.3" cy="271.7" r="7"/><circle cx="1415.1" cy="266" r="7"/><circle cx="1451.3" cy="257.3" r="7"/><circle cx="1483.8" cy="261.5" r="7"/><circle cx="1415.1" cy="270.1" r="7"/><circle cx="1416.8" cy="249.7" r="7"/><circle cx="1439.6" cy="261.6" r="7"/><circle cx="1485.7" cy="229.7" r="7"/><circle cx="1432.3" cy="277.3" r="7"/><circle cx="1434.9" cy="263.9" r="7"/><circle cx="1480.9" cy="238.2" r="7"/><circle cx="1440.5" cy="271.8" r="7"/><circle cx="1423.3" cy="229.6" r="7"/><circle cx="1412.1" cy="261.8" r="7"/><circle cx="1444.5" cy="289.2" r="7"/><circle cx="1475.5" cy="233" r="7"/><circle cx="1467.6" cy="273.8" r="7"/><circle cx="1483.5" cy="256.1" r="7"/><circle cx="1424.1" cy="261" r="7"/><circle cx="1481.5" cy="268.9" r="7"/><circle cx="1485.6" cy="271.7" r="7"/><circle cx="1423.3" cy="241.8" r="7"/><circle cx="1489.8" cy="233.5" r="7"/><circle cx="1429.7" cy="253.4" r="7"/><circle cx="1414.4" cy="249.1" r="7"/><circle cx="1439.5" cy="298.1" r="7"/><circle cx="1437.5" cy="249.9" r="7"/><circle cx="1442.7" cy="274.2" r="7"/><circle cx="1417" cy="251.9" r="7"/><circle cx="1391.6" cy="270.3" r="7"/><circle cx="1457.8" cy="283.5" r="7"/><circle cx="1406.6" cy="294.7" r="7"/><circle cx="1463.1" cy="254.1" r="7"/><circle cx="1428.6" cy="253.5" r="7"/><circle cx="1406.2" cy="271.4" r="7"/><circle cx="1422.7" cy="246.6" r="7"/><circle cx="1453.4" cy="260.5" r="7"/><circle cx="1423.4" cy="254.7" r="7"/><circle cx="1425.9" cy="281" r="7"/><circle cx="1466.6" cy="246.5" r="7"/><circle cx="1438.2" cy="281.4" r="7"/><circle cx="1431.4" cy="288.2" r="7"/><circle cx="1451.4" cy="269.7" r="7"/><circle cx="1382.6" cy="272.7" r="7"/><circle cx="1448.6" cy="268.3" r="7"/><circle cx="1452.4" cy="267.4" r="7"/><circle cx="1425.4" cy="273.6" r="7"/><circle cx="1441" cy="241.2" r="7"/><circle cx="1411.5" cy="261.3" r="7"/><circle cx="1448.4" cy="221.9" r="7"/><circle cx="1383" cy="276.1" r="7"/><circle cx="1397.5" cy="254.5" r="7"/><circle cx="1422.9" cy="267.9" r="7"/><circle cx="1477.8" cy="285.4" r="7"/><circle cx="1411.7" cy="279.1" r="7"/><circle cx="1406.1" cy="263.7" r="7"/><circle cx="1444" cy="268.9" r="7"/><circle cx="1417.4" cy="280.9" r="7"/><circle cx="1437.4" cy="258.3" r="7"/><circle cx="1432" cy="240.9" r="7"/><circle cx="1459" cy="264.2" r="7"/><circle cx="1451.7" cy="289.6" r="7"/><circle cx="1415.6" cy="253.9" r="7"/><circle cx="1439.5" cy="272.9" r="7"/><circle cx="1434.4" cy="274.2" r="7"/><circle cx="1451.8" cy="229.3" r="7"/><circle cx="1420.6" cy="224.8" r="7"/><circle cx="1431.5" cy="251.7" r="7"/><circle cx="1455.4" cy="261.5" r="7"/><circle cx="1437.5" cy="279.6" r="7"/><circle cx="1455.5" cy="238.1" r="7"/><circle cx="1420.4" cy="264.1" r="7"/><circle cx="1485.8" cy="255.3" r="7"/><circle cx="1434.6" cy="263" r="7"/><circle cx="1460.7" cy="257.1" r="7"/><circle cx="1447.3" cy="251.6" r="7"/><circle cx="1424.2" cy="245.4" r="7"/><circle cx="1457.3" cy="249.3" r="7"/><circle cx="1454.3" cy="265.4" r="7"/><circle cx="1412.9" cy="238.3" r="7"/><circle cx="1434.8" cy="272" r="7"/><circle cx="1476.4" cy="265" r="7"/><circle cx="1428.7" cy="267.5" r="7"/><circle cx="1379.8" cy="274.1" r="7"/><circle cx="1439.5" cy="268.9" r="7"/><circle cx="1411.1" cy="240.4" r="7"/><circle cx="1421.7" cy="257.9" r="7"/><circle cx="1448.8" cy="252.7" r="7"/><circle cx="1448.8" cy="270" r="7"/><circle cx="1407.6" cy="256.9" r="7"/><circle cx="1396.7" cy="249.5" r="7"/><circle cx="1464" cy="246.7" r="7"/><circle cx="1490.2" cy="267" r="7"/><circle cx="1463.6" cy="260.4" r="7"/><circle cx="1462.9" cy="276.9" r="7"/><circle cx="1442.2" cy="249.8" r="7"/><circle cx="1424.3" cy="290.8" r="7"/><circle cx="1434.3" cy="251" r="7"/><circle cx="1419.9" cy="230.5" r="7"/><circle cx="1425.6" cy="264" r="7"/><circle cx="1426" cy="246" r="7"/><circle cx="1450.5" cy="266.3" r="7"/><circle cx="1427.4" cy="263.8" r="7"/><circle cx="1412.7" cy="273" r="7"/><circle cx="1412.3" cy="253" r="7"/><circle cx="1443" cy="251.6" r="7"/><circle cx="1408" cy="293.6" r="7"/><circle cx="1480.8" cy="229.5" r="7"/><circle cx="1442.6" cy="237.4" r="7"/><circle cx="1447.8" cy="236.9" r="7"/><circle cx="1455.2" cy="267.5" r="7"/><circle cx="1486" cy="278.7" r="7"/><circle cx="1426.8" cy="274.4" r="7"/><circle cx="1426.7" cy="256.7" r="7"/><circle cx="1425.6" cy="229.2" r="7"/><circle cx="1455.8" cy="224.7" r="7"/><circle cx="1432.8" cy="267.4" r="7"/><circle cx="1442.4" cy="232.3" r="7"/><circle cx="1421.5" cy="270" r="7"/><circle cx="1469.4" cy="285.3" r="7"/><circle cx="1389.7" cy="266.3" r="7"/><circle cx="1426.1" cy="271.4" r="7"/><circle cx="1393.1" cy="256.3" r="7"/><circle cx="1458.6" cy="247.8" r="7"/><circle cx="1429.4" cy="242.2" r="7"/><circle cx="1469.8" cy="236.4" r="7"/><circle cx="1414.3" cy="253.1" r="7"/><circle cx="1430.6" cy="293.9" r="7"/><circle cx="1446.8" cy="244.7" r="7"/><circle cx="1455.2" cy="264.4" r="7"/><circle cx="1447" cy="257.5" r="7"/><circle cx="1451.9" cy="239" r="7"/><circle cx="1406.4" cy="251.5" r="7"/><circle cx="1409.1" cy="270.3" r="7"/><circle cx="1492.4" cy="279.3" r="7"/><circle cx="1451.5" cy="264.3" r="7"/><circle cx="1420.5" cy="236.9" r="7"/><circle cx="1454.3" cy="233.9" r="7"/><circle cx="1447.6" cy="256.3" r="7"/><circle cx="1459.8" cy="259.5" r="7"/><circle cx="1442.2" cy="248.9" r="7"/><circle cx="1392.2" cy="252.9" r="7"/><circle cx="1458.3" cy="276.1" r="7"/><circle cx="1477" cy="242" r="7"/><circle cx="1413.7" cy="270.3" r="7"/><circle cx="1447.9" cy="233.2" r="7"/><circle cx="1424.1" cy="284.9" r="7"/><circle cx="1389.4" cy="261.2" r="7"/><circle cx="1401.4" cy="285.4" r="7"/><circle cx="1427.1" cy="241.4" r="7"/><circle cx="1392.6" cy="246.7" r="7"/><circle cx="1498.9" cy="260.3" r="7"/><circle cx="1432" cy="239.2" r="7"/><circle cx="1448.6" cy="250.7" r="7"/><circle cx="1416.1" cy="281.8" r="7"/><circle cx="1451.3" cy="243.8" r="7"/><circle cx="1479.7" cy="257.7" r="7"/><circle cx="1453.1" cy="261.1" r="7"/><circle cx="1471.5" cy="268.9" r="7"/><circle cx="1429.8" cy="270.6" r="7"/><circle cx="1428.6" cy="260.9" r="7"/><circle cx="1484.2" cy="240.9" r="7"/><circle cx="1411" cy="251.9" r="7"/><circle cx="1425.6" cy="280.4" r="7"/><circle cx="1482.7" cy="251.1" r="7"/><circle cx="1444.4" cy="252.6" r="7"/><circle cx="1457.7" cy="269.7" r="7"/><circle cx="1459.9" cy="271.4" r="7"/><circle cx="1492.2" cy="255.8" r="7"/><circle cx="1458.4" cy="255.5" r="7"/><circle cx="1440.4" cy="262.3" r="7"/><circle cx="1437.9" cy="264.4" r="7"/><circle cx="1416" cy="256.1" r="7"/><circle cx="1422.7" cy="239.1" r="7"/><circle cx="1419.9" cy="250.3" r="7"/><circle cx="1435.2" cy="232.5" r="7"/><circle cx="1432.3" cy="239.7" r="7"/><circle cx="1416.9" cy="261.8" r="7"/><circle cx="1469.6" cy="263.4" r="7"/><circle cx="1425.9" cy="251.3" r="7"/><circle cx="1476" cy="231.4" r="7"/><circle cx="1470.5" cy="233.5" r="7"/><circle cx="1421.9" cy="259.4" r="7"/><circle cx="1433.2" cy="286.4" r="7"/><circle cx="1452.8" cy="257.8" r="7"/><circle cx="1465.4" cy="259.2" r="7"/><circle cx="1417.2" cy="277.4" r="7"/><circle cx="1480.3" cy="280.1" r="7"/><circle cx="1407.1" cy="290.6" r="7"/><circle cx="1427.9" cy="271.5" r="7"/><circle cx="1395" cy="241.5" r="7"/><circle cx="1471.6" cy="266.9" r="7"/><circle cx="1451.4" cy="255.5" r="7"/><circle cx="1439.1" cy="262.5" r="7"/><circle cx="1459.9" cy="254.2" r="7"/><circle cx="1414.7" cy="252.6" r="7"/><circle cx="1381.6" cy="239.9" r="7"/><circle cx="1493.4" cy="247.1" r="7"/><circle cx="1437.1" cy="290.4" r="7"/><circle cx="1468.1" cy="260.7" r="7"/><circle cx="1459.4" cy="254.1" r="7"/><circle cx="1414.5" cy="275.4" r="7"/><circle cx="1443" cy="285.5" r="7"/><circle cx="1432.1" cy="252.3" r="7"/><circle cx="1448.7" cy="255.4" r="7"/><circle cx="1430.7" cy="243.6" r="7"/><circle cx="1446.3" cy="264" r="7"/><circle cx="1489.5" cy="258.2" r="7"/><circle cx="1391.1" cy="266.4" r="7"/><circle cx="1502.1" cy="251.2" r="7"/><circle cx="1417.3" cy="255.8" r="7"/><circle cx="1434.1" cy="233.3" r="7"/><circle cx="1455.1" cy="243.9" r="7"/><circle cx="1388.6" cy="246.5" r="7"/><circle cx="1456.7" cy="290.9" r="7"/><circle cx="1473.6" cy="261.9" r="7"/><circle cx="1425.2" cy="254.2" r="7"/><circle cx="1465.8" cy="249.9" r="7"/><circle cx="1450.7" cy="274.8" r="7"/><circle cx="1414.4" cy="248.7" r="7"/><circle cx="1451.6" cy="258.8" r="7"/><circle cx="1435.9" cy="249.7" r="7"/><circle cx="1437.5" cy="289.8" r="7"/><circle cx="1476.6" cy="231.5" r="7"/><circle cx="1440.6" cy="260.2" r="7"/><circle cx="1440.3" cy="235.4" r="7"/><circle cx="1435.7" cy="261.1" r="7"/><circle cx="1420.6" cy="263.9" r="7"/><circle cx="1442.1" cy="265.2" r="7"/><circle cx="1434.7" cy="250.9" r="7"/><circle cx="1444.4" cy="276.8" r="7"/><circle cx="1464" cy="257.3" r="7"/><circle cx="1426.5" cy="276.5" r="7"/><circle cx="1454.1" cy="273.5" r="7"/><circle cx="1431.7" cy="244.2" r="7"/><circle cx="1444.4" cy="248.1" r="7"/><circle cx="1470.9" cy="273" r="7"/><circle cx="1379.4" cy="269.8" r="7"/><circle cx="1475.9" cy="276.1" r="7"/><circle cx="1426.3" cy="244.1" r="7"/><circle cx="1465.9" cy="275.7" r="7"/><circle cx="1440.9" cy="239.2" r="7"/><circle cx="1397.3" cy="263.1" r="7"/><circle cx="1416.6" cy="247.2" r="7"/><circle cx="1451.5" cy="276.2" r="7"/><circle cx="1382.6" cy="247.4" r="7"/><circle cx="1475" cy="257.9" r="7"/><circle cx="1429.9" cy="269.3" r="7"/><circle cx="1408" cy="238.1" r="7"/><circle cx="1439.9" cy="284.9" r="7"/><circle cx="1467.2" cy="258.5" r="7"/><circle cx="1467.1" cy="251.7" r="7"/><circle cx="1406.9" cy="230.5" r="7"/><circle cx="1446.7" cy="273.7" r="7"/><circle cx="1449.5" cy="258" r="7"/><circle cx="1428.3" cy="276.9" r="7"/><circle cx="1438" cy="234.4" r="7"/><circle cx="1477" cy="247.7" r="7"/><circle cx="1450" cy="258.7" r="7"/><circle cx="1468.3" cy="262.8" r="7"/><circle cx="1473" cy="262.2" r="7"/><circle cx="1426.6" cy="250.1" r="7"/><circle cx="1457.2" cy="244.7" r="7"/><circle cx="1464.8" cy="254.6" r="7"/><circle cx="1413.8" cy="243.9" r="7"/><circle cx="1435.3" cy="288.4" r="7"/><circle cx="1460.5" cy="258.9" r="7"/><circle cx="1414.4" cy="290.7" r="7"/><circle cx="1431.6" cy="258.6" r="7"/><circle cx="1427.6" cy="281" r="7"/><circle cx="1444.1" cy="250.9" r="7"/><circle cx="1444.4" cy="241.8" r="7"/><circle cx="1410.3" cy="255.9" r="7"/><circle cx="1493.9" cy="239.9" r="7"/><circle cx="1435.4" cy="232.1" r="7"/><circle cx="1444" cy="262.2" r="7"/><circle cx="1459.6" cy="236.2" r="7"/><circle cx="1422.8" cy="247.7" r="7"/><circle cx="1432.5" cy="297.1" r="7"/><circle cx="1433.8" cy="257.9" r="7"/><circle cx="1425.3" cy="272" r="7"/><circle cx="1481.4" cy="240.6" r="7"/><circle cx="1468.4" cy="259.1" r="7"/><circle cx="1473.7" cy="276.4" r="7"/><circle cx="1457.3" cy="230.4" r="7"/><circle cx="1443" cy="250.2" r="7"/><circle cx="1451.6" cy="259.2" r="7"/><circle cx="1468.1" cy="231.6" r="7"/><circle cx="1418.9" cy="257.3" r="7"/><circle cx="1448.1" cy="251.8" r="7"/><circle cx="1438.5" cy="259.6" r="7"/><circle cx="1468.1" cy="256.7" r="7"/><circle cx="1445.9" cy="228" r="7"/><circle cx="1449.1" cy="219.8" r="7"/><circle cx="1450.6" cy="257" r="7"/><circle cx="1439.4" cy="246.3" r="7"/><circle cx="1427.7" cy="272.6" r="7"/><circle cx="1449.1" cy="258.2" r="7"/><circle cx="1425.8" cy="262.2" r="7"/><circle cx="1472" cy="258.3" r="7"/><circle cx="1429.2" cy="238.8" r="7"/><circle cx="1442" cy="243.2" r="7"/><circle cx="1399.7" cy="273.3" r="7"/><circle cx="1422.1" cy="224.3" r="7"/><circle cx="1419.5" cy="289.7" r="7"/><circle cx="1436.3" cy="236.3" r="7"/><circle cx="1408.9" cy="270.7" r="7"/><circle cx="1450.5" cy="262.2" r="7"/><circle cx="1433.9" cy="266.8" r="7"/><circle cx="1481.7" cy="266.8" r="7"/><circle cx="1434.8" cy="235" r="7"/><circle cx="1451.5" cy="285" r="7"/><circle cx="1457.1" cy="237.4" r="7"/><circle cx="1444.4" cy="280.5" r="7"/><circle cx="1421.8" cy="267" r="7"/><circle cx="1472.6" cy="286.2" r="7"/><circle cx="1395.5" cy="229.1" r="7"/><circle cx="1449.6" cy="270.5" r="7"/><circle cx="1429.5" cy="258.3" r="7"/><circle cx="1428" cy="278.9" r="7"/><circle cx="1378.3" cy="262.9" r="7"/><circle cx="1404" cy="247.2" r="7"/><circle cx="1397" cy="243.3" r="7"/><circle cx="1438.6" cy="259.1" r="7"/><circle cx="1488.5" cy="254.9" r="7"/><circle cx="1448.8" cy="264.6" r="7"/><circle cx="1446.4" cy="283.4" r="7"/><circle cx="1443.1" cy="261.1" r="7"/><circle cx="1436.2" cy="258.7" r="7"/><circle cx="1437.7" cy="275.4" r="7"/><circle cx="1439.8" cy="259.8" r="7"/><circle cx="1438" cy="271.4" r="7"/><circle cx="1426.3" cy="274.5" r="7"/><circle cx="1423.5" cy="270.3" r="7"/><circle cx="1492.2" cy="262.5" r="7"/><circle cx="1436.9" cy="238.7" r="7"/><circle cx="1459.7" cy="258.8" r="7"/><circle cx="1464.4" cy="247.5" r="7"/><circle cx="1453.6" cy="289.2" r="7"/><circle cx="1450.4" cy="253.1" r="7"/><circle cx="1403.4" cy="258.5" r="7"/><circle cx="1457.5" cy="268.7" r="7"/><circle cx="1408.4" cy="241.2" r="7"/><circle cx="1412.3" cy="241.4" r="7"/><circle cx="1431.7" cy="263.1" r="7"/><circle cx="1492.4" cy="261.9" r="7"/><circle cx="1479.4" cy="230.6" r="7"/><circle cx="1481.9" cy="272.1" r="7"/><circle cx="1451.5" cy="272.6" r="7"/><circle cx="1456.3" cy="291" r="7"/><circle cx="1461.5" cy="229.2" r="7"/><circle cx="1391" cy="285.9" r="7"/><circle cx="1437" cy="281" r="7"/><circle cx="1429.8" cy="247.5" r="7"/><circle cx="1429.8" cy="263.9" r="7"/><circle cx="1444.4" cy="248.1" r="7"/><circle cx="1454.1" cy="269.1" r="7"/><circle cx="1413.9" cy="239.8" r="7"/><circle cx="1385.1" cy="253.4" r="7"/><circle cx="1439.6" cy="246.8" r="7"/><circle cx="1422.6" cy="256.3" r="7"/><circle cx="1440.1" cy="268.3" r="7"/><circle cx="1462.3" cy="266" r="7"/><circle cx="1470.2" cy="242.2" r="7"/><circle cx="1456" cy="264.9" r="7"/><circle cx="1410.4" cy="247.1" r="7"/><circle cx="1451.5" cy="259.9" r="7"/><circle cx="1404.5" cy="249.2" r="7"/><circle cx="1481.5" cy="272.9" r="7"/><circle cx="1441.5" cy="281.5" r="7"/><circle cx="1414.2" cy="255.7" r="7"/><circle cx="1465.8" cy="252.9" r="7"/><circle cx="1408.4" cy="268.5" r="7"/><circle cx="1443.6" cy="237.4" r="7"/><circle cx="1431" cy="234.7" r="7"/><circle cx="1440.5" cy="246.6" r="7"/><circle cx="1411.9" cy="250.9" r="7"/><circle cx="1445" cy="288.3" r="7"/><circle cx="1447.2" cy="285.2" r="7"/><circle cx="1409.8" cy="259.8" r="7"/><circle cx="1427.2" cy="232" r="7"/><circle cx="1446" cy="245.8" r="7"/><circle cx="1423.4" cy="241.1" r="7"/><circle cx="1467.6" cy="251.8" r="7"/><circle cx="1435.3" cy="261.7" r="7"/><circle cx="1405.4" cy="262.6" r="7"/><circle cx="1434.6" cy="266.2" r="7"/><circle cx="1428.6" cy="259.3" r="7"/><circle cx="1453.6" cy="275" r="7"/><circle cx="1420.2" cy="275.1" r="7"/><circle cx="1412" cy="255.4" r="7"/><circle cx="1442.9" cy="261.1" r="7"/><circle cx="1434.2" cy="274.3" r="7"/><circle cx="1419.8" cy="284.2" r="7"/><circle cx="1389.4" cy="259.9" r="7"/><circle cx="1454.2" cy="258.9" r="7"/><circle cx="1446.6" cy="274.5" r="7"/><circle cx="1417" cy="268.6" r="7"/><circle cx="1468.7" cy="254.7" r="7"/><circle cx="1415.7" cy="240.7" r="7"/><circle cx="1451.2" cy="245" r="7"/><circle cx="1403.2" cy="253.8" r="7"/><circle cx="1481.6" cy="270.2" r="7"/><circle cx="1411.1" cy="276.2" r="7"/><circle cx="1426.1" cy="296.2" r="7"/><circle cx="1424" cy="268.7" r="7"/><circle cx="1454.9" cy="251.1" r="7"/><circle cx="1435" cy="278.3" r="7"/><circle cx="1453.1" cy="257.6" r="7"/><circle cx="1451.6" cy="288.3" r="7"/><circle cx="1465.1" cy="266.7" r="7"/><circle cx="1448.4" cy="232.1" r="7"/><circle cx="1443" cy="250.4" r="7"/><circle cx="1459.5" cy="248.3" r="7"/><circle cx="1451.7" cy="240.8" r="7"/><circle cx="1464" cy="246.3" r="7"/><circle cx="1438.5" cy="268.4" r="7"/><circle cx="1430.3" cy="258.7" r="7"/><circle cx="1468.6" cy="288.6" r="7"/><circle cx="1389.4" cy="243.3" r="7"/><circle cx="1458" cy="274.6" r="7"/><circle cx="1426.2" cy="260.2" r="7"/><circle cx="1433.9" cy="297.2" r="7"/><circle cx="1433.8" cy="238.4" r="7"/><circle cx="1396.3" cy="237" r="7"/><circle cx="1475.3" cy="252" r="7"/><circle cx="1493.2" cy="269.4" r="7"/><circle cx="1449.9" cy="269.6" r="7"/><circle cx="1461.1" cy="274.2" r="7"/><circle cx="1412.3" cy="249.2" r="7"/><circle cx="1424.1" cy="260.4" r="7"/><circle cx="1432.4" cy="237.7" r="7"/><circle cx="1420.1" cy="288.9" r="7"/><circle cx="1498" cy="244.1" r="7"/><circle cx="1449.8" cy="258" r="7"/><circle cx="1415.9" cy="270.7" r="7"/><circle cx="1437.4" cy="286.9" r="7"/><circle cx="1451.9" cy="253.3" r="7"/><circle cx="1462.7" cy="246.5" r="7"/><circle cx="1463.7" cy="270.2" r="7"/><circle cx="1390.5" cy="255.3" r="7"/><circle cx="1448.1" cy="271.4" r="7"/><circle cx="1443.6" cy="258.4" r="7"/><circle cx="1429.7" cy="253.7" r="7"/><circle cx="1439.4" cy="240.6" r="7"/><circle cx="1457" cy="253.1" r="7"/><circle cx="1453.7" cy="250" r="7"/><circle cx="1450.6" cy="260.8" r="7"/><circle cx="1463.9" cy="266.4" r="7"/><circle cx="1465.1" cy="255.8" r="7"/><circle cx="1437.7" cy="254.2" r="7"/><circle cx="1404.6" cy="256.5" r="7"/><circle cx="1469.4" cy="271.7" r="7"/><circle cx="1415.8" cy="263.7" r="7"/><circle cx="1460.1" cy="235.6" r="7"/><circle cx="1448.9" cy="264.2" r="7"/><circle cx="1460" cy="263" r="7"/><circle cx="1494.2" cy="251.9" r="7"/><circle cx="1474.5" cy="280" r="7"/><circle cx="1441.7" cy="239.2" r="7"/><circle cx="1477.1" cy="258" r="7"/><circle cx="1453.7" cy="266.7" r="7"/><circle cx="1465.7" cy="275.8" r="7"/><circle cx="1400" cy="234.8" r="7"/><circle cx="1443.2" cy="258.8" r="7"/><circle cx="1460.8" cy="256.3" r="7"/><circle cx="1434.3" cy="292.9" r="7"/><circle cx="1477.3" cy="278.2" r="7"/><circle cx="1467.9" cy="245.3" r="7"/><circle cx="1436.9" cy="257.4" r="7"/><circle cx="1409" cy="243.9" r="7"/><circle cx="1443.7" cy="238.1" r="7"/><circle cx="1454.3" cy="266.6" r="7"/><circle cx="1432.8" cy="252.9" r="7"/><circle cx="1455.9" cy="266.7" r="7"/><circle cx="1449.4" cy="237.9" r="7"/><circle cx="1421.2" cy="252.4" r="7"/><circle cx="1388.8" cy="245.1" r="7"/><circle cx="1419" cy="272.1" r="7"/><circle cx="1427.9" cy="250.3" r="7"/><circle cx="1417.8" cy="251.2" r="7"/><circle cx="1395.7" cy="263.1" r="7"/><circle cx="1472.3" cy="261.2" r="7"/><circle cx="1424.4" cy="280" r="7"/><circle cx="1452.8" cy="241.2" r="7"/><circle cx="1423.4" cy="248.3" r="7"/><circle cx="1438" cy="279.1" r="7"/><circle cx="1419.8" cy="256.1" r="7"/><circle cx="1442.4" cy="238.5" r="7"/><circle cx="1426.1" cy="269" r="7"/><circle cx="1470.6" cy="227" r="7"/><circle cx="1458.8" cy="253.7" r="7"/><circle cx="1474.9" cy="269.1" r="7"/><circle cx="1493.8" cy="263.8" r="7"/><circle cx="1428.3" cy="244.6" r="7"/><circle cx="1399.7" cy="268" r="7"/><circle cx="1453.5" cy="272.4" r="7"/><circle cx="1449" cy="233.4" r="7"/><circle cx="1428" cy="254.5" r="7"/><circle cx="1443.7" cy="271.5" r="7"/><circle cx="1478.5" cy="263.4" r="7"/><circle cx="1382.2" cy="241.4" r="7"/><circle cx="1380.2" cy="245.7" r="7"/><circle cx="1406.1" cy="262.6" r="7"/><circle cx="1433.2" cy="277.4" r="7"/><circle cx="1469.1" cy="250.9" r="7"/><circle cx="1465.4" cy="258.8" r="7"/><circle cx="1451.9" cy="281.3" r="7"/><circle cx="1407.5" cy="257.5" r="7"/><circle cx="1481.9" cy="245.7" r="7"/><circle cx="1445.2" cy="260.8" r="7"/><circle cx="1427.8" cy="236.6" r="7"/><circle cx="1420.3" cy="242.1" r="7"/><circle cx="1469.2" cy="262.8" r="7"/><circle cx="1458.7" cy="238.6" r="7"/><circle cx="1453.2" cy="261" r="7"/><circle cx="1468.3" cy="246.5" r="7"/><circle cx="1461.7" cy="281.7" r="7"/><circle cx="1489.2" cy="243" r="7"/><circle cx="1408.2" cy="234" r="7"/><circle cx="1465.9" cy="268.6" r="7"/><circle cx="1448.7" cy="244" r="7"/><circle cx="1474" cy="285.6" r="7"/><circle cx="1438.3" cy="256.6" r="7"/><circle cx="1472.2" cy="267.1" r="7"/><circle cx="1476.5" cy="251.8" r="7"/><circle cx="1448.7" cy="252.9" r="7"/><circle cx="1423.5" cy="253.6" r="7"/><circle cx="1431.4" cy="267.1" r="7"/><circle cx="1430.9" cy="259.8" r="7"/><circle cx="1416.9" cy="238" r="7"/><circle cx="1478.8" cy="242.1" r="7"/><circle cx="1489.5" cy="274.4" r="7"/><circle cx="1376" cy="247.9" r="7"/><circle cx="1427.8" cy="259" r="7"/><circle cx="1434.4" cy="248.5" r="7"/><circle cx="1474" cy="256.5" r="7"/><circle cx="1465.9" cy="247.1" r="7"/><circle cx="1420.2" cy="281" r="7"/><circle cx="1431.5" cy="240.2" r="7"/><circle cx="1434.6" cy="276.3" r="7"/><circle cx="1434.9" cy="246.6" r="7"/><circle cx="1456.9" cy="275.1" r="7"/><circle cx="1433.6" cy="253.3" r="7"/><circle cx="1434.1" cy="288" r="7"/><circle cx="1435.2" cy="265.4" r="7"/><circle cx="1383" cy="261.6" r="7"/><circle cx="1440.8" cy="253.3" r="7"/><circle cx="1428" cy="235.7" r="7"/><circle cx="1398.2" cy="261.4" r="7"/><circle cx="1421.7" cy="257.1" r="7"/><circle cx="1434.3" cy="250.1" r="7"/><circle cx="1419.2" cy="289.8" r="7"/><circle cx="1408.8" cy="250.1" r="7"/><circle cx="1431.2" cy="239.2" r="7"/><circle cx="1412.8" cy="273.1" r="7"/><circle cx="1465.1" cy="260.8" r="7"/><circle cx="1473.4" cy="244.9" r="7"/><circle cx="1469.3" cy="286.9" r="7"/><circle cx="1428.9" cy="289" r="7"/><circle cx="1417.1" cy="239.6" r="7"/><circle cx="1438.1" cy="245.1" r="7"/><circle cx="1457" cy="240.1" r="7"/><circle cx="1441.7" cy="225.8" r="7"/><circle cx="1438.5" cy="276.3" r="7"/><circle cx="1432.1" cy="263.9" r="7"/><circle cx="1469.5" cy="240.2" r="7"/><circle cx="1404.2" cy="260" r="7"/><circle cx="1447" cy="254.1" r="7"/><circle cx="1412.6" cy="279" r="7"/><circle cx="1407.2" cy="254.3" r="7"/><circle cx="1438.2" cy="270.8" r="7"/><circle cx="1427" cy="244.9" r="7"/><circle cx="1495" cy="244.4" r="7"/><circle cx="1461.4" cy="256" r="7"/><circle cx="1426.2" cy="257.9" r="7"/><circle cx="1432.3" cy="263.8" r="7"/><circle cx="1441.4" cy="242.3" r="7"/><circle cx="1428.7" cy="297.8" r="7"/><circle cx="1490.4" cy="269.4" r="7"/><circle cx="1445.8" cy="253.5" r="7"/><circle cx="1477.7" cy="251.1" r="7"/><circle cx="1416.7" cy="270.2" r="7"/><circle cx="1412.7" cy="245.4" r="7"/><circle cx="1479.4" cy="231.7" r="7"/><circle cx="1437.6" cy="260.6" r="7"/><circle cx="1446.5" cy="234.2" r="7"/><circle cx="1433.1" cy="253" r="7"/><circle cx="1492.5" cy="275.5" r="7"/><circle cx="1418.5" cy="273.3" r="7"/><circle cx="1457.5" cy="256.7" r="7"/><circle cx="1432.7" cy="254" r="7"/><circle cx="1396.8" cy="248.1" r="7"/><circle cx="1465.3" cy="282.8" r="7"/><circle cx="1490.6" cy="252.3" r="7"/><circle cx="1456.4" cy="218.3" r="7"/><circle cx="1432" cy="237.5" r="7"/><circle cx="1462.1" cy="230.8" r="7"/><circle cx="1410.6" cy="240.1" r="7"/><circle cx="1450.3" cy="272.7" r="7"/><circle cx="1414" cy="288.8" r="7"/><circle cx="1443.8" cy="244.7" r="7"/><circle cx="1449" cy="258.4" r="7"/><circle cx="1462.4" cy="264.4" r="7"/><circle cx="1499.9" cy="278.2" r="7"/><circle cx="1421.8" cy="271.8" r="7"/><circle cx="1460.4" cy="241.9" r="7"/><circle cx="1418.7" cy="245.1" r="7"/><circle cx="1433.4" cy="279.3" r="7"/><circle cx="1424" cy="259.9" r="7"/><circle cx="1459.5" cy="274.8" r="7"/><circle cx="1448.2" cy="241.2" r="7"/><circle cx="1500.3" cy="273.2" r="7"/><circle cx="1477" cy="285.7" r="7"/><circle cx="1478.2" cy="265.6" r="7"/><circle cx="1452.5" cy="269.2" r="7"/><circle cx="1397.9" cy="272.2" r="7"/><circle cx="1412.5" cy="265.7" r="7"/><circle cx="1411.5" cy="270.6" r="7"/><circle cx="1426" cy="300.3" r="7"/><circle cx="1444.7" cy="267.1" r="7"/><circle cx="1414.4" cy="253.8" r="7"/><circle cx="1437.9" cy="253.8" r="7"/><circle cx="1427.4" cy="244" r="7"/><circle cx="1460.5" cy="252.2" r="7"/><circle cx="1417" cy="264.7" r="7"/><circle cx="1417" cy="255.7" r="7"/><circle cx="1425.3" cy="243.1" r="7"/><circle cx="1433.2" cy="244.8" r="7"/><circle cx="1404.9" cy="264.5" r="7"/><circle cx="1431.3" cy="234.1" r="7"/><circle cx="1428.6" cy="261.7" r="7"/><circle cx="1451.3" cy="264.9" r="7"/><circle cx="1446.5" cy="268.6" r="7"/><circle cx="1425.9" cy="245.3" r="7"/><circle cx="1456.4" cy="251.8" r="7"/><circle cx="1439.8" cy="269.5" r="7"/><circle cx="1465.4" cy="279.1" r="7"/><circle cx="1420.5" cy="252.4" r="7"/><circle cx="1454.8" cy="234.7" r="7"/><circle cx="1404.8" cy="268.8" r="7"/><circle cx="1422.6" cy="243.2" r="7"/><circle cx="1461.6" cy="267.5" r="7"/><circle cx="1464.8" cy="253.1" r="7"/><circle cx="1431.5" cy="253" r="7"/><circle cx="1447.7" cy="224.7" r="7"/><circle cx="1420.4" cy="270.5" r="7"/><circle cx="1418" cy="257.6" r="7"/><circle cx="1442.9" cy="267.3" r="7"/><circle cx="1426.4" cy="239.7" r="7"/><circle cx="1486.6" cy="229.3" r="7"/><circle cx="1442.6" cy="255.4" r="7"/><circle cx="1466.4" cy="241.7" r="7"/><circle cx="1417.4" cy="246.1" r="7"/><circle cx="1425.3" cy="263" r="7"/><circle cx="1417.9" cy="254.5" r="7"/><circle cx="1480.1" cy="282.7" r="7"/><circle cx="1388.3" cy="242.7" r="7"/><circle cx="1429.3" cy="280.3" r="7"/><circle cx="1430.4" cy="290.5" r="7"/><circle cx="1449.6" cy="282.6" r="7"/><circle cx="1415.9" cy="253.5" r="7"/><circle cx="1467.6" cy="268.2" r="7"/><circle cx="1388.1" cy="254" r="7"/><circle cx="1444.5" cy="269.1" r="7"/><circle cx="1422.1" cy="287.7" r="7"/><circle cx="1443.7" cy="282.8" r="7"/><circle cx="1450.6" cy="260" r="7"/><circle cx="1430.8" cy="239.2" r="7"/><circle cx="1463.3" cy="271.2" r="7"/><circle cx="1465.2" cy="252.4" r="7"/><circle cx="1411.9" cy="252.3" r="7"/><circle cx="1431" cy="258.4" r="7"/><circle cx="1466.6" cy="243.4" r="7"/><circle cx="1426.2" cy="270.1" r="7"/><circle cx="1464.4" cy="295.5" r="7"/><circle cx="1454" cy="244.5" r="7"/><circle cx="1411" cy="245.5" r="7"/><circle cx="1441.5" cy="262.9" r="7"/><circle cx="1437.7" cy="248.4" r="7"/><circle cx="1434.5" cy="257.3" r="7"/><circle cx="1455.9" cy="260" r="7"/><circle cx="1417.3" cy="239.2" r="7"/><circle cx="1480.3" cy="257.2" r="7"/><circle cx="1434.8" cy="258.2" r="7"/><circle cx="1470.6" cy="253.4" r="7"/><circle cx="1444.4" cy="254.7" r="7"/><circle cx="1455.5" cy="241.8" r="7"/><circle cx="1445.2" cy="275.8" r="7"/><circle cx="1472.2" cy="268.9" r="7"/><circle cx="1447.7" cy="284.8" r="7"/><circle cx="1459" cy="281.9" r="7"/><circle cx="1406.6" cy="240.4" r="7"/><circle cx="1461.6" cy="254.2" r="7"/><circle cx="1427.8" cy="242.8" r="7"/><circle cx="1480.4" cy="238.8" r="7"/><circle cx="1442.5" cy="235.5" r="7"/><circle cx="1434.9" cy="296" r="7"/><circle cx="1506.5" cy="250.4" r="7"/><circle cx="1411.9" cy="285.7" r="7"/><circle cx="1416.1" cy="229" r="7"/><circle cx="1449.2" cy="240.7" r="7"/><circle cx="1399.8" cy="277.3" r="7"/><circle cx="1419.6" cy="241" r="7"/><circle cx="1444.3" cy="255.5" r="7"/><circle cx="1470.5" cy="260.2" r="7"/><circle cx="1483.3" cy="277.6" r="7"/><circle cx="1488.5" cy="277.3" r="7"/><circle cx="1441.6" cy="267.7" r="7"/><circle cx="1440.3" cy="232.8" r="7"/><circle cx="1407.4" cy="271" r="7"/><circle cx="1374.8" cy="244.9" r="7"/><circle cx="1404.5" cy="257.6" r="7"/><circle cx="1411.3" cy="262.8" r="7"/><circle cx="1434.3" cy="250.8" r="7"/><circle cx="1416.5" cy="221.7" r="7"/><circle cx="1441.7" cy="237.2" r="7"/><circle cx="1431.6" cy="264.8" r="7"/><circle cx="1468.4" cy="270.3" r="7"/><circle cx="1480.2" cy="235.1" r="7"/><circle cx="1458.2" cy="284.7" r="7"/><circle cx="1450.5" cy="240.2" r="7"/><circle cx="1450.6" cy="250" r="7"/><circle cx="1422.1" cy="276.3" r="7"/><circle cx="1434.8" cy="240.1" r="7"/><circle cx="1421.2" cy="291.3" r="7"/><circle cx="1416.6" cy="269.9" r="7"/><circle cx="1444.6" cy="278.1" r="7"/><circle cx="1432.1" cy="243" r="7"/><circle cx="1422.2" cy="241.6" r="7"/><circle cx="1431" cy="279.6" r="7"/><circle cx="1457.7" cy="255.6" r="7"/><circle cx="1456.8" cy="263.2" r="7"/><circle cx="1470.6" cy="286.1" r="7"/><circle cx="1431.1" cy="258.1" r="7"/><circle cx="1434.7" cy="279" r="7"/><circle cx="1450.2" cy="271.7" r="7"/><circle cx="1464.3" cy="248.1" r="7"/><circle cx="1443.3" cy="281.6" r="7"/><circle cx="1465" cy="272.1" r="7"/><circle cx="1432.1" cy="252.7" r="7"/><circle cx="1416.3" cy="254.2" r="7"/><circle cx="1438" cy="234.9" r="7"/><circle cx="1471.5" cy="246" r="7"/><circle cx="1446.6" cy="268.6" r="7"/><circle cx="1424.7" cy="228.6" r="7"/><circle cx="1466.1" cy="265.4" r="7"/><circle cx="1432.8" cy="277.5" r="7"/><circle cx="1464.2" cy="242.8" r="7"/><circle cx="1437.5" cy="229.4" r="7"/><circle cx="1432.6" cy="282.1" r="7"/><circle cx="1416.8" cy="272.4" r="7"/><circle cx="1398.5" cy="253.8" r="7"/><circle cx="1465.5" cy="287.2" r="7"/><circle cx="1452.1" cy="271.2" r="7"/><circle cx="1393.1" cy="290" r="7"/><circle cx="1507.1" cy="268.6" r="7"/><circle cx="1441.5" cy="263" r="7"/><circle cx="1440.5" cy="248.5" r="7"/><circle cx="1439.3" cy="256.6" r="7"/><circle cx="1458" cy="270" r="7"/><circle cx="1466.5" cy="268.4" r="7"/><circle cx="1413.3" cy="281.8" r="7"/><circle cx="1448.8" cy="249.9" r="7"/><circle cx="1490.9" cy="240.5" r="7"/><circle cx="1407.9" cy="250.3" r="7"/><circle cx="1451.2" cy="271.8" r="7"/><circle cx="1442.7" cy="269.8" r="7"/><circle cx="1420.6" cy="248.6" r="7"/><circle cx="1443.3" cy="236.3" r="7"/><circle cx="1444.9" cy="252.1" r="7"/><circle cx="1458.4" cy="241.9" r="7"/><circle cx="1425.3" cy="249.3" r="7"/><circle cx="1429.8" cy="242.1" r="7"/><circle cx="1432.7" cy="236.2" r="7"/><circle cx="1454.4" cy="269.8" r="7"/><circle cx="1439.3" cy="255.5" r="7"/><circle cx="1415.5" cy="242.7" r="7"/><circle cx="1433.8" cy="243.7" r="7"/><circle cx="1407.8" cy="261.4" r="7"/><circle cx="1439.2" cy="251.9" r="7"/><circle cx="1417.6" cy="257.8" r="7"/><circle cx="1420.9" cy="251.5" r="7"/><circle cx="1444.8" cy="270.6" r="7"/><circle cx="1460.3" cy="248.6" r="7"/><circle cx="1472.6" cy="239.5" r="7"/><circle cx="1435.1" cy="280.3" r="7"/><circle cx="1504.2" cy="260.8" r="7"/><circle cx="1430" cy="252.5" r="7"/><circle cx="1406.8" cy="256.2" r="7"/><circle cx="1428.2" cy="246.1" r="7"/><circle cx="1472.2" cy="245.7" r="7"/><circle cx="1485.7" cy="272.6" r="7"/><circle cx="1457.1" cy="248.9" r="7"/><circle cx="1425.9" cy="225.6" r="7"/><circle cx="1447.2" cy="254.2" r="7"/><circle cx="1450.3" cy="247.5" r="7"/><circle cx="1452.9" cy="233.8" r="7"/><circle cx="1380.4" cy="266.5" r="7"/><circle cx="1474.6" cy="252.9" r="7"/><circle cx="1435.3" cy="233.1" r="7"/><circle cx="1412.6" cy="270.4" r="7"/><circle cx="1419.8" cy="258" r="7"/><circle cx="1435.5" cy="291.7" r="7"/><circle cx="1463.9" cy="236.8" r="7"/><circle cx="1426.7" cy="239.6" r="7"/><circle cx="1402.1" cy="247.3" r="7"/><circle cx="1469.6" cy="259.5" r="7"/><circle cx="1457.9" cy="256.4" r="7"/><circle cx="1428.3" cy="260" r="7"/><circle cx="1437.6" cy="290.6" r="7"/><circle cx="1488.3" cy="264.9" r="7"/><circle cx="1456" cy="225.6" r="7"/><circle cx="1436.4" cy="298.3" r="7"/><circle cx="1418.1" cy="272.2" r="7"/><circle cx="1472.7" cy="252.1" r="7"/><circle cx="1433.6" cy="251.1" r="7"/><circle cx="1461.2" cy="259" r="7"/><circle cx="1480.4" cy="278.3" r="7"/><circle cx="1431.3" cy="248.5" r="7"/><circle cx="1433.3" cy="244" r="7"/><circle cx="1428.3" cy="257.5" r="7"/><circle cx="1463.8" cy="232.4" r="7"/><circle cx="1401.8" cy="245.8" r="7"/><circle cx="1431.4" cy="266.2" r="7"/><circle cx="1418.4" cy="283.7" r="7"/><circle cx="1425.4" cy="255" r="7"/><circle cx="1441.1" cy="278.1" r="7"/><circle cx="1447.7" cy="259.1" r="7"/><circle cx="1425" cy="261.5" r="7"/><circle cx="1450.5" cy="252.8" r="7"/><circle cx="1439.1" cy="228.1" r="7"/><circle cx="1430" cy="231.2" r="7"/><circle cx="1458.1" cy="218.7" r="7"/><circle cx="1431.7" cy="229.4" r="7"/><circle cx="1428.7" cy="233.1" r="7"/><circle cx="1454.3" cy="208.9" r="7"/><circle cx="1434.4" cy="207.4" r="7"/><circle cx="1441.6" cy="215.5" r="7"/><circle cx="1416" cy="209" r="7"/><circle cx="1441.1" cy="204.3" r="7"/><circle cx="1453.1" cy="223.9" r="7"/><circle cx="1435" cy="233.4" r="7"/><circle cx="1424.3" cy="226.3" r="7"/><circle cx="1418.1" cy="216.2" r="7"/><circle cx="1446.8" cy="214.1" r="7"/><circle cx="1435.9" cy="225.9" r="7"/><circle cx="1459.5" cy="232.4" r="7"/><circle cx="1444.2" cy="216.8" r="7"/><circle cx="1416.8" cy="236.5" r="7"/><circle cx="1450.1" cy="219" r="7"/><circle cx="1447.8" cy="222.6" r="7"/><circle cx="1434.8" cy="219.4" r="7"/><circle cx="1437" cy="231" r="7"/><circle cx="1433.8" cy="214" r="7"/><circle cx="1447" cy="225.8" r="7"/><circle cx="1443.8" cy="222.3" r="7"/><circle cx="1458.8" cy="230.5" r="7"/><circle cx="1440.6" cy="217.3" r="7"/><circle cx="1447.1" cy="200.8" r="7"/><circle cx="1430.1" cy="212.4" r="7"/><circle cx="1440" cy="215.6" r="7"/><circle cx="1443.4" cy="241.9" r="7"/><circle cx="1437.5" cy="216.2" r="7"/><circle cx="1455.3" cy="227.7" r="7"/><circle cx="1450.9" cy="231.5" r="7"/><circle cx="1432.3" cy="212.8" r="7"/><circle cx="1427.2" cy="220.5" r="7"/><circle cx="1452" cy="208.9" r="7"/><circle cx="1429.9" cy="206.1" r="7"/><circle cx="1466.3" cy="227.4" r="7"/><circle cx="1440.7" cy="207.3" r="7"/><circle cx="1422.8" cy="213" r="7"/><circle cx="1438" cy="206.8" r="7"/><circle cx="1434.3" cy="231.6" r="7"/><circle cx="1437.8" cy="220.4" r="7"/><circle cx="1407.5" cy="216.7" r="7"/><circle cx="1435.5" cy="212.5" r="7"/><circle cx="1417.7" cy="218.7" r="7"/><circle cx="1422.9" cy="214" r="7"/><circle cx="1414.7" cy="218.5" r="7"/><circle cx="1450.6" cy="211" r="7"/><circle cx="1442.2" cy="204.3" r="7"/><circle cx="1445.9" cy="224.9" r="7"/><circle cx="1432" cy="228.3" r="7"/><circle cx="1425" cy="219.9" r="7"/><circle cx="1461.7" cy="219.2" r="7"/><circle cx="1421.4" cy="231" r="7"/><circle cx="1445.2" cy="216.7" r="7"/><circle cx="1415.7" cy="234.3" r="7"/><circle cx="1441.8" cy="210.9" r="7"/><circle cx="1454.1" cy="234.1" r="7"/><circle cx="1425.5" cy="224.2" r="7"/><circle cx="1413.9" cy="223.2" r="7"/><circle cx="1463.6" cy="205.3" r="7"/><circle cx="1438.4" cy="213.1" r="7"/><circle cx="1436.2" cy="220.3" r="7"/><circle cx="1441.6" cy="228.3" r="7"/><circle cx="1444.9" cy="229.9" r="7"/><circle cx="1452.1" cy="230.4" r="7"/><circle cx="1427.9" cy="223.5" r="7"/><circle cx="1432.2" cy="211" r="7"/><circle cx="1465.6" cy="222.4" r="7"/><circle cx="1438.2" cy="198.4" r="7"/><circle cx="1434.2" cy="227.2" r="7"/><circle cx="1434.6" cy="214" r="7"/><circle cx="1458.7" cy="216.3" r="7"/><circle cx="1432.8" cy="218.4" r="7"/><circle cx="1434.2" cy="230" r="7"/><circle cx="1445.7" cy="218.7" r="7"/><circle cx="1432.4" cy="217.2" r="7"/><circle cx="1461.8" cy="216.4" r="7"/><circle cx="1446.9" cy="203.7" r="7"/><circle cx="1442.2" cy="226.3" r="7"/><circle cx="1455.7" cy="222.6" r="7"/><circle cx="1445.8" cy="222.7" r="7"/><circle cx="1452.8" cy="239.9" r="7"/><circle cx="1440.4" cy="211.3" r="7"/><circle cx="1446.1" cy="218.3" r="7"/><circle cx="1446.7" cy="227.2" r="7"/><circle cx="1439.7" cy="215" r="7"/><circle cx="1441.9" cy="206.9" r="7"/><circle cx="1441.5" cy="210.6" r="7"/><circle cx="1444" cy="220.7" r="7"/><circle cx="1434.4" cy="207.4" r="7"/><circle cx="1438.3" cy="212.6" r="7"/><circle cx="1435.5" cy="226.4" r="7"/><circle cx="1451.2" cy="206.5" r="7"/><circle cx="1450.9" cy="233.1" r="7"/><circle cx="1453.7" cy="222.2" r="7"/><circle cx="1436.3" cy="236.9" r="7"/><circle cx="1433" cy="204.2" r="7"/><circle cx="1438.9" cy="222.3" r="7"/><circle cx="1422.8" cy="207.2" r="7"/><circle cx="1465.9" cy="220.6" r="7"/><circle cx="1448.7" cy="213.6" r="7"/><circle cx="1415.9" cy="217.6" r="7"/><circle cx="1456.7" cy="212.7" r="7"/><circle cx="1412" cy="217.7" r="7"/><circle cx="1433.6" cy="219.6" r="7"/><circle cx="1422.7" cy="216.3" r="7"/><circle cx="1429.8" cy="228.3" r="7"/><circle cx="1439.7" cy="228.2" r="7"/><circle cx="1436.8" cy="198.1" r="7"/><circle cx="1409.6" cy="224.8" r="7"/><circle cx="1450.1" cy="228.2" r="7"/><circle cx="1436.5" cy="201.5" r="7"/><circle cx="1430.5" cy="223.5" r="7"/><circle cx="1457.3" cy="216" r="7"/><circle cx="1429.6" cy="211.7" r="7"/><circle cx="1452.1" cy="228.1" r="7"/><circle cx="1411.5" cy="231.6" r="7"/><circle cx="1424.4" cy="204.7" r="7"/><circle cx="1414.8" cy="212.1" r="7"/><circle cx="1419.8" cy="212.7" r="7"/><circle cx="1439.8" cy="223.6" r="7"/><circle cx="1430.8" cy="203.6" r="7"/><circle cx="1431.7" cy="212.6" r="7"/><circle cx="1412" cy="220.9" r="7"/><circle cx="1416.6" cy="202" r="7"/><circle cx="1459.2" cy="228.9" r="7"/><circle cx="1458.3" cy="220.6" r="7"/><circle cx="1431.7" cy="218.6" r="7"/><circle cx="1418.1" cy="226.9" r="7"/><circle cx="1441.4" cy="216.4" r="7"/><circle cx="1410.9" cy="218.3" r="7"/><circle cx="1460.8" cy="233.9" r="7"/><circle cx="1450.1" cy="215.9" r="7"/><circle cx="1439.6" cy="225" r="7"/><circle cx="1440.4" cy="229.9" r="7"/><circle cx="1417.8" cy="226.1" r="7"/><circle cx="1453" cy="219.4" r="7"/><circle cx="1445.3" cy="220.2" r="7"/><circle cx="1440.1" cy="214.7" r="7"/><circle cx="1431.8" cy="231.4" r="7"/><circle cx="1433.7" cy="219" r="7"/><circle cx="1454.7" cy="229.3" r="7"/><circle cx="1432" cy="222" r="7"/><circle cx="1423.1" cy="220.8" r="7"/><circle cx="1442.1" cy="219.4" r="7"/><circle cx="1439.9" cy="223.1" r="7"/><circle cx="1438.7" cy="214.5" r="7"/><circle cx="1423.8" cy="217" r="7"/><circle cx="1460.6" cy="217.1" r="7"/><circle cx="1428.3" cy="214.6" r="7"/><circle cx="1420.6" cy="224.3" r="7"/><circle cx="1423.5" cy="228.6" r="7"/><circle cx="1450.6" cy="225.2" r="7"/><circle cx="1452.4" cy="218.6" r="7"/><circle cx="1412.4" cy="218.8" r="7"/><circle cx="1446.7" cy="203.9" r="7"/><circle cx="1420.1" cy="230.4" r="7"/>
</g>
<line x1="1319.9" y1="251.5" x2="1621.5" y2="279.8" stroke="#131d36" stroke-width="4.1" stroke-dasharray="0.1 8.5" stroke-linecap="round"/>
<g fill="#ff0000">
<circle cx="1562.1" cy="112.7" r="6.8"/>
</g>
<g fill="#4472c4">
<circle cx="1621.8" cy="110.8" r="6.8"/>
</g>
<g fill="#ff0000">
<circle cx="1700" cy="227.4" r="26.4"/>
</g>
<g fill="#4472c4">
<circle cx="1700" cy="299.4" r="26.4"/>
</g>
<text transform="translate(1743 244.7) scale(0.9781 1)" font-size="35.5" font-weight="bold" text-anchor="start" fill="#000">PKNH_0814200</text>
<text transform="translate(1743 311.9) scale(0.9781 1)" font-size="35.5" font-weight="bold" text-anchor="start" fill="#000">PKNH_0814300</text>
<line x1="344.9" y1="678.4" x2="344.9" y2="1021.6" stroke="#7a7a7a" stroke-width="1.5" stroke-dasharray="2 1.8"/>
<line x1="416.9" y1="678.4" x2="416.9" y2="1021.6" stroke="#7a7a7a" stroke-width="1.5" stroke-dasharray="2 1.8"/>
<line x1="110.6" y1="992.8" x2="651.3" y2="992.8" stroke="#000" stroke-width="2.2"/>
<rect x="110.6" y="678.4" width="540.7" height="343.2" fill="none" stroke="#000" stroke-width="3.7"/>
<line x1="96.1" y1="699.8" x2="110.6" y2="699.8" stroke="#000" stroke-width="2.3"/>
<text transform="translate(93 711.4) scale(1.0119 1)" font-size="30.1" font-weight="bold" text-anchor="end" fill="#000">15</text>
<line x1="96.1" y1="805.8" x2="110.6" y2="805.8" stroke="#000" stroke-width="2.3"/>
<text transform="translate(93 817.4) scale(1.0119 1)" font-size="30.1" font-weight="bold" text-anchor="end" fill="#000">10</text>
<line x1="96.1" y1="914.1" x2="110.6" y2="914.1" stroke="#000" stroke-width="2.3"/>
<text transform="translate(93 923.3) scale(1.0119 1)" font-size="30.1" font-weight="bold" text-anchor="end" fill="#000">5</text>
<line x1="96.1" y1="1021.6" x2="110.6" y2="1021.6" stroke="#000" stroke-width="2.3"/>
<text transform="translate(93 1030.4) scale(1.0119 1)" font-size="30.1" font-weight="bold" text-anchor="end" fill="#000">0</text>
<line x1="111.4" y1="1021.6" x2="111.4" y2="1038.1" stroke="#000" stroke-width="2.5"/>
<text transform="translate(111.2 1066) scale(0.9926 1)" font-size="29.9" font-weight="bold" text-anchor="middle" fill="#000">-15</text>
<line x1="198.4" y1="1021.6" x2="198.4" y2="1038.1" stroke="#000" stroke-width="2.5"/>
<text transform="translate(198.2 1066) scale(0.9926 1)" font-size="29.9" font-weight="bold" text-anchor="middle" fill="#000">-10</text>
<line x1="283.2" y1="1021.6" x2="283.2" y2="1038.1" stroke="#000" stroke-width="2.5"/>
<text transform="translate(283 1066) scale(0.9926 1)" font-size="29.9" font-weight="bold" text-anchor="middle" fill="#000">-5</text>
<line x1="368.9" y1="1021.6" x2="368.9" y2="1038.1" stroke="#000" stroke-width="2.5"/>
<text transform="translate(368.3 1066) scale(0.9926 1)" font-size="29.9" font-weight="bold" text-anchor="middle" fill="#000">0</text>
<line x1="454.6" y1="1021.6" x2="454.6" y2="1038.1" stroke="#000" stroke-width="2.5"/>
<text transform="translate(454 1066) scale(0.9926 1)" font-size="29.9" font-weight="bold" text-anchor="middle" fill="#000">5</text>
<line x1="539.4" y1="1021.6" x2="539.4" y2="1038.1" stroke="#000" stroke-width="2.5"/>
<text transform="translate(538.8 1066) scale(0.9926 1)" font-size="29.9" font-weight="bold" text-anchor="middle" fill="#000">10</text>
<line x1="624.8" y1="1021.6" x2="624.8" y2="1038.1" stroke="#000" stroke-width="2.5"/>
<text transform="translate(624.2 1066) scale(0.9926 1)" font-size="29.9" font-weight="bold" text-anchor="middle" fill="#000">15</text>
<text transform="translate(367 1110.6) scale(0.9637 1)" font-size="32.4" font-weight="bold" text-anchor="middle" fill="#000">Log2 fold change</text>
<text transform="translate(132 722.4) scale(0.9637 1)" font-size="35.3" font-weight="bold" text-anchor="start" fill="#000">4 h</text>
<text transform="translate(36.7 853.3) rotate(-90) scale(0.9637 1)" font-size="33.5" font-weight="bold" text-anchor="middle" fill="#000">-Log<tspan dy="5.6" font-size="23.4">10</tspan><tspan dy="-5.6" font-size="33.7" font-style="italic">q</tspan></text>
<g fill="#000">
<circle cx="347.1" cy="866" r="6.8"/><circle cx="357" cy="876.4" r="6.8"/><circle cx="359.8" cy="954.9" r="6.8"/><circle cx="150" cy="1001.7" r="6.8"/><circle cx="272.3" cy="1017.4" r="6.8"/><circle cx="283.6" cy="1017.9" r="6.8"/><circle cx="307.6" cy="1018.5" r="6.8"/><circle cx="316.9" cy="1018.5" r="6.8"/><circle cx="351.3" cy="1011" r="6.8"/><circle cx="410.6" cy="1003" r="6.8"/><circle cx="422" cy="1012.3" r="6.8"/><circle cx="382.4" cy="1022" r="6.8"/><circle cx="453" cy="1017.9" r="6.8"/><circle cx="413" cy="1010" r="6.8"/><circle cx="404" cy="1013" r="6.8"/><circle cx="329" cy="1018.3" r="6.8"/><circle cx="333" cy="1018.3" r="6.8"/><circle cx="337" cy="1018.3" r="6.8"/><circle cx="341" cy="1018.3" r="6.8"/><circle cx="345" cy="1018.3" r="6.8"/><circle cx="349" cy="1018.3" r="6.8"/><circle cx="353" cy="1018.3" r="6.8"/><circle cx="357" cy="1018.3" r="6.8"/><circle cx="361" cy="1018.3" r="6.8"/><circle cx="365" cy="1018.3" r="6.8"/><circle cx="369" cy="1018.3" r="6.8"/><circle cx="373" cy="1018.3" r="6.8"/><circle cx="377" cy="1018.3" r="6.8"/><circle cx="381" cy="1018.3" r="6.8"/><circle cx="385" cy="1018.3" r="6.8"/><circle cx="389" cy="1018.3" r="6.8"/><circle cx="393" cy="1018.3" r="6.8"/><circle cx="397" cy="1018.3" r="6.8"/><circle cx="401" cy="1018.3" r="6.8"/><circle cx="405" cy="1018.3" r="6.8"/><circle cx="409" cy="1018.3" r="6.8"/><circle cx="413" cy="1018.3" r="6.8"/><circle cx="417" cy="1018.3" r="6.8"/><circle cx="421" cy="1018.3" r="6.8"/><circle cx="425" cy="1018.3" r="6.8"/><circle cx="429" cy="1018.3" r="6.8"/><circle cx="433" cy="1018.3" r="6.8"/>
</g>
<g fill="#ed7d31">
<circle cx="292" cy="889.4" r="6.8"/><circle cx="340.6" cy="954.9" r="6.8"/><circle cx="330.2" cy="971.3" r="6.8"/><circle cx="344.8" cy="978.4" r="6.8"/>
</g>
<g fill="#4472c4">
<circle cx="492.5" cy="955.8" r="6.8"/>
</g>
<g fill="#ff0000">
<circle cx="487.7" cy="970.8" r="6.8"/>
</g>
<line x1="1004.1" y1="678.4" x2="1004.1" y2="1021.6" stroke="#7a7a7a" stroke-width="1.5" stroke-dasharray="2 1.8"/>
<line x1="1076.1" y1="678.4" x2="1076.1" y2="1021.6" stroke="#7a7a7a" stroke-width="1.5" stroke-dasharray="2 1.8"/>
<line x1="770.1" y1="992.8" x2="1309.5" y2="992.8" stroke="#000" stroke-width="2.2"/>
<rect x="770.1" y="678.4" width="539.4" height="343.2" fill="none" stroke="#000" stroke-width="3.7"/>
<line x1="755.6" y1="699.8" x2="770.1" y2="699.8" stroke="#000" stroke-width="2.3"/>
<text transform="translate(752.5 711.4) scale(1.0119 1)" font-size="30.1" font-weight="bold" text-anchor="end" fill="#000">15</text>
<line x1="755.6" y1="805.8" x2="770.1" y2="805.8" stroke="#000" stroke-width="2.3"/>
<text transform="translate(752.5 817.4) scale(1.0119 1)" font-size="30.1" font-weight="bold" text-anchor="end" fill="#000">10</text>
<line x1="755.6" y1="914.1" x2="770.1" y2="914.1" stroke="#000" stroke-width="2.3"/>
<text transform="translate(752.5 923.3) scale(1.0119 1)" font-size="30.1" font-weight="bold" text-anchor="end" fill="#000">5</text>
<line x1="755.6" y1="1021.6" x2="770.1" y2="1021.6" stroke="#000" stroke-width="2.3"/>
<text transform="translate(752.5 1030.4) scale(1.0119 1)" font-size="30.1" font-weight="bold" text-anchor="end" fill="#000">0</text>
<line x1="771.2" y1="1021.6" x2="771.2" y2="1038.1" stroke="#000" stroke-width="2.5"/>
<text transform="translate(771 1066) scale(0.9926 1)" font-size="29.9" font-weight="bold" text-anchor="middle" fill="#000">-15</text>
<line x1="856.6" y1="1021.6" x2="856.6" y2="1038.1" stroke="#000" stroke-width="2.5"/>
<text transform="translate(856.4 1066) scale(0.9926 1)" font-size="29.9" font-weight="bold" text-anchor="middle" fill="#000">-10</text>
<line x1="941.7" y1="1021.6" x2="941.7" y2="1038.1" stroke="#000" stroke-width="2.5"/>
<text transform="translate(941.5 1066) scale(0.9926 1)" font-size="29.9" font-weight="bold" text-anchor="middle" fill="#000">-5</text>
<line x1="1027.1" y1="1021.6" x2="1027.1" y2="1038.1" stroke="#000" stroke-width="2.5"/>
<text transform="translate(1026.5 1066) scale(0.9926 1)" font-size="29.9" font-weight="bold" text-anchor="middle" fill="#000">0</text>
<line x1="1114.3" y1="1021.6" x2="1114.3" y2="1038.1" stroke="#000" stroke-width="2.5"/>
<text transform="translate(1113.7 1066) scale(0.9926 1)" font-size="29.9" font-weight="bold" text-anchor="middle" fill="#000">5</text>
<line x1="1199.4" y1="1021.6" x2="1199.4" y2="1038.1" stroke="#000" stroke-width="2.5"/>
<text transform="translate(1198.8 1066) scale(0.9926 1)" font-size="29.9" font-weight="bold" text-anchor="middle" fill="#000">10</text>
<line x1="1284.8" y1="1021.6" x2="1284.8" y2="1038.1" stroke="#000" stroke-width="2.5"/>
<text transform="translate(1284.2 1066) scale(0.9926 1)" font-size="29.9" font-weight="bold" text-anchor="middle" fill="#000">15</text>
<text transform="translate(1026.7 1110.6) scale(0.9637 1)" font-size="32.4" font-weight="bold" text-anchor="middle" fill="#000">Log2 fold change</text>
<text transform="translate(792.4 722.4) scale(0.9637 1)" font-size="35.3" font-weight="bold" text-anchor="start" fill="#000">8 h</text>
<text transform="translate(697.7 853.3) rotate(-90) scale(0.9637 1)" font-size="33.5" font-weight="bold" text-anchor="middle" fill="#000">-Log<tspan dy="5.6" font-size="23.4">10</tspan><tspan dy="-5.6" font-size="33.7" font-style="italic">q</tspan></text>
<line x1="768.2" y1="678.1" x2="1311.4" y2="678.1" stroke="#000" stroke-width="4.2"/>
<g fill="#000">
<circle cx="812.8" cy="1013.5" r="6.8"/><circle cx="935.6" cy="1020.8" r="6.8"/><circle cx="949.2" cy="1020.8" r="6.8"/><circle cx="962" cy="1020.8" r="6.8"/><circle cx="977.2" cy="1020.8" r="6.8"/><circle cx="994.6" cy="1017" r="6.8"/><circle cx="1016.5" cy="1001.9" r="6.8"/><circle cx="1009" cy="1007.2" r="6.8"/><circle cx="1013" cy="999.5" r="6.8"/><circle cx="1003" cy="1012" r="6.8"/><circle cx="1075.5" cy="1001.9" r="6.8"/><circle cx="1085.3" cy="1001.9" r="6.8"/><circle cx="990" cy="1019.8" r="6.8"/><circle cx="994" cy="1019.8" r="6.8"/><circle cx="998" cy="1019.8" r="6.8"/><circle cx="1002" cy="1019.8" r="6.8"/><circle cx="1006" cy="1019.8" r="6.8"/><circle cx="1010" cy="1019.8" r="6.8"/><circle cx="1014" cy="1019.8" r="6.8"/><circle cx="1018" cy="1019.8" r="6.8"/><circle cx="1022" cy="1019.8" r="6.8"/><circle cx="1026" cy="1019.8" r="6.8"/><circle cx="1030" cy="1019.8" r="6.8"/><circle cx="1034" cy="1019.8" r="6.8"/><circle cx="1038" cy="1019.8" r="6.8"/><circle cx="1042" cy="1019.8" r="6.8"/><circle cx="1046" cy="1019.8" r="6.8"/><circle cx="1050" cy="1019.8" r="6.8"/><circle cx="1054" cy="1019.8" r="6.8"/><circle cx="1058" cy="1019.8" r="6.8"/><circle cx="1062" cy="1019.8" r="6.8"/><circle cx="1066" cy="1019.8" r="6.8"/><circle cx="1070" cy="1019.8" r="6.8"/><circle cx="1074" cy="1019.8" r="6.8"/><circle cx="1078" cy="1019.8" r="6.8"/><circle cx="1082" cy="1019.8" r="6.8"/><circle cx="1086" cy="1019.8" r="6.8"/><circle cx="1090" cy="1019.8" r="6.8"/><circle cx="1094" cy="1019.8" r="6.8"/><circle cx="1098" cy="1019.8" r="6.8"/><circle cx="1102" cy="1019.8" r="6.8"/><circle cx="1020" cy="1020.5" r="6.8"/><circle cx="1024" cy="1020.5" r="6.8"/><circle cx="1028" cy="1020.5" r="6.8"/><circle cx="1032" cy="1020.5" r="6.8"/><circle cx="1036" cy="1020.5" r="6.8"/><circle cx="1040" cy="1020.5" r="6.8"/><circle cx="1044" cy="1020.5" r="6.8"/><circle cx="1048" cy="1020.5" r="6.8"/><circle cx="1052" cy="1020.5" r="6.8"/><circle cx="1056" cy="1020.5" r="6.8"/><circle cx="1060" cy="1020.5" r="6.8"/><circle cx="1064" cy="1020.5" r="6.8"/><circle cx="1068" cy="1020.5" r="6.8"/><circle cx="1072" cy="1020.5" r="6.8"/><circle cx="1076" cy="1020.5" r="6.8"/><circle cx="1080" cy="1020.5" r="6.8"/><circle cx="1084" cy="1020.5" r="6.8"/><circle cx="1088" cy="1020.5" r="6.8"/><circle cx="1092" cy="1020.5" r="6.8"/><circle cx="1096" cy="1020.5" r="6.8"/><circle cx="1100" cy="1020.5" r="6.8"/>
</g>
<g fill="#ed7d31">
<circle cx="942.6" cy="805.9" r="6.8"/><circle cx="942.8" cy="992.8" r="6.8"/>
</g>
<g fill="#4472c4">
<circle cx="1156" cy="956" r="6.8"/>
</g>
<g fill="#ff0000">
<circle cx="1147.5" cy="970.8" r="6.8"/>
</g>
<line x1="1693.3" y1="678.4" x2="1693.3" y2="1021.6" stroke="#7a7a7a" stroke-width="1.5" stroke-dasharray="2 1.8"/>
<line x1="1763.2" y1="678.4" x2="1763.2" y2="1021.6" stroke="#7a7a7a" stroke-width="1.5" stroke-dasharray="2 1.8"/>
<line x1="1460.4" y1="992.8" x2="1998" y2="992.8" stroke="#000" stroke-width="2.2"/>
<rect x="1460.4" y="678.4" width="537.6" height="343.2" fill="none" stroke="#000" stroke-width="3.7"/>
<line x1="1445.9" y1="699.8" x2="1460.4" y2="699.8" stroke="#000" stroke-width="2.3"/>
<text transform="translate(1442.8 711.4) scale(1.0119 1)" font-size="30.1" font-weight="bold" text-anchor="end" fill="#000">15</text>
<line x1="1445.9" y1="805.8" x2="1460.4" y2="805.8" stroke="#000" stroke-width="2.3"/>
<text transform="translate(1442.8 817.4) scale(1.0119 1)" font-size="30.1" font-weight="bold" text-anchor="end" fill="#000">10</text>
<line x1="1445.9" y1="914.1" x2="1460.4" y2="914.1" stroke="#000" stroke-width="2.3"/>
<text transform="translate(1442.8 923.3) scale(1.0119 1)" font-size="30.1" font-weight="bold" text-anchor="end" fill="#000">5</text>
<line x1="1445.9" y1="1021.6" x2="1460.4" y2="1021.6" stroke="#000" stroke-width="2.3"/>
<text transform="translate(1442.8 1030.4) scale(1.0119 1)" font-size="30.1" font-weight="bold" text-anchor="end" fill="#000">0</text>
<line x1="1460.4" y1="1021.6" x2="1460.4" y2="1038.1" stroke="#000" stroke-width="2.5"/>
<text transform="translate(1460.2 1066) scale(0.9926 1)" font-size="29.9" font-weight="bold" text-anchor="middle" fill="#000">-15</text>
<line x1="1546.5" y1="1021.6" x2="1546.5" y2="1038.1" stroke="#000" stroke-width="2.5"/>
<text transform="translate(1546.3 1066) scale(0.9926 1)" font-size="29.9" font-weight="bold" text-anchor="middle" fill="#000">-10</text>
<line x1="1631.6" y1="1021.6" x2="1631.6" y2="1038.1" stroke="#000" stroke-width="2.5"/>
<text transform="translate(1631.4 1066) scale(0.9926 1)" font-size="29.9" font-weight="bold" text-anchor="middle" fill="#000">-5</text>
<line x1="1717.7" y1="1021.6" x2="1717.7" y2="1038.1" stroke="#000" stroke-width="2.5"/>
<text transform="translate(1717.1 1066) scale(0.9926 1)" font-size="29.9" font-weight="bold" text-anchor="middle" fill="#000">0</text>
<line x1="1802.8" y1="1021.6" x2="1802.8" y2="1038.1" stroke="#000" stroke-width="2.5"/>
<text transform="translate(1802.2 1066) scale(0.9926 1)" font-size="29.9" font-weight="bold" text-anchor="middle" fill="#000">5</text>
<line x1="1888.5" y1="1021.6" x2="1888.5" y2="1038.1" stroke="#000" stroke-width="2.5"/>
<text transform="translate(1887.9 1066) scale(0.9926 1)" font-size="29.9" font-weight="bold" text-anchor="middle" fill="#000">10</text>
<line x1="1973.2" y1="1021.6" x2="1973.2" y2="1038.1" stroke="#000" stroke-width="2.5"/>
<text transform="translate(1972.6 1066) scale(0.9926 1)" font-size="29.9" font-weight="bold" text-anchor="middle" fill="#000">15</text>
<text transform="translate(1716 1110.6) scale(0.9637 1)" font-size="32.4" font-weight="bold" text-anchor="middle" fill="#000">Log2 fold change</text>
<text transform="translate(1480.5 722.4) scale(0.9637 1)" font-size="35.3" font-weight="bold" text-anchor="start" fill="#000">24 h</text>
<text transform="translate(1388.7 853.3) rotate(-90) scale(0.9637 1)" font-size="33.5" font-weight="bold" text-anchor="middle" fill="#000">-Log<tspan dy="5.6" font-size="23.4">10</tspan><tspan dy="-5.6" font-size="33.7" font-style="italic">q</tspan></text>
<line x1="1460.9" y1="675.7" x2="1460.9" y2="1023.4" stroke="#000" stroke-width="5.8"/>
<line x1="1458" y1="677.9" x2="2000" y2="677.9" stroke="#000" stroke-width="4.5"/>
<g fill="#000">
<circle cx="1498.1" cy="1009.9" r="6.8"/><circle cx="1653" cy="1020" r="6.8"/><circle cx="1759.6" cy="982.2" r="6.8"/><circle cx="1743.7" cy="1007.2" r="6.8"/><circle cx="1755.8" cy="1000.3" r="6.8"/><circle cx="1763.4" cy="1001" r="6.8"/><circle cx="1775.5" cy="1003.4" r="6.8"/><circle cx="1750" cy="1004" r="6.8"/><circle cx="1768" cy="1006" r="6.8"/><circle cx="1783" cy="1010" r="6.8"/><circle cx="1793.6" cy="1014" r="6.8"/><circle cx="1805.7" cy="1014.7" r="6.8"/><circle cx="1819.4" cy="1017.7" r="6.8"/><circle cx="1737" cy="1012" r="6.8"/><circle cx="1760" cy="1010" r="6.8"/><circle cx="1748" cy="1012" r="6.8"/><circle cx="1754" cy="1012" r="6.8"/><circle cx="1769" cy="1012" r="6.8"/><circle cx="1778" cy="1013" r="6.8"/><circle cx="1743" cy="1014" r="6.8"/><circle cx="1664" cy="1020" r="6.8"/><circle cx="1668" cy="1020" r="6.8"/><circle cx="1672" cy="1020" r="6.8"/><circle cx="1676" cy="1020" r="6.8"/><circle cx="1680" cy="1020" r="6.8"/><circle cx="1684" cy="1020" r="6.8"/><circle cx="1688" cy="1020" r="6.8"/><circle cx="1692" cy="1020" r="6.8"/><circle cx="1696" cy="1020" r="6.8"/><circle cx="1700" cy="1020" r="6.8"/><circle cx="1704" cy="1020" r="6.8"/><circle cx="1708" cy="1020" r="6.8"/><circle cx="1712" cy="1020" r="6.8"/><circle cx="1716" cy="1020" r="6.8"/><circle cx="1720" cy="1020" r="6.8"/><circle cx="1724" cy="1020" r="6.8"/><circle cx="1728" cy="1020" r="6.8"/><circle cx="1732" cy="1020" r="6.8"/><circle cx="1736" cy="1020" r="6.8"/><circle cx="1740" cy="1020" r="6.8"/><circle cx="1744" cy="1020" r="6.8"/><circle cx="1748" cy="1020" r="6.8"/><circle cx="1752" cy="1020" r="6.8"/><circle cx="1756" cy="1020" r="6.8"/><circle cx="1760" cy="1020" r="6.8"/><circle cx="1764" cy="1020" r="6.8"/><circle cx="1768" cy="1020" r="6.8"/><circle cx="1772" cy="1020" r="6.8"/><circle cx="1776" cy="1020" r="6.8"/><circle cx="1780" cy="1020" r="6.8"/><circle cx="1784" cy="1020" r="6.8"/><circle cx="1788" cy="1020" r="6.8"/><circle cx="1792" cy="1020" r="6.8"/><circle cx="1796" cy="1020" r="6.8"/><circle cx="1800" cy="1020" r="6.8"/><circle cx="1804" cy="1020" r="6.8"/><circle cx="1808" cy="1020" r="6.8"/><circle cx="1812" cy="1020" r="6.8"/>
</g>
<g fill="#ed7d31">
<circle cx="1765.7" cy="977.7" r="6.8"/><circle cx="1772.5" cy="988.2" r="6.8"/>
</g>
<g fill="#4472c4">
<circle cx="1839.5" cy="842.3" r="6.8"/>
</g>
<g fill="#ff0000">
<circle cx="1817.6" cy="909" r="6.8"/>
</g>
<text transform="translate(32.5 1282.4) scale(0.9637 1)" font-size="53.4" font-weight="bold" text-anchor="start" fill="#000">kb</text>
<line x1="64.8" y1="1346" x2="64.8" y2="1372.6" stroke="#000" stroke-width="4.6"/>
<text transform="translate(63.5 1329.5) scale(0.9637 1)" font-size="54.3" font-weight="bold" text-anchor="middle" fill="#000">0</text>
<line x1="202.9" y1="1346" x2="202.9" y2="1372.6" stroke="#000" stroke-width="4.6"/>
<text transform="translate(206 1329.5) scale(0.9637 1)" font-size="54.3" font-weight="bold" text-anchor="middle" fill="#000">1</text>
<line x1="342.3" y1="1346" x2="342.3" y2="1372.6" stroke="#000" stroke-width="4.6"/>
<text transform="translate(340.6 1329.5) scale(0.9637 1)" font-size="54.3" font-weight="bold" text-anchor="middle" fill="#000">2</text>
<line x1="479.6" y1="1346" x2="479.6" y2="1372.6" stroke="#000" stroke-width="4.6"/>
<text transform="translate(481.5 1329.5) scale(0.9637 1)" font-size="54.3" font-weight="bold" text-anchor="middle" fill="#000">3</text>
<line x1="618.3" y1="1346" x2="618.3" y2="1372.6" stroke="#000" stroke-width="4.6"/>
<text transform="translate(617.7 1329.5) scale(0.9637 1)" font-size="54.3" font-weight="bold" text-anchor="middle" fill="#000">4</text>
<line x1="757.6" y1="1346" x2="757.6" y2="1372.6" stroke="#000" stroke-width="4.6"/>
<text transform="translate(760 1329.5) scale(0.9637 1)" font-size="54.3" font-weight="bold" text-anchor="middle" fill="#000">5</text>
<line x1="894.2" y1="1346" x2="894.2" y2="1372.6" stroke="#000" stroke-width="4.6"/>
<text transform="translate(892.8 1329.5) scale(0.9637 1)" font-size="54.3" font-weight="bold" text-anchor="middle" fill="#000">6</text>
<line x1="1033.6" y1="1346" x2="1033.6" y2="1372.6" stroke="#000" stroke-width="4.6"/>
<text transform="translate(1034.7 1329.5) scale(0.9637 1)" font-size="54.3" font-weight="bold" text-anchor="middle" fill="#000">7</text>
<line x1="1172.3" y1="1346" x2="1172.3" y2="1372.6" stroke="#000" stroke-width="4.6"/>
<text transform="translate(1170.5 1329.5) scale(0.9637 1)" font-size="54.3" font-weight="bold" text-anchor="middle" fill="#000">8</text>
<line x1="1310.8" y1="1346" x2="1310.8" y2="1372.6" stroke="#000" stroke-width="4.6"/>
<text transform="translate(1311.8 1329.5) scale(0.9637 1)" font-size="54.3" font-weight="bold" text-anchor="middle" fill="#000">9</text>
<line x1="1447.6" y1="1346" x2="1447.6" y2="1372.6" stroke="#000" stroke-width="4.6"/>
<text transform="translate(1444.6 1329.5) scale(0.9637 1)" font-size="54.3" font-weight="bold" text-anchor="middle" fill="#000">10</text>
<line x1="1585.2" y1="1346" x2="1585.2" y2="1372.6" stroke="#000" stroke-width="4.6"/>
<text transform="translate(1584.6 1329.5) scale(0.9637 1)" font-size="54.3" font-weight="bold" text-anchor="middle" fill="#000">11</text>
<line x1="1720.1" y1="1346" x2="1720.1" y2="1372.6" stroke="#000" stroke-width="4.6"/>
<text transform="translate(1715.6 1329.5) scale(0.9637 1)" font-size="54.3" font-weight="bold" text-anchor="middle" fill="#000">12</text>
<line x1="1857" y1="1346" x2="1857" y2="1372.6" stroke="#000" stroke-width="4.6"/>
<text transform="translate(1857 1329.5) scale(0.9637 1)" font-size="54.3" font-weight="bold" text-anchor="middle" fill="#000">13</text>
<line x1="62.5" y1="1370.2" x2="1941" y2="1370.2" stroke="#000" stroke-width="5"/>
<line x1="97" y1="1443.2" x2="1878" y2="1443.2" stroke="#000" stroke-width="3"/>
<rect x="62.7" y="1402.4" width="34.1" height="84.4" fill="#fff" stroke="#000" stroke-width="2.9" stroke-linejoin="round"/>
<rect x="105" y="1402.4" width="127.8" height="84.4" fill="#fff" stroke="#000" stroke-width="2.9" stroke-linejoin="round"/>
<rect x="378.6" y="1402.4" width="32.4" height="85.6" fill="#fff" stroke="#000" stroke-width="2.9" stroke-linejoin="round"/>
<rect x="532.5" y="1402.4" width="96.7" height="84.4" fill="#fff" stroke="#000" stroke-width="2.9" stroke-linejoin="round"/>
<rect x="665" y="1402.4" width="150.7" height="84.4" fill="#fff" stroke="#000" stroke-width="2.9" stroke-linejoin="round"/>
<rect x="872.6" y="1402.4" width="12.6" height="84.4" fill="#fff" stroke="#000" stroke-width="2.9" stroke-linejoin="round"/>
<rect x="910.7" y="1402.4" width="98.1" height="84.4" fill="#fff" stroke="#000" stroke-width="2.9" stroke-linejoin="round"/>
<rect x="1103.8" y="1402.4" width="135.5" height="84.4" fill="#fff" stroke="#000" stroke-width="2.9" stroke-linejoin="round"/>
<rect x="1319.8" y="1402.4" width="108.2" height="84.4" fill="#fff" stroke="#000" stroke-width="2.9" stroke-linejoin="round"/>
<rect x="1587.6" y="1402.4" width="108" height="84.4" fill="#fff" stroke="#000" stroke-width="2.9" stroke-linejoin="round"/>
<rect x="1737.7" y="1402.4" width="101.9" height="84.4" fill="#fff" stroke="#000" stroke-width="2.9" stroke-linejoin="round"/>
<rect x="1878.5" y="1402.4" width="65.3" height="84.4" fill="#fff" stroke="#000" stroke-width="2.9" stroke-linejoin="round"/>
<polygon points="30.5,1501.1 55,1513.6 30.5,1526.1" fill="#000"/>
<polygon points="223.5,1501.1 199,1513.6 223.5,1526.1" fill="#000"/>
<line x1="28" y1="1513.6" x2="36.5" y2="1513.6" stroke="#000" stroke-width="8"/>
<line x1="217.5" y1="1513.6" x2="226" y2="1513.6" stroke="#000" stroke-width="8"/>
<line x1="201" y1="1513.6" x2="54" y2="1513.6" stroke="#000" stroke-width="8" stroke-dasharray="25 9"/>
<polygon points="565.5,1501.1 590,1513.6 565.5,1526.1" fill="#000"/>
<polygon points="1008,1501.1 983.5,1513.6 1008,1526.1" fill="#000"/>
<line x1="563" y1="1513.6" x2="571.5" y2="1513.6" stroke="#000" stroke-width="8"/>
<line x1="1002" y1="1513.6" x2="1010.5" y2="1513.6" stroke="#000" stroke-width="8"/>
<line x1="985.5" y1="1513.6" x2="589" y2="1513.6" stroke="#000" stroke-width="8" stroke-dasharray="25 9"/>
<polygon points="1176.5,1501.1 1201,1513.6 1176.5,1526.1" fill="#000"/>
<polygon points="1626.5,1501.1 1602,1513.6 1626.5,1526.1" fill="#000"/>
<line x1="1174" y1="1513.6" x2="1182.5" y2="1513.6" stroke="#000" stroke-width="8"/>
<line x1="1620.5" y1="1513.6" x2="1629" y2="1513.6" stroke="#000" stroke-width="8"/>
<line x1="1604" y1="1513.6" x2="1200" y2="1513.6" stroke="#000" stroke-width="8" stroke-dasharray="25 9"/>
<polygon points="1755.5,1501.1 1780,1513.6 1755.5,1526.1" fill="#000"/>
<polygon points="1961.8,1501.1 1937.3,1513.6 1961.8,1526.1" fill="#000"/>
<line x1="1753" y1="1513.6" x2="1761.5" y2="1513.6" stroke="#000" stroke-width="8"/>
<line x1="1955.8" y1="1513.6" x2="1964.3" y2="1513.6" stroke="#000" stroke-width="8"/>
<line x1="1939.3" y1="1513.6" x2="1779" y2="1513.6" stroke="#000" stroke-width="8" stroke-dasharray="25 9"/>
<polygon points="167.5,1580 192,1592.5 167.5,1605" fill="#000"/>
<polygon points="624,1580 599.5,1592.5 624,1605" fill="#000"/>
<line x1="165" y1="1592.5" x2="173.5" y2="1592.5" stroke="#000" stroke-width="8"/>
<line x1="618" y1="1592.5" x2="626.5" y2="1592.5" stroke="#000" stroke-width="8"/>
<line x1="601.5" y1="1592.5" x2="191" y2="1592.5" stroke="#000" stroke-width="8" stroke-dasharray="25 9"/>
<polygon points="950,1580 974.5,1592.5 950,1605" fill="#000"/>
<polygon points="1238,1580 1213.5,1592.5 1238,1605" fill="#000"/>
<line x1="947.5" y1="1592.5" x2="956" y2="1592.5" stroke="#000" stroke-width="8"/>
<line x1="1232" y1="1592.5" x2="1240.5" y2="1592.5" stroke="#000" stroke-width="8"/>
<line x1="1215.5" y1="1592.5" x2="973.5" y2="1592.5" stroke="#000" stroke-width="8" stroke-dasharray="25 9"/>
<polygon points="1397,1580 1421.5,1592.5 1397,1605" fill="#000"/>
<polygon points="1815.8,1580 1791.3,1592.5 1815.8,1605" fill="#000"/>
<line x1="1394.5" y1="1592.5" x2="1403" y2="1592.5" stroke="#000" stroke-width="8"/>
<line x1="1809.8" y1="1592.5" x2="1818.3" y2="1592.5" stroke="#000" stroke-width="8"/>
<line x1="1793.3" y1="1592.5" x2="1420.5" y2="1592.5" stroke="#000" stroke-width="8" stroke-dasharray="25 9"/>
<text transform="translate(23 1564) scale(0.9637 1)" font-size="28.6" font-weight="bold" text-anchor="start" fill="#000">F1</text>
<text transform="translate(198.5 1564) scale(0.9637 1)" font-size="28.6" font-weight="bold" text-anchor="start" fill="#000">R1</text>
<text transform="translate(557.5 1564) scale(0.9637 1)" font-size="28.6" font-weight="bold" text-anchor="start" fill="#000">F3</text>
<text transform="translate(981.8 1564) scale(0.9637 1)" font-size="28.6" font-weight="bold" text-anchor="start" fill="#000">R3</text>
<text transform="translate(1177 1564) scale(0.9637 1)" font-size="28.6" font-weight="bold" text-anchor="start" fill="#000">F5</text>
<text transform="translate(1600.5 1564) scale(0.9637 1)" font-size="28.6" font-weight="bold" text-anchor="start" fill="#000">R5</text>
<text transform="translate(1751.6 1564) scale(0.9637 1)" font-size="28.6" font-weight="bold" text-anchor="start" fill="#000">F7</text>
<text transform="translate(1925 1564) scale(1.0408 1)" font-size="28.6" font-weight="bold" text-anchor="start" fill="#000">R7-2</text>
<text transform="translate(165.5 1644.5) scale(0.9637 1)" font-size="28.6" font-weight="bold" text-anchor="start" fill="#000">F2</text>
<text transform="translate(587.5 1644.5) scale(0.9637 1)" font-size="28.6" font-weight="bold" text-anchor="start" fill="#000">R2</text>
<text transform="translate(948.3 1644.5) scale(0.9637 1)" font-size="28.6" font-weight="bold" text-anchor="start" fill="#000">F4</text>
<text transform="translate(1208.8 1644.5) scale(0.9637 1)" font-size="28.6" font-weight="bold" text-anchor="start" fill="#000">R4</text>
<text transform="translate(1395 1644.5) scale(0.9637 1)" font-size="28.6" font-weight="bold" text-anchor="start" fill="#000">F6</text>
<text transform="translate(1785 1644.5) scale(0.9637 1)" font-size="28.6" font-weight="bold" text-anchor="start" fill="#000">R6</text>
<text transform="translate(148 1833.3) scale(0.9637 1)" font-size="41" font-weight="bold" text-anchor="start" fill="#000">SICA-HUVEC</text>
<rect x="555.7" y="1759.8" width="140" height="123.5" fill="#d9d9d9" stroke="none" stroke-width="0"/>
<rect x="706" y="1759.8" width="140.7" height="123.5" fill="#d9d9d9" stroke="none" stroke-width="0"/>
<rect x="858.5" y="1759.8" width="140.7" height="123.5" fill="#d9d9d9" stroke="none" stroke-width="0"/>
<rect x="1009.2" y="1759.8" width="140" height="123.5" fill="#d9d9d9" stroke="none" stroke-width="0"/>
<rect x="1162.7" y="1759.8" width="139.3" height="123.5" fill="#d9d9d9" stroke="none" stroke-width="0"/>
<rect x="1312.7" y="1759.8" width="140" height="123.5" fill="#d9d9d9" stroke="none" stroke-width="0"/>
<rect x="1463.1" y="1759.8" width="140.4" height="123.5" fill="#d9d9d9" stroke="none" stroke-width="0"/>
<rect x="1605.5" y="1754.8" width="74.5" height="133.5" fill="#000" stroke="none" stroke-width="0"/>
<rect x="457.1" y="1754.8" width="1283" height="133.5" fill="none" stroke="#000" stroke-width="6"/>
<line x1="550.7" y1="1754.8" x2="550.7" y2="1888.3" stroke="#000" stroke-width="6"/>
<line x1="700.9" y1="1754.8" x2="700.9" y2="1888.3" stroke="#000" stroke-width="6.3"/>
<line x1="852.6" y1="1754.8" x2="852.6" y2="1888.3" stroke="#000" stroke-width="7.8"/>
<line x1="1004.2" y1="1754.8" x2="1004.2" y2="1888.3" stroke="#000" stroke-width="6"/>
<line x1="1156" y1="1754.8" x2="1156" y2="1888.3" stroke="#000" stroke-width="9.5"/>
<line x1="1307.4" y1="1754.8" x2="1307.4" y2="1888.3" stroke="#000" stroke-width="6.7"/>
<line x1="1457.9" y1="1754.8" x2="1457.9" y2="1888.3" stroke="#000" stroke-width="6.4"/>
<text transform="translate(623.5 1837.5) scale(0.9637 1)" font-size="44.4" font-weight="bold" text-anchor="middle" fill="#000">CRD1</text>
<text transform="translate(775.5 1837.5) scale(0.9637 1)" font-size="44.4" font-weight="bold" text-anchor="middle" fill="#000">CRD2</text>
<text transform="translate(927.5 1837.5) scale(0.9637 1)" font-size="44.4" font-weight="bold" text-anchor="middle" fill="#000">CRD3</text>
<text transform="translate(1079 1837.5) scale(0.9637 1)" font-size="44.4" font-weight="bold" text-anchor="middle" fill="#000">CRD4</text>
<text transform="translate(1231.5 1837.5) scale(0.9637 1)" font-size="44.4" font-weight="bold" text-anchor="middle" fill="#000">CRD5</text>
<text transform="translate(1381.8 1837.5) scale(0.9637 1)" font-size="44.4" font-weight="bold" text-anchor="middle" fill="#000">CRD6</text>
<text transform="translate(1531.7 1837.5) scale(0.9637 1)" font-size="44.4" font-weight="bold" text-anchor="middle" fill="#000">CRD7</text>
<text transform="translate(1637.4 1810.6) scale(0.9637 1)" font-size="45.1" font-weight="normal" text-anchor="middle" fill="#fff" stroke="#fff" stroke-width="0.5">T</text>
<text transform="translate(1642.4 1863.6) scale(0.9637 1)" font-size="45.1" font-weight="normal" text-anchor="middle" fill="#fff" stroke="#fff" stroke-width="0.5">M</text>
</svg></body></html>
